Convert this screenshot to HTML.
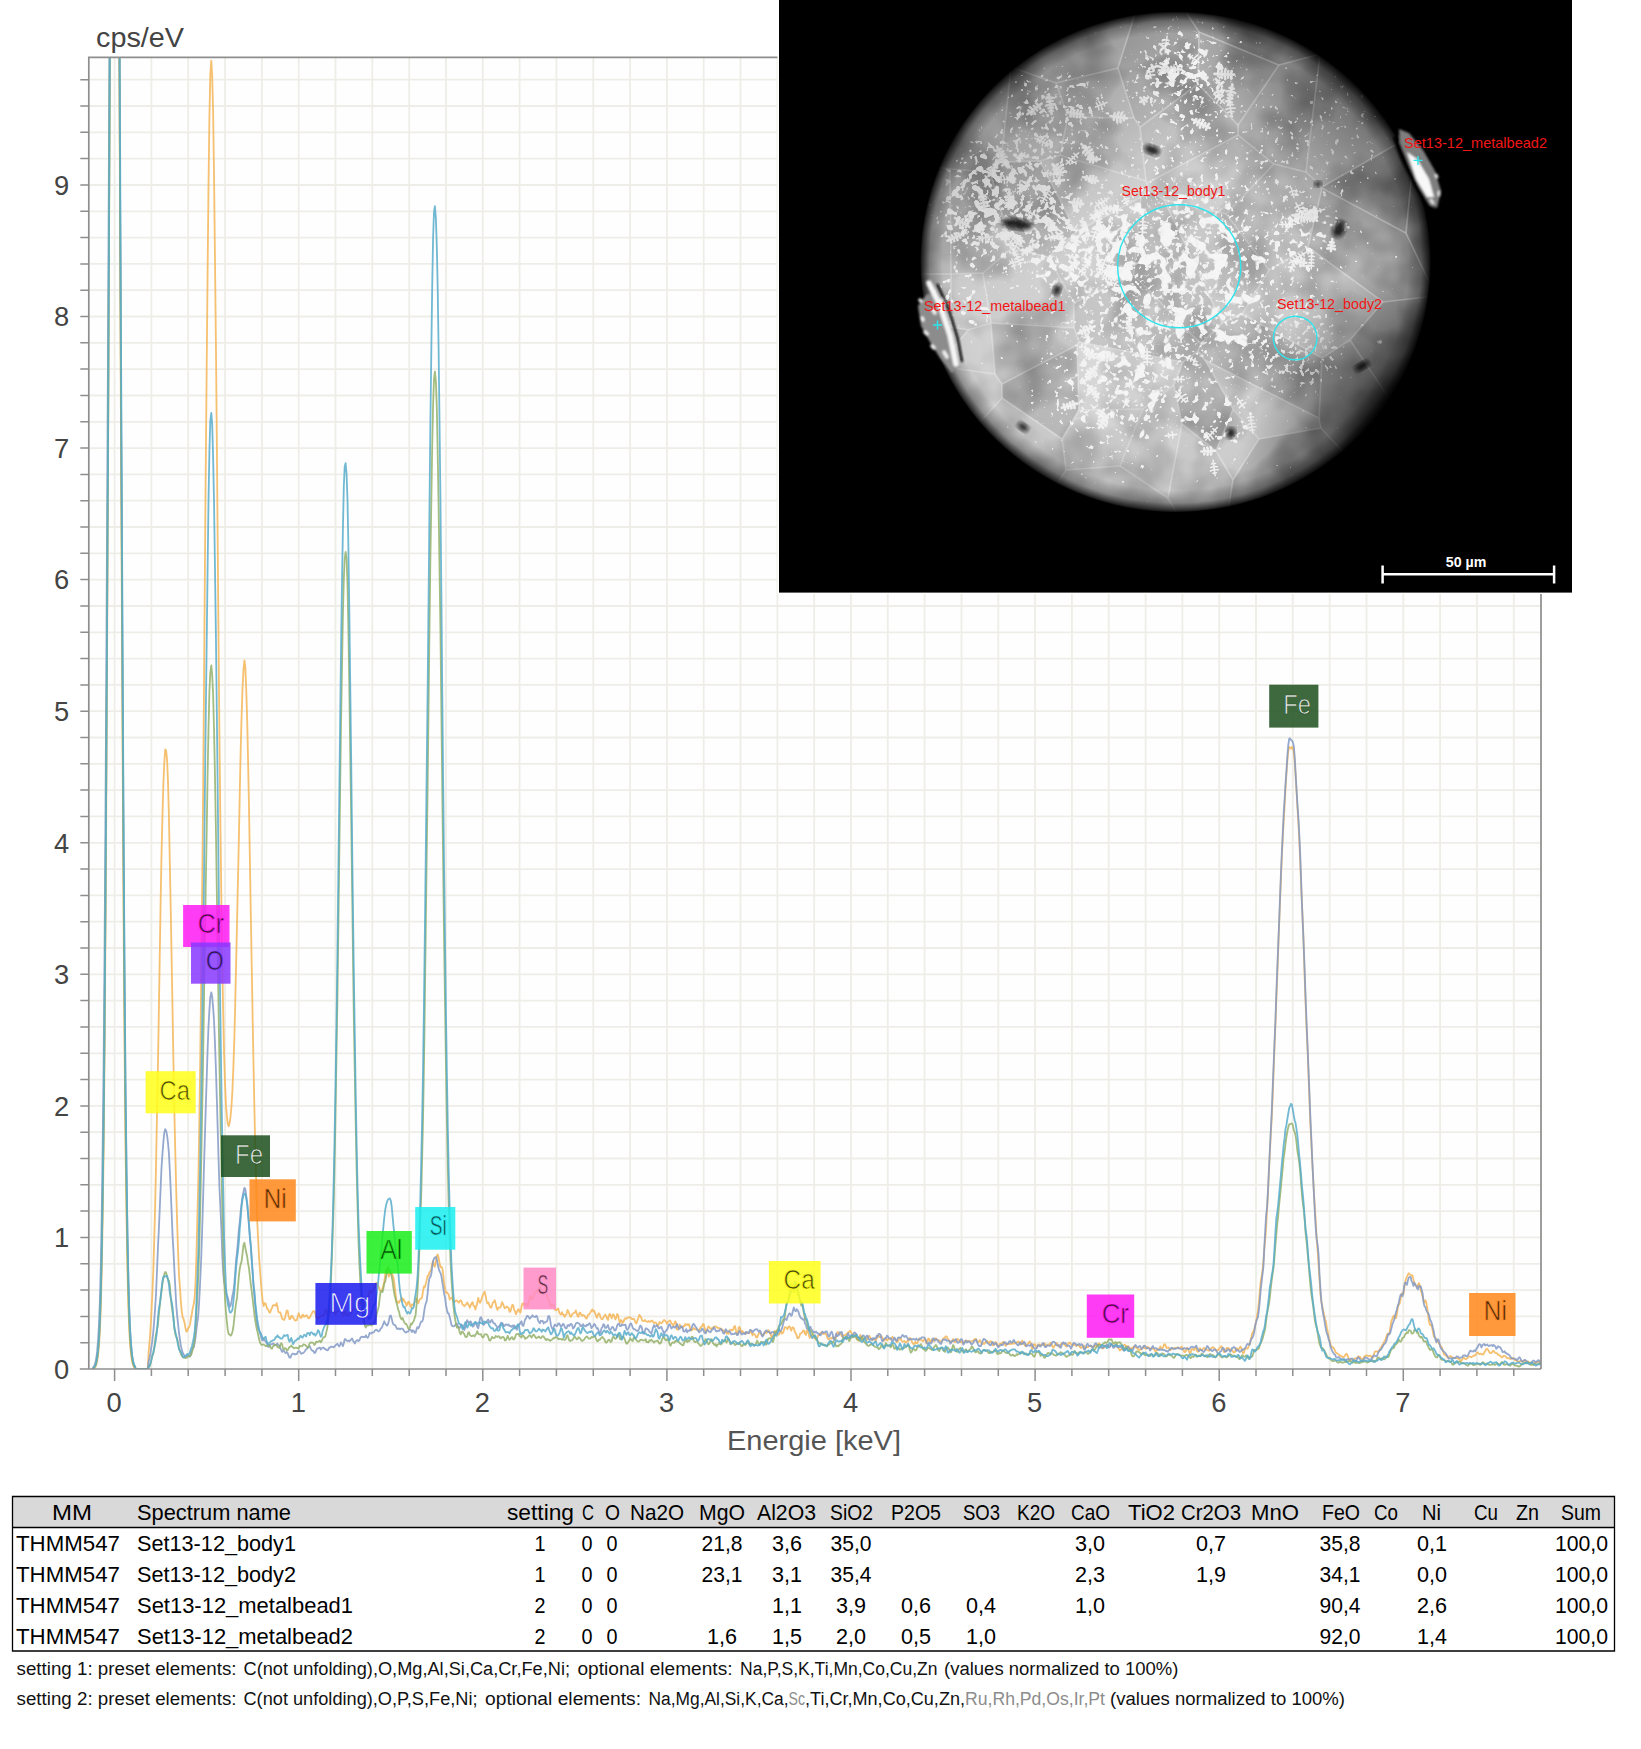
<!DOCTYPE html>
<html lang="de"><head><meta charset="utf-8"><title>EDS Spektrum Set13-12</title>
<style>html,body{margin:0;padding:0;background:#fff}svg{display:block}text{font-family:"Liberation Sans",sans-serif}</style></head><body>
<svg width="1641" height="1749" viewBox="0 0 1641 1749">
<defs>
<radialGradient id="sph" gradientUnits="userSpaceOnUse" cx="1130" cy="320" r="340">
<stop offset="0" stop-color="#d0d0d0"/><stop offset="0.45" stop-color="#c0c0c0"/><stop offset="0.7" stop-color="#acacac"/><stop offset="0.88" stop-color="#949494"/><stop offset="1" stop-color="#727272"/>
</radialGradient>
<radialGradient id="shade" gradientUnits="userSpaceOnUse" cx="1440" cy="450" r="200">
<stop offset="0" stop-color="#000" stop-opacity="0.95"/><stop offset="0.34" stop-color="#000" stop-opacity="0.88"/><stop offset="0.51" stop-color="#000" stop-opacity="0.5"/><stop offset="0.7" stop-color="#000" stop-opacity="0.25"/><stop offset="0.92" stop-color="#000" stop-opacity="0.06"/><stop offset="1" stop-color="#000" stop-opacity="0"/>
</radialGradient>
<radialGradient id="shade2" gradientUnits="userSpaceOnUse" cx="1400" cy="60" r="200">
<stop offset="0" stop-color="#000" stop-opacity="0.5"/><stop offset="0.5" stop-color="#000" stop-opacity="0.25"/><stop offset="1" stop-color="#000" stop-opacity="0"/>
</radialGradient>
<radialGradient id="shade3" gradientUnits="userSpaceOnUse" cx="940" cy="40" r="250">
<stop offset="0" stop-color="#000" stop-opacity="0.3"/><stop offset="0.5" stop-color="#000" stop-opacity="0.18"/><stop offset="1" stop-color="#000" stop-opacity="0"/>
</radialGradient>
<radialGradient id="rim" cx="0.5" cy="0.5" r="0.5">
<stop offset="0" stop-color="#000" stop-opacity="0"/><stop offset="0.91" stop-color="#000" stop-opacity="0"/><stop offset="0.96" stop-color="#000" stop-opacity="0.3"/><stop offset="0.988" stop-color="#000" stop-opacity="0.75"/><stop offset="1" stop-color="#000" stop-opacity="1"/>
</radialGradient>
<radialGradient id="dg"><stop offset="0" stop-color="#fff" stop-opacity="1"/><stop offset="0.55" stop-color="#fff" stop-opacity="0.75"/><stop offset="1" stop-color="#fff" stop-opacity="0"/></radialGradient>
<filter id="flbig" x="0" y="0" width="1" height="1" color-interpolation-filters="sRGB">
<feTurbulence type="fractalNoise" baseFrequency="0.075" numOctaves="2" seed="4" result="n"/>
<feColorMatrix in="n" type="matrix" values="1 0 0 0 0  1 0 0 0 0  1 0 0 0 0  0 0 0 0 1" result="ng"/>
<feComposite in="ng" in2="SourceGraphic" operator="arithmetic" k1="0" k2="1" k3="0.35" k4="-0.175" result="s"/>
<feColorMatrix in="s" type="matrix" values="0 0 0 0 0.96  0 0 0 0 0.96  0 0 0 0 0.96  16 0 0 0 -10.2"/>
</filter>
<filter id="flmid" x="0" y="0" width="1" height="1" color-interpolation-filters="sRGB">
<feTurbulence type="fractalNoise" baseFrequency="0.125" numOctaves="2" seed="21" result="n"/>
<feColorMatrix in="n" type="matrix" values="1 0 0 0 0  1 0 0 0 0  1 0 0 0 0  0 0 0 0 1" result="ng"/>
<feComposite in="ng" in2="SourceGraphic" operator="arithmetic" k1="0" k2="1" k3="0.33" k4="-0.17" result="s"/>
<feColorMatrix in="s" type="matrix" values="0 0 0 0 0.95  0 0 0 0 0.95  0 0 0 0 0.95  15 0 0 0 -9.7"/>
</filter>
<filter id="flsmall" x="0" y="0" width="1" height="1" color-interpolation-filters="sRGB">
<feTurbulence type="fractalNoise" baseFrequency="0.2" numOctaves="2" seed="9" result="n"/>
<feColorMatrix in="n" type="matrix" values="1 0 0 0 0  1 0 0 0 0  1 0 0 0 0  0 0 0 0 1" result="ng"/>
<feComposite in="ng" in2="SourceGraphic" operator="arithmetic" k1="0" k2="1" k3="0.3" k4="-0.17" result="s"/>
<feColorMatrix in="s" type="matrix" values="0 0 0 0 0.94  0 0 0 0 0.94  0 0 0 0 0.94  14 0 0 0 -9.3"/>
</filter>
<filter id="mottle" x="0" y="0" width="1" height="1" color-interpolation-filters="sRGB">
<feTurbulence type="fractalNoise" baseFrequency="0.018" numOctaves="3" seed="2" result="n"/>
<feColorMatrix in="n" type="matrix" values="2.6 0 0 0 -0.55  2.6 0 0 0 -0.55  2.6 0 0 0 -0.55  0 0 0 0 0.6"/>
</filter>
<clipPath id="plotclip"><rect x="88.8" y="57.3" width="1452.2" height="1311.7"/></clipPath>
<clipPath id="sphclip"><ellipse cx="1175.5" cy="262" rx="255" ry="250"/></clipPath>
<filter id="blur1"><feGaussianBlur stdDeviation="0.8"/></filter>
<filter id="blur2"><feGaussianBlur stdDeviation="2"/></filter>
</defs>

<rect width="1641" height="1749" fill="#fff"/>
<rect x="88.8" y="57.3" width="1452.2" height="1311.7" fill="#fefefe"/>
<path d="M114.6 57.3V1369.0M151.4 57.3V1369.0M188.2 57.3V1369.0M225.1 57.3V1369.0M261.9 57.3V1369.0M298.7 57.3V1369.0M335.5 57.3V1369.0M372.3 57.3V1369.0M409.2 57.3V1369.0M446.0 57.3V1369.0M482.8 57.3V1369.0M519.6 57.3V1369.0M556.4 57.3V1369.0M593.3 57.3V1369.0M630.1 57.3V1369.0M666.9 57.3V1369.0M703.7 57.3V1369.0M740.5 57.3V1369.0M777.4 57.3V1369.0M814.2 57.3V1369.0M851.0 57.3V1369.0M887.8 57.3V1369.0M924.6 57.3V1369.0M961.5 57.3V1369.0M998.3 57.3V1369.0M1035.1 57.3V1369.0M1071.9 57.3V1369.0M1108.7 57.3V1369.0M1145.6 57.3V1369.0M1182.4 57.3V1369.0M1219.2 57.3V1369.0M1256.0 57.3V1369.0M1292.8 57.3V1369.0M1329.7 57.3V1369.0M1366.5 57.3V1369.0M1403.3 57.3V1369.0M1440.1 57.3V1369.0M1476.9 57.3V1369.0M1513.8 57.3V1369.0M88.8 1342.7H1541.0M88.8 1316.4H1541.0M88.8 1290.1H1541.0M88.8 1263.8H1541.0M88.8 1237.4H1541.0M88.8 1211.1H1541.0M88.8 1184.8H1541.0M88.8 1158.5H1541.0M88.8 1132.2H1541.0M88.8 1105.9H1541.0M88.8 1079.6H1541.0M88.8 1053.3H1541.0M88.8 1026.9H1541.0M88.8 1000.6H1541.0M88.8 974.3H1541.0M88.8 948.0H1541.0M88.8 921.7H1541.0M88.8 895.4H1541.0M88.8 869.1H1541.0M88.8 842.8H1541.0M88.8 816.4H1541.0M88.8 790.1H1541.0M88.8 763.8H1541.0M88.8 737.5H1541.0M88.8 711.2H1541.0M88.8 684.9H1541.0M88.8 658.6H1541.0M88.8 632.3H1541.0M88.8 606.0H1541.0M88.8 579.6H1541.0M88.8 553.3H1541.0M88.8 527.0H1541.0M88.8 500.7H1541.0M88.8 474.4H1541.0M88.8 448.1H1541.0M88.8 421.8H1541.0M88.8 395.5H1541.0M88.8 369.1H1541.0M88.8 342.8H1541.0M88.8 316.5H1541.0M88.8 290.2H1541.0M88.8 263.9H1541.0M88.8 237.6H1541.0M88.8 211.3H1541.0M88.8 185.0H1541.0M88.8 158.6H1541.0M88.8 132.3H1541.0M88.8 106.0H1541.0M88.8 79.7H1541.0" stroke="#eeede7" stroke-width="1.8" fill="none"/>
<g clip-path="url(#plotclip)" fill="none" stroke-width="1.8" stroke-linejoin="round" stroke-opacity="0.85">
<polyline points="92.5,1369.0 93.4,1368.4 94.3,1367.9 95.3,1366.8 96.2,1364.8 97.1,1361.4 98.0,1355.5 99.0,1345.9 99.9,1330.6 100.8,1307.1 101.7,1272.3 102.6,1222.5 103.6,1153.8 104.5,1062.4 105.4,945.5 106.3,801.7 107.2,632.0 108.2,440.6 109.1,235.0 110.0,25.8 110.9,-78.2 111.8,-78.2 112.8,-78.2 113.7,-78.2 114.6,-78.2 115.5,-78.2 116.4,-78.2 117.4,-78.2 118.3,-78.2 119.2,25.8 120.1,235.0 121.0,440.6 122.0,632.0 122.9,801.7 123.8,945.5 124.7,1062.4 125.6,1153.8 126.6,1222.5 127.5,1272.3 128.4,1307.1 129.3,1330.6 130.2,1345.9 131.2,1355.5 132.1,1361.4 133.0,1364.8 133.9,1366.8 134.9,1367.9 135.8,1369.0 136.7,1369.0 137.6,1369.0 138.5,1369.0 139.5,1369.0 140.4,1369.0 141.3,1369.0 142.2,1369.0 143.1,1369.0 144.1,1369.0 145.0,1369.0 145.9,1369.0 146.8,1369.0 147.7,1369.0 148.7,1351.3 149.6,1341.8 150.5,1328.9 151.4,1312.6 152.3,1295.0 153.3,1271.6 154.2,1241.1 155.1,1207.1 156.0,1167.0 156.9,1119.2 157.9,1067.7 158.8,1014.4 159.7,958.9 160.6,904.6 161.5,854.8 162.5,814.6 163.4,783.3 164.3,763.2 165.2,749.5 166.1,750.3 167.1,760.2 168.0,781.7 168.9,815.0 169.8,861.9 170.8,913.4 171.7,962.3 172.6,1014.2 173.5,1065.4 174.4,1114.1 175.4,1156.7 176.3,1193.2 177.2,1224.6 178.1,1252.2 179.0,1274.7 180.0,1288.1 180.9,1302.5 181.8,1311.4 182.7,1317.3 183.6,1319.1 184.6,1322.9 185.5,1328.0 186.4,1331.7 187.3,1330.9 188.2,1328.2 189.2,1327.0 190.1,1324.2 191.0,1318.0 191.9,1313.5 192.8,1307.9 193.8,1303.8 194.7,1296.5 195.6,1281.3 196.5,1252.8 197.4,1216.3 198.4,1177.0 199.3,1125.4 200.2,1062.4 201.1,987.4 202.0,902.8 203.0,807.0 203.9,700.3 204.8,583.3 205.7,472.6 206.7,366.8 207.6,272.2 208.5,186.6 209.4,118.4 210.3,74.1 211.3,60.6 212.2,76.0 213.1,111.3 214.0,171.6 214.9,252.1 215.9,342.0 216.8,437.6 217.7,541.2 218.6,646.8 219.5,743.8 220.5,831.5 221.4,904.3 222.3,964.7 223.2,1013.2 224.1,1054.9 225.1,1085.6 226.0,1105.4 226.9,1116.6 227.8,1123.8 228.7,1126.3 229.7,1122.8 230.6,1115.8 231.5,1105.7 232.4,1090.9 233.3,1069.4 234.3,1040.3 235.2,1004.6 236.1,964.3 237.0,924.5 237.9,882.4 238.9,837.3 239.8,791.4 240.7,749.3 241.6,715.9 242.5,688.7 243.5,669.4 244.4,660.5 245.3,666.6 246.2,688.6 247.2,720.4 248.1,762.1 249.0,807.6 249.9,860.0 250.8,914.3 251.8,970.4 252.7,1021.4 253.6,1069.1 254.5,1113.2 255.4,1154.7 256.4,1189.2 257.3,1222.2 258.2,1240.7 259.1,1257.7 260.0,1270.0 261.0,1283.4 261.9,1293.7 262.8,1302.5 263.7,1306.0 264.6,1303.1 265.6,1303.5 266.5,1306.6 267.4,1309.1 268.3,1309.8 269.2,1312.1 270.2,1312.6 271.1,1309.7 272.0,1307.8 272.9,1305.4 273.8,1305.1 274.8,1305.4 275.7,1305.7 276.6,1303.2 277.5,1306.7 278.4,1311.8 279.4,1312.7 280.3,1312.4 281.2,1315.0 282.1,1318.7 283.1,1319.3 284.0,1320.0 284.9,1318.2 285.8,1314.3 286.7,1310.4 287.7,1310.8 288.6,1316.0 289.5,1319.2 290.4,1318.9 291.3,1316.0 292.3,1315.9 293.2,1318.1 294.1,1318.9 295.0,1320.6 295.9,1320.3 296.9,1319.9 297.8,1316.2 298.7,1313.2 299.6,1316.2 300.5,1317.9 301.5,1317.8 302.4,1314.9 303.3,1314.8 304.2,1316.8 305.1,1316.2 306.1,1315.4 307.0,1315.3 307.9,1317.7 308.8,1318.4 309.7,1317.7 310.7,1315.5 311.6,1314.2 312.5,1311.9 313.4,1311.1 314.3,1311.2 315.3,1313.7 316.2,1316.7 317.1,1318.1 318.0,1318.8 319.0,1317.0 319.9,1316.5 320.8,1315.8 321.7,1315.5 322.6,1314.9 323.6,1315.5 324.5,1313.6 325.4,1309.9 326.3,1310.5 327.2,1313.8 328.2,1316.2 329.1,1315.5 330.0,1313.0 330.9,1310.7 331.8,1308.9 332.8,1308.2 333.7,1309.5 334.6,1312.4 335.5,1314.6 336.4,1312.4 337.4,1311.7 338.3,1311.2 339.2,1310.5 340.1,1308.4 341.0,1308.5 342.0,1311.5 342.9,1315.7 343.8,1314.9 344.7,1311.8 345.6,1311.1 346.6,1313.9 347.5,1314.8 348.4,1315.6 349.3,1314.9 350.2,1314.3 351.2,1312.5 352.1,1311.3 353.0,1309.5 353.9,1308.4 354.9,1308.0 355.8,1307.3 356.7,1307.6 357.6,1304.8 358.5,1303.4 359.5,1301.2 360.4,1303.5 361.3,1302.3 362.2,1302.6 363.1,1301.4 364.1,1305.8 365.0,1303.3 365.9,1300.4 366.8,1297.8 367.7,1298.7 368.7,1294.8 369.6,1291.5 370.5,1290.8 371.4,1292.5 372.3,1291.2 373.3,1290.2 374.2,1287.7 375.1,1287.0 376.0,1283.0 376.9,1283.1 377.9,1285.1 378.8,1287.4 379.7,1289.7 380.6,1290.9 381.5,1290.8 382.5,1288.5 383.4,1285.5 384.3,1281.7 385.2,1275.0 386.1,1269.4 387.1,1270.4 388.0,1273.8 388.9,1276.6 389.8,1273.1 390.8,1273.4 391.7,1272.4 392.6,1275.4 393.5,1278.1 394.4,1283.6 395.4,1292.5 396.3,1300.0 397.2,1302.8 398.1,1301.6 399.0,1302.8 400.0,1300.5 400.9,1299.7 401.8,1297.9 402.7,1300.6 403.6,1299.0 404.6,1302.0 405.5,1302.1 406.4,1305.8 407.3,1304.4 408.2,1302.0 409.2,1301.9 410.1,1305.5 411.0,1307.1 411.9,1304.3 412.8,1305.2 413.8,1304.2 414.7,1302.4 415.6,1298.6 416.5,1298.8 417.4,1300.6 418.4,1303.3 419.3,1300.4 420.2,1298.7 421.1,1298.7 422.0,1297.7 423.0,1291.3 423.9,1286.5 424.8,1287.4 425.7,1283.9 426.6,1280.4 427.6,1275.7 428.5,1275.9 429.4,1272.6 430.3,1271.3 431.3,1269.4 432.2,1263.5 433.1,1261.1 434.0,1265.3 434.9,1266.7 435.9,1261.3 436.8,1255.8 437.7,1254.4 438.6,1257.7 439.5,1262.7 440.5,1267.3 441.4,1266.6 442.3,1268.1 443.2,1274.1 444.1,1283.3 445.1,1289.1 446.0,1292.8 446.9,1292.2 447.8,1293.4 448.7,1294.5 449.7,1299.5 450.6,1298.4 451.5,1297.6 452.4,1298.6 453.3,1301.2 454.3,1302.0 455.2,1301.3 456.1,1300.4 457.0,1300.6 457.9,1301.7 458.9,1302.7 459.8,1300.8 460.7,1300.4 461.6,1301.4 462.5,1304.4 463.5,1305.2 464.4,1306.3 465.3,1305.0 466.2,1304.5 467.2,1302.4 468.1,1303.9 469.0,1305.6 469.9,1307.7 470.8,1305.1 471.8,1302.9 472.7,1302.2 473.6,1306.1 474.5,1306.1 475.4,1309.6 476.4,1305.9 477.3,1303.1 478.2,1297.8 479.1,1301.3 480.0,1302.7 481.0,1301.0 481.9,1297.7 482.8,1295.3 483.7,1293.6 484.6,1291.6 485.6,1295.6 486.5,1300.7 487.4,1303.4 488.3,1302.4 489.2,1304.6 490.2,1307.3 491.1,1307.8 492.0,1305.6 492.9,1302.4 493.8,1302.1 494.8,1300.3 495.7,1303.8 496.6,1307.8 497.5,1310.0 498.4,1307.5 499.4,1307.7 500.3,1307.7 501.2,1305.3 502.1,1302.1 503.1,1304.1 504.0,1306.7 504.9,1308.3 505.8,1307.7 506.7,1306.5 507.7,1307.2 508.6,1307.6 509.5,1311.9 510.4,1311.5 511.3,1308.3 512.3,1304.8 513.2,1305.2 514.1,1309.5 515.0,1311.3 515.9,1314.3 516.9,1312.0 517.8,1309.8 518.7,1309.3 519.6,1311.7 520.5,1312.7 521.5,1306.7 522.4,1303.6 523.3,1303.2 524.2,1305.5 525.1,1304.0 526.1,1303.6 527.0,1305.4 527.9,1306.3 528.8,1301.9 529.7,1297.0 530.7,1295.9 531.6,1299.6 532.5,1299.3 533.4,1296.7 534.3,1294.4 535.3,1292.2 536.2,1291.5 537.1,1290.8 538.0,1290.3 539.0,1288.2 539.9,1286.5 540.8,1288.1 541.7,1290.6 542.6,1292.6 543.6,1292.4 544.5,1291.1 545.4,1292.1 546.3,1294.3 547.2,1297.2 548.2,1298.0 549.1,1301.1 550.0,1304.3 550.9,1306.6 551.8,1304.5 552.8,1305.4 553.7,1305.2 554.6,1308.9 555.5,1310.2 556.4,1310.3 557.4,1309.0 558.3,1308.4 559.2,1312.5 560.1,1313.9 561.0,1314.6 562.0,1312.2 562.9,1314.6 563.8,1314.7 564.7,1316.9 565.6,1315.0 566.6,1314.1 567.5,1309.9 568.4,1311.4 569.3,1314.0 570.2,1316.5 571.2,1316.6 572.1,1314.3 573.0,1313.6 573.9,1312.8 574.9,1312.7 575.8,1310.4 576.7,1313.4 577.6,1316.3 578.5,1316.7 579.5,1312.6 580.4,1312.9 581.3,1314.9 582.2,1315.9 583.1,1315.0 584.1,1315.4 585.0,1316.6 585.9,1318.4 586.8,1318.5 587.7,1315.5 588.7,1314.5 589.6,1313.9 590.5,1312.4 591.4,1310.5 592.3,1309.5 593.3,1311.4 594.2,1310.7 595.1,1313.2 596.0,1315.5 596.9,1317.9 597.9,1314.7 598.8,1313.3 599.7,1314.3 600.6,1317.8 601.5,1319.0 602.5,1319.0 603.4,1317.5 604.3,1315.9 605.2,1314.6 606.1,1315.7 607.1,1318.6 608.0,1320.1 608.9,1315.2 609.8,1313.8 610.7,1315.8 611.7,1318.4 612.6,1314.9 613.5,1314.4 614.4,1316.7 615.4,1319.4 616.3,1317.5 617.2,1314.0 618.1,1315.2 619.0,1320.0 620.0,1322.9 620.9,1319.9 621.8,1320.6 622.7,1322.9 623.6,1321.7 624.6,1318.9 625.5,1318.2 626.4,1318.9 627.3,1317.6 628.2,1317.6 629.2,1317.6 630.1,1317.0 631.0,1318.0 631.9,1319.1 632.8,1319.0 633.8,1318.7 634.7,1320.2 635.6,1322.6 636.5,1323.4 637.4,1320.4 638.4,1317.7 639.3,1314.9 640.2,1316.0 641.1,1317.1 642.0,1320.3 643.0,1321.1 643.9,1321.2 644.8,1319.9 645.7,1321.0 646.6,1321.6 647.6,1321.8 648.5,1321.0 649.4,1321.9 650.3,1321.9 651.3,1320.7 652.2,1320.6 653.1,1321.7 654.0,1323.2 654.9,1322.7 655.9,1322.5 656.8,1324.2 657.7,1326.0 658.6,1324.6 659.5,1322.0 660.5,1323.0 661.4,1323.5 662.3,1322.5 663.2,1320.8 664.1,1319.9 665.1,1320.8 666.0,1321.7 666.9,1323.7 667.8,1322.5 668.7,1321.4 669.7,1320.5 670.6,1321.2 671.5,1323.6 672.4,1324.2 673.3,1326.1 674.3,1323.3 675.2,1321.4 676.1,1322.3 677.0,1329.4 677.9,1329.8 678.9,1327.5 679.8,1324.5 680.7,1327.2 681.6,1327.0 682.5,1328.0 683.5,1326.0 684.4,1326.1 685.3,1324.0 686.2,1325.0 687.2,1324.1 688.1,1325.2 689.0,1324.2 689.9,1327.6 690.8,1330.6 691.8,1330.2 692.7,1328.7 693.6,1328.0 694.5,1329.4 695.4,1329.1 696.4,1328.8 697.3,1329.7 698.2,1330.8 699.1,1329.9 700.0,1328.5 701.0,1326.9 701.9,1326.7 702.8,1324.1 703.7,1324.2 704.6,1327.7 705.6,1331.2 706.5,1331.9 707.4,1328.3 708.3,1326.5 709.2,1327.1 710.2,1328.4 711.1,1329.0 712.0,1328.2 712.9,1328.2 713.8,1326.8 714.8,1326.7 715.7,1326.2 716.6,1327.3 717.5,1327.4 718.4,1328.5 719.4,1328.2 720.3,1328.5 721.2,1328.7 722.1,1330.2 723.1,1331.0 724.0,1330.3 724.9,1332.3 725.8,1331.7 726.7,1333.7 727.7,1332.8 728.6,1333.8 729.5,1330.4 730.4,1329.6 731.3,1329.6 732.3,1330.5 733.2,1329.7 734.1,1326.8 735.0,1326.0 735.9,1330.3 736.9,1334.5 737.8,1333.9 738.7,1327.5 739.6,1326.9 740.5,1329.5 741.5,1332.5 742.4,1331.0 743.3,1332.3 744.2,1332.6 745.1,1333.7 746.1,1333.4 747.0,1332.7 747.9,1332.2 748.8,1333.3 749.7,1332.7 750.7,1330.8 751.6,1332.4 752.5,1335.3 753.4,1334.0 754.3,1334.2 755.3,1335.2 756.2,1337.5 757.1,1337.4 758.0,1335.3 759.0,1333.0 759.9,1332.7 760.8,1333.8 761.7,1334.2 762.6,1335.5 763.6,1334.9 764.5,1332.3 765.4,1332.0 766.3,1333.2 767.2,1332.0 768.2,1330.2 769.1,1330.8 770.0,1333.8 770.9,1335.1 771.8,1337.3 772.8,1335.3 773.7,1334.2 774.6,1331.0 775.5,1332.5 776.4,1331.9 777.4,1334.4 778.3,1334.8 779.2,1334.5 780.1,1331.8 781.0,1331.2 782.0,1333.6 782.9,1332.8 783.8,1330.6 784.7,1327.4 785.6,1327.1 786.6,1328.0 787.5,1329.2 788.4,1326.9 789.3,1326.3 790.2,1327.5 791.2,1330.6 792.1,1327.9 793.0,1327.2 793.9,1328.4 794.8,1331.7 795.8,1333.5 796.7,1335.4 797.6,1338.4 798.5,1338.0 799.5,1336.1 800.4,1333.3 801.3,1333.2 802.2,1332.4 803.1,1330.5 804.1,1330.6 805.0,1333.7 805.9,1335.0 806.8,1330.5 807.7,1329.9 808.7,1334.4 809.6,1337.9 810.5,1337.0 811.4,1334.6 812.3,1335.3 813.3,1335.9 814.2,1336.9 815.1,1337.6 816.0,1339.6 816.9,1338.9 817.9,1335.9 818.8,1335.1 819.7,1334.4 820.6,1333.2 821.5,1332.1 822.5,1333.4 823.4,1334.0 824.3,1333.9 825.2,1333.5 826.1,1333.8 827.1,1337.1 828.0,1339.0 828.9,1339.4 829.8,1338.7 830.7,1338.0 831.7,1338.5 832.6,1337.2 833.5,1337.6 834.4,1337.6 835.4,1339.6 836.3,1336.3 837.2,1332.3 838.1,1332.0 839.0,1334.0 840.0,1333.2 840.9,1333.7 841.8,1336.1 842.7,1336.9 843.6,1335.1 844.6,1335.4 845.5,1335.0 846.4,1334.1 847.3,1333.3 848.2,1332.4 849.2,1331.9 850.1,1330.6 851.0,1332.1 851.9,1333.7 852.8,1336.6 853.8,1336.0 854.7,1334.9 855.6,1334.7 856.5,1337.4 857.4,1340.0 858.4,1340.5 859.3,1337.9 860.2,1334.9 861.1,1337.0 862.0,1339.3 863.0,1340.6 863.9,1338.3 864.8,1337.8 865.7,1338.2 866.6,1339.9 867.6,1339.2 868.5,1336.7 869.4,1335.9 870.3,1337.6 871.3,1339.0 872.2,1340.3 873.1,1339.8 874.0,1339.1 874.9,1339.3 875.9,1340.8 876.8,1338.2 877.7,1335.8 878.6,1335.4 879.5,1337.2 880.5,1336.8 881.4,1336.0 882.3,1337.6 883.2,1339.5 884.1,1340.7 885.1,1339.2 886.0,1338.8 886.9,1340.3 887.8,1340.1 888.7,1338.7 889.7,1338.8 890.6,1339.5 891.5,1338.7 892.4,1336.8 893.3,1337.9 894.3,1338.0 895.2,1339.0 896.1,1341.1 897.0,1342.4 897.9,1341.3 898.9,1339.3 899.8,1338.1 900.7,1338.2 901.6,1340.9 902.5,1341.6 903.5,1341.3 904.4,1341.0 905.3,1342.3 906.2,1342.6 907.2,1341.2 908.1,1341.3 909.0,1338.4 909.9,1338.1 910.8,1338.5 911.8,1341.3 912.7,1343.3 913.6,1344.2 914.5,1343.9 915.4,1342.0 916.4,1343.3 917.3,1343.2 918.2,1340.8 919.1,1338.6 920.0,1339.3 921.0,1340.1 921.9,1340.3 922.8,1341.2 923.7,1340.5 924.6,1339.1 925.6,1340.2 926.5,1343.5 927.4,1341.6 928.3,1338.5 929.2,1339.0 930.2,1341.9 931.1,1341.1 932.0,1339.2 932.9,1341.5 933.8,1341.0 934.8,1339.3 935.7,1338.1 936.6,1339.5 937.5,1340.1 938.4,1340.5 939.4,1340.4 940.3,1341.8 941.2,1341.4 942.1,1341.0 943.1,1338.5 944.0,1338.5 944.9,1337.3 945.8,1336.4 946.7,1336.5 947.7,1338.7 948.6,1339.9 949.5,1340.9 950.4,1341.9 951.3,1342.3 952.3,1341.1 953.2,1339.0 954.1,1341.3 955.0,1342.2 955.9,1341.9 956.9,1339.6 957.8,1339.0 958.7,1340.1 959.6,1340.7 960.5,1342.2 961.5,1341.6 962.4,1342.8 963.3,1342.9 964.2,1342.0 965.1,1340.7 966.1,1340.4 967.0,1341.8 967.9,1340.8 968.8,1341.1 969.7,1341.1 970.7,1341.9 971.6,1341.2 972.5,1340.8 973.4,1340.9 974.3,1339.3 975.3,1339.0 976.2,1339.2 977.1,1341.8 978.0,1342.3 978.9,1341.3 979.9,1340.0 980.8,1341.6 981.7,1343.6 982.6,1344.1 983.6,1343.1 984.5,1343.9 985.4,1342.4 986.3,1341.5 987.2,1340.7 988.2,1342.9 989.1,1343.1 990.0,1341.3 990.9,1341.2 991.8,1342.6 992.8,1345.3 993.7,1345.2 994.6,1343.1 995.5,1342.1 996.4,1342.7 997.4,1345.9 998.3,1346.1 999.2,1345.0 1000.1,1343.6 1001.0,1343.9 1002.0,1343.4 1002.9,1342.1 1003.8,1341.9 1004.7,1343.7 1005.6,1345.9 1006.6,1344.4 1007.5,1344.2 1008.4,1343.2 1009.3,1344.3 1010.2,1343.9 1011.2,1343.8 1012.1,1343.9 1013.0,1342.6 1013.9,1343.8 1014.8,1343.4 1015.8,1342.9 1016.7,1342.7 1017.6,1341.9 1018.5,1341.4 1019.5,1343.0 1020.4,1344.6 1021.3,1342.5 1022.2,1340.6 1023.1,1342.8 1024.1,1344.3 1025.0,1345.6 1025.9,1346.1 1026.8,1344.9 1027.7,1343.5 1028.7,1343.1 1029.6,1341.4 1030.5,1342.5 1031.4,1346.5 1032.3,1349.2 1033.3,1346.5 1034.2,1344.1 1035.1,1344.4 1036.0,1346.4 1036.9,1347.6 1037.9,1345.1 1038.8,1344.2 1039.7,1344.9 1040.6,1345.5 1041.5,1344.4 1042.5,1345.2 1043.4,1345.0 1044.3,1343.7 1045.2,1343.8 1046.1,1345.8 1047.1,1345.2 1048.0,1344.5 1048.9,1344.3 1049.8,1344.2 1050.7,1342.8 1051.7,1344.7 1052.6,1346.8 1053.5,1347.7 1054.4,1345.9 1055.4,1344.6 1056.3,1343.1 1057.2,1343.5 1058.1,1345.7 1059.0,1346.8 1060.0,1346.6 1060.9,1344.2 1061.8,1343.4 1062.7,1343.2 1063.6,1344.0 1064.6,1344.7 1065.5,1345.6 1066.4,1346.6 1067.3,1345.4 1068.2,1343.6 1069.2,1342.6 1070.1,1342.7 1071.0,1344.1 1071.9,1344.8 1072.8,1345.5 1073.8,1344.5 1074.7,1345.0 1075.6,1345.4 1076.5,1346.1 1077.4,1344.8 1078.4,1345.2 1079.3,1346.1 1080.2,1347.4 1081.1,1348.2 1082.0,1347.2 1083.0,1345.4 1083.9,1345.7 1084.8,1348.2 1085.7,1348.0 1086.6,1346.7 1087.6,1347.2 1088.5,1346.7 1089.4,1345.9 1090.3,1345.9 1091.3,1346.5 1092.2,1346.4 1093.1,1346.5 1094.0,1346.7 1094.9,1345.4 1095.9,1345.9 1096.8,1345.6 1097.7,1345.4 1098.6,1343.4 1099.5,1343.8 1100.5,1345.0 1101.4,1347.3 1102.3,1348.6 1103.2,1348.3 1104.1,1347.6 1105.1,1345.9 1106.0,1345.5 1106.9,1346.5 1107.8,1346.7 1108.7,1346.6 1109.7,1346.1 1110.6,1345.5 1111.5,1343.7 1112.4,1344.7 1113.3,1346.7 1114.3,1346.5 1115.2,1344.6 1116.1,1344.1 1117.0,1344.7 1117.9,1347.4 1118.9,1349.0 1119.8,1350.5 1120.7,1349.6 1121.6,1349.4 1122.5,1347.7 1123.5,1345.9 1124.4,1344.8 1125.3,1345.1 1126.2,1346.6 1127.2,1346.4 1128.1,1346.0 1129.0,1347.5 1129.9,1349.3 1130.8,1348.6 1131.8,1347.8 1132.7,1348.0 1133.6,1346.8 1134.5,1345.8 1135.4,1346.6 1136.4,1347.9 1137.3,1348.6 1138.2,1349.3 1139.1,1350.0 1140.0,1349.6 1141.0,1349.7 1141.9,1348.1 1142.8,1347.5 1143.7,1346.4 1144.6,1348.1 1145.6,1348.6 1146.5,1348.5 1147.4,1346.7 1148.3,1347.2 1149.2,1348.2 1150.2,1348.6 1151.1,1348.3 1152.0,1348.7 1152.9,1348.4 1153.8,1348.9 1154.8,1350.6 1155.7,1351.6 1156.6,1350.0 1157.5,1350.2 1158.4,1349.4 1159.4,1348.5 1160.3,1346.4 1161.2,1348.2 1162.1,1348.7 1163.0,1347.5 1164.0,1344.6 1164.9,1344.1 1165.8,1346.2 1166.7,1348.2 1167.7,1347.6 1168.6,1347.5 1169.5,1348.9 1170.4,1350.2 1171.3,1348.6 1172.3,1348.4 1173.2,1348.6 1174.1,1348.7 1175.0,1347.7 1175.9,1348.2 1176.9,1347.8 1177.8,1347.2 1178.7,1348.4 1179.6,1348.4 1180.5,1347.7 1181.5,1346.5 1182.4,1348.3 1183.3,1349.1 1184.2,1351.6 1185.1,1352.1 1186.1,1350.7 1187.0,1347.9 1187.9,1348.3 1188.8,1351.2 1189.7,1353.2 1190.7,1352.5 1191.6,1349.2 1192.5,1349.2 1193.4,1349.8 1194.3,1349.9 1195.3,1347.9 1196.2,1348.0 1197.1,1351.0 1198.0,1351.8 1198.9,1350.7 1199.9,1348.1 1200.8,1349.3 1201.7,1350.2 1202.6,1349.3 1203.6,1348.0 1204.5,1348.1 1205.4,1349.9 1206.3,1349.0 1207.2,1349.9 1208.2,1350.5 1209.1,1350.9 1210.0,1349.3 1210.9,1348.3 1211.8,1348.0 1212.8,1346.9 1213.7,1347.6 1214.6,1348.5 1215.5,1349.5 1216.4,1350.7 1217.4,1350.0 1218.3,1350.1 1219.2,1348.3 1220.1,1347.7 1221.0,1346.1 1222.0,1347.0 1222.9,1349.0 1223.8,1351.9 1224.7,1352.0 1225.6,1350.9 1226.6,1348.0 1227.5,1348.2 1228.4,1348.0 1229.3,1349.6 1230.2,1349.3 1231.2,1349.9 1232.1,1349.9 1233.0,1351.8 1233.9,1352.5 1234.8,1352.2 1235.8,1349.4 1236.7,1348.1 1237.6,1349.2 1238.5,1349.3 1239.5,1348.3 1240.4,1346.5 1241.3,1348.1 1242.2,1351.5 1243.1,1353.5 1244.1,1352.5 1245.0,1349.0 1245.9,1348.7 1246.8,1348.3 1247.7,1348.7 1248.7,1346.2 1249.6,1344.4 1250.5,1340.5 1251.4,1337.0 1252.3,1332.9 1253.3,1331.9 1254.2,1329.7 1255.1,1325.8 1256.0,1322.1 1256.9,1316.7 1257.9,1311.5 1258.8,1302.8 1259.7,1293.3 1260.6,1281.8 1261.5,1277.0 1262.5,1270.4 1263.4,1261.7 1264.3,1249.5 1265.2,1239.6 1266.1,1227.4 1267.1,1209.0 1268.0,1192.6 1268.9,1173.3 1269.8,1153.8 1270.7,1136.2 1271.7,1118.7 1272.6,1098.1 1273.5,1073.7 1274.4,1050.2 1275.4,1025.3 1276.3,1000.4 1277.2,977.0 1278.1,953.2 1279.0,927.3 1280.0,902.3 1280.9,879.1 1281.8,857.7 1282.7,838.6 1283.6,822.6 1284.6,806.0 1285.5,788.7 1286.4,774.2 1287.3,761.6 1288.2,751.4 1289.2,746.8 1290.1,747.7 1291.0,748.7 1291.9,747.0 1292.8,747.3 1293.8,752.3 1294.7,761.2 1295.6,775.4 1296.5,790.2 1297.4,807.0 1298.4,822.8 1299.3,840.5 1300.2,860.7 1301.1,884.1 1302.0,904.3 1303.0,926.6 1303.9,952.4 1304.8,981.0 1305.7,1006.2 1306.6,1028.5 1307.6,1050.7 1308.5,1073.6 1309.4,1098.1 1310.3,1122.1 1311.3,1142.1 1312.2,1160.5 1313.1,1177.1 1314.0,1194.2 1314.9,1207.7 1315.9,1224.1 1316.8,1240.9 1317.7,1251.2 1318.6,1265.5 1319.5,1279.4 1320.5,1294.6 1321.4,1301.8 1322.3,1306.5 1323.2,1310.8 1324.1,1314.9 1325.1,1319.2 1326.0,1321.9 1326.9,1328.2 1327.8,1331.9 1328.7,1337.4 1329.7,1340.8 1330.6,1344.5 1331.5,1346.6 1332.4,1347.4 1333.3,1347.4 1334.3,1349.0 1335.2,1351.4 1336.1,1352.9 1337.0,1353.2 1337.9,1353.9 1338.9,1354.7 1339.8,1355.4 1340.7,1355.9 1341.6,1356.2 1342.5,1357.2 1343.5,1357.0 1344.4,1356.5 1345.3,1355.0 1346.2,1353.8 1347.1,1354.5 1348.1,1356.6 1349.0,1359.1 1349.9,1359.6 1350.8,1360.1 1351.8,1359.4 1352.7,1360.4 1353.6,1360.0 1354.5,1358.9 1355.4,1358.1 1356.4,1358.6 1357.3,1357.9 1358.2,1356.2 1359.1,1356.8 1360.0,1357.0 1361.0,1358.5 1361.9,1358.8 1362.8,1359.8 1363.7,1357.6 1364.6,1356.2 1365.6,1355.6 1366.5,1355.5 1367.4,1355.3 1368.3,1356.1 1369.2,1356.0 1370.2,1355.6 1371.1,1356.2 1372.0,1358.2 1372.9,1357.7 1373.8,1354.6 1374.8,1351.8 1375.7,1351.4 1376.6,1351.3 1377.5,1351.9 1378.4,1351.4 1379.4,1351.3 1380.3,1348.0 1381.2,1347.3 1382.1,1345.4 1383.0,1344.4 1384.0,1342.2 1384.9,1340.6 1385.8,1338.8 1386.7,1335.5 1387.7,1333.8 1388.6,1334.4 1389.5,1332.8 1390.4,1327.1 1391.3,1321.2 1392.3,1318.8 1393.2,1316.3 1394.1,1315.5 1395.0,1318.1 1395.9,1318.3 1396.9,1314.3 1397.8,1307.3 1398.7,1304.7 1399.6,1303.9 1400.5,1299.4 1401.5,1294.3 1402.4,1292.8 1403.3,1294.6 1404.2,1288.7 1405.1,1282.7 1406.1,1278.3 1407.0,1276.6 1407.9,1274.6 1408.8,1273.2 1409.7,1274.5 1410.7,1274.8 1411.6,1275.7 1412.5,1275.4 1413.4,1279.4 1414.3,1282.8 1415.3,1285.1 1416.2,1285.5 1417.1,1286.9 1418.0,1284.6 1418.9,1283.0 1419.9,1285.5 1420.8,1290.8 1421.7,1292.5 1422.6,1296.7 1423.6,1300.8 1424.5,1302.5 1425.4,1300.3 1426.3,1302.6 1427.2,1307.8 1428.2,1315.9 1429.1,1322.0 1430.0,1325.1 1430.9,1324.8 1431.8,1326.0 1432.8,1331.3 1433.7,1335.8 1434.6,1337.6 1435.5,1337.9 1436.4,1340.1 1437.4,1341.7 1438.3,1342.4 1439.2,1343.9 1440.1,1345.4 1441.0,1346.1 1442.0,1347.9 1442.9,1351.0 1443.8,1353.8 1444.7,1354.8 1445.6,1355.0 1446.6,1356.2 1447.5,1357.5 1448.4,1358.1 1449.3,1356.6 1450.2,1356.0 1451.2,1356.5 1452.1,1357.3 1453.0,1357.7 1453.9,1357.8 1454.8,1357.9 1455.8,1357.8 1456.7,1358.1 1457.6,1358.4 1458.5,1358.8 1459.5,1359.1 1460.4,1360.6 1461.3,1360.9 1462.2,1359.5 1463.1,1357.9 1464.1,1357.9 1465.0,1358.8 1465.9,1359.1 1466.8,1358.7 1467.7,1357.8 1468.7,1356.3 1469.6,1356.7 1470.5,1356.7 1471.4,1357.2 1472.3,1356.7 1473.3,1355.8 1474.2,1355.3 1475.1,1355.5 1476.0,1354.2 1476.9,1352.6 1477.9,1352.5 1478.8,1353.8 1479.7,1354.0 1480.6,1353.7 1481.5,1354.4 1482.5,1354.2 1483.4,1354.5 1484.3,1352.5 1485.2,1351.1 1486.1,1349.3 1487.1,1348.7 1488.0,1349.8 1488.9,1351.4 1489.8,1352.8 1490.7,1353.1 1491.7,1352.8 1492.6,1351.1 1493.5,1350.7 1494.4,1351.9 1495.4,1352.9 1496.3,1353.1 1497.2,1353.4 1498.1,1354.6 1499.0,1355.1 1500.0,1355.7 1500.9,1356.5 1501.8,1357.5 1502.7,1356.9 1503.6,1355.9 1504.6,1355.8 1505.5,1356.2 1506.4,1357.6 1507.3,1358.1 1508.2,1358.3 1509.2,1358.0 1510.1,1359.0 1511.0,1358.6 1511.9,1358.2 1512.8,1357.8 1513.8,1359.0 1514.7,1359.9 1515.6,1360.1 1516.5,1360.8 1517.4,1361.5 1518.4,1362.1 1519.3,1361.3 1520.2,1361.2 1521.1,1360.6 1522.0,1361.6 1523.0,1361.3 1523.9,1361.4 1524.8,1360.3 1525.7,1361.3 1526.6,1361.3 1527.6,1361.7 1528.5,1361.6 1529.4,1362.8 1530.3,1362.7 1531.2,1362.5 1532.2,1362.8 1533.1,1363.4 1534.0,1363.4 1534.9,1362.1 1535.9,1362.3 1536.8,1362.3 1537.7,1361.9 1538.6,1361.9 1539.5,1361.4 1540.5,1361.5 1541.4,1361.5 1542.3,1363.1 1543.2,1363.4" stroke="#f3b556"/>
<polyline points="92.5,1369.0 93.4,1367.2 94.3,1365.7 95.3,1363.1 96.2,1358.8 97.1,1351.9 98.0,1341.1 99.0,1324.5 99.9,1300.1 100.8,1265.0 101.7,1216.3 102.6,1150.7 103.6,1065.2 104.5,957.3 105.4,826.1 106.3,671.9 107.2,497.7 108.2,308.8 109.1,113.3 110.0,-78.2 110.9,-78.2 111.8,-78.2 112.8,-78.2 113.7,-78.2 114.6,-78.2 115.5,-78.2 116.4,-78.2 117.4,-78.2 118.3,-78.2 119.2,-3.2 120.1,191.7 121.0,385.7 122.0,569.5 122.9,736.2 123.8,881.4 124.7,1003.3 125.6,1101.9 126.6,1179.2 127.5,1237.6 128.4,1280.5 129.3,1311.0 130.2,1332.0 131.2,1346.0 132.1,1355.1 133.0,1360.8 133.9,1364.3 134.9,1366.4 135.8,1369.0 136.7,1369.0 137.6,1369.0 138.5,1369.0 139.5,1369.0 140.4,1369.0 141.3,1369.0 142.2,1369.0 143.1,1369.0 144.1,1369.0 145.0,1369.0 145.9,1369.0 146.8,1369.0 147.7,1369.0 148.7,1361.2 149.6,1357.9 150.5,1353.0 151.4,1346.7 152.3,1341.2 153.3,1332.0 154.2,1321.3 155.1,1308.1 156.0,1294.3 156.9,1273.3 157.9,1248.5 158.8,1230.3 159.7,1210.2 160.6,1188.4 161.5,1167.9 162.5,1153.2 163.4,1141.8 164.3,1132.7 165.2,1129.1 166.1,1130.6 167.1,1135.4 168.0,1142.9 168.9,1152.9 169.8,1169.9 170.8,1191.9 171.7,1213.7 172.6,1236.4 173.5,1251.4 174.4,1270.5 175.4,1289.2 176.3,1305.8 177.2,1316.2 178.1,1324.0 179.0,1333.0 180.0,1340.0 180.9,1346.0 181.8,1349.9 182.7,1352.7 183.6,1354.2 184.6,1356.1 185.5,1356.9 186.4,1356.0 187.3,1355.4 188.2,1355.7 189.2,1356.3 190.1,1356.4 191.0,1353.0 191.9,1350.5 192.8,1347.7 193.8,1347.4 194.7,1342.5 195.6,1336.9 196.5,1328.6 197.4,1321.8 198.4,1314.0 199.3,1299.0 200.2,1280.9 201.1,1260.8 202.0,1234.9 203.0,1201.7 203.9,1169.7 204.8,1139.6 205.7,1109.5 206.7,1078.2 207.6,1049.6 208.5,1026.8 209.4,1010.1 210.3,997.1 211.3,992.4 212.2,996.8 213.1,1007.4 214.0,1020.2 214.9,1041.1 215.9,1068.7 216.8,1097.9 217.7,1128.8 218.6,1160.2 219.5,1188.9 220.5,1209.6 221.4,1229.1 222.3,1255.4 223.2,1272.8 224.1,1281.9 225.1,1286.3 226.0,1293.0 226.9,1295.7 227.8,1297.7 228.7,1301.7 229.7,1306.8 230.6,1305.6 231.5,1301.5 232.4,1295.8 233.3,1292.3 234.3,1284.2 235.2,1272.8 236.1,1260.0 237.0,1252.3 237.9,1241.9 238.9,1229.3 239.8,1221.8 240.7,1211.0 241.6,1203.6 242.5,1196.7 243.5,1192.0 244.4,1187.8 245.3,1189.1 246.2,1195.6 247.2,1203.0 248.1,1212.9 249.0,1225.9 249.9,1237.8 250.8,1245.8 251.8,1259.3 252.7,1274.0 253.6,1287.2 254.5,1297.5 255.4,1307.7 256.4,1318.1 257.3,1325.3 258.2,1328.7 259.1,1330.3 260.0,1332.3 261.0,1336.5 261.9,1339.9 262.8,1340.5 263.7,1339.0 264.6,1340.2 265.6,1341.6 266.5,1343.0 267.4,1344.6 268.3,1346.8 269.2,1346.8 270.2,1345.1 271.1,1344.2 272.0,1344.2 272.9,1343.5 273.8,1343.7 274.8,1345.1 275.7,1345.1 276.6,1344.2 277.5,1343.5 278.4,1345.5 279.4,1345.6 280.3,1348.0 281.2,1350.2 282.1,1351.9 283.1,1350.3 284.0,1351.0 284.9,1352.3 285.8,1353.2 286.7,1351.9 287.7,1353.1 288.6,1355.7 289.5,1357.6 290.4,1357.7 291.3,1355.3 292.3,1353.8 293.2,1353.6 294.1,1353.8 295.0,1354.5 295.9,1353.9 296.9,1354.0 297.8,1351.8 298.7,1351.2 299.6,1351.2 300.5,1352.7 301.5,1353.8 302.4,1353.2 303.3,1353.0 304.2,1352.0 305.1,1350.8 306.1,1349.2 307.0,1348.8 307.9,1347.4 308.8,1346.4 309.7,1346.2 310.7,1348.3 311.6,1350.0 312.5,1350.8 313.4,1351.0 314.3,1352.8 315.3,1352.8 316.2,1350.4 317.1,1348.7 318.0,1348.4 319.0,1347.9 319.9,1347.6 320.8,1349.5 321.7,1348.4 322.6,1347.6 323.6,1347.6 324.5,1348.8 325.4,1349.0 326.3,1349.9 327.2,1350.3 328.2,1349.9 329.1,1347.7 330.0,1347.6 330.9,1346.7 331.8,1347.0 332.8,1346.7 333.7,1347.4 334.6,1346.5 335.5,1345.3 336.4,1344.4 337.4,1343.8 338.3,1345.2 339.2,1346.6 340.1,1344.8 341.0,1342.4 342.0,1344.3 342.9,1346.1 343.8,1343.3 344.7,1339.2 345.6,1339.2 346.6,1340.7 347.5,1340.9 348.4,1340.7 349.3,1341.4 350.2,1340.2 351.2,1339.5 352.1,1338.4 353.0,1340.9 353.9,1341.9 354.9,1343.5 355.8,1341.4 356.7,1340.4 357.6,1340.0 358.5,1341.1 359.5,1340.2 360.4,1337.8 361.3,1336.9 362.2,1336.7 363.1,1337.1 364.1,1337.0 365.0,1337.2 365.9,1335.3 366.8,1337.0 367.7,1337.9 368.7,1336.1 369.6,1332.9 370.5,1333.3 371.4,1333.5 372.3,1332.3 373.3,1332.6 374.2,1331.9 375.1,1330.2 376.0,1329.7 376.9,1329.9 377.9,1331.2 378.8,1331.3 379.7,1330.6 380.6,1328.5 381.5,1328.1 382.5,1325.9 383.4,1323.6 384.3,1321.3 385.2,1323.5 386.1,1324.7 387.1,1325.7 388.0,1324.0 388.9,1320.9 389.8,1316.1 390.8,1315.5 391.7,1318.6 392.6,1322.6 393.5,1324.5 394.4,1324.9 395.4,1325.4 396.3,1327.5 397.2,1329.0 398.1,1328.9 399.0,1328.4 400.0,1329.3 400.9,1328.7 401.8,1328.7 402.7,1328.7 403.6,1330.2 404.6,1331.7 405.5,1332.5 406.4,1332.1 407.3,1331.6 408.2,1331.6 409.2,1329.5 410.1,1329.6 411.0,1330.2 411.9,1332.0 412.8,1330.2 413.8,1330.9 414.7,1332.9 415.6,1332.7 416.5,1329.4 417.4,1327.1 418.4,1328.4 419.3,1326.8 420.2,1323.8 421.1,1321.7 422.0,1321.6 423.0,1319.7 423.9,1313.3 424.8,1307.4 425.7,1303.7 426.6,1301.7 427.6,1293.7 428.5,1283.9 429.4,1278.2 430.3,1277.1 431.3,1274.1 432.2,1267.1 433.1,1261.1 434.0,1258.6 434.9,1257.5 435.9,1256.9 436.8,1259.1 437.7,1264.3 438.6,1268.3 439.5,1271.3 440.5,1272.9 441.4,1276.0 442.3,1282.1 443.2,1287.1 444.1,1293.9 445.1,1297.8 446.0,1305.2 446.9,1309.5 447.8,1313.2 448.7,1313.3 449.7,1316.9 450.6,1321.0 451.5,1325.0 452.4,1326.1 453.3,1326.3 454.3,1326.1 455.2,1325.0 456.1,1324.5 457.0,1323.6 457.9,1326.2 458.9,1327.5 459.8,1327.8 460.7,1325.9 461.6,1324.6 462.5,1325.4 463.5,1327.8 464.4,1330.1 465.3,1327.0 466.2,1323.1 467.2,1320.1 468.1,1322.5 469.0,1321.8 469.9,1321.7 470.8,1321.5 471.8,1324.4 472.7,1326.7 473.6,1326.1 474.5,1324.0 475.4,1322.0 476.4,1324.1 477.3,1326.9 478.2,1328.2 479.1,1324.6 480.0,1318.4 481.0,1317.1 481.9,1319.5 482.8,1323.8 483.7,1324.8 484.6,1323.8 485.6,1322.4 486.5,1321.7 487.4,1320.5 488.3,1319.6 489.2,1322.2 490.2,1322.5 491.1,1320.7 492.0,1319.8 492.9,1322.0 493.8,1323.4 494.8,1323.3 495.7,1325.3 496.6,1326.1 497.5,1328.1 498.4,1327.1 499.4,1325.9 500.3,1324.5 501.2,1322.7 502.1,1322.8 503.1,1324.2 504.0,1326.3 504.9,1325.5 505.8,1324.3 506.7,1324.6 507.7,1325.1 508.6,1324.4 509.5,1326.1 510.4,1326.0 511.3,1326.9 512.3,1325.5 513.2,1327.2 514.1,1325.2 515.0,1326.6 515.9,1328.2 516.9,1329.7 517.8,1325.7 518.7,1325.0 519.6,1324.3 520.5,1322.5 521.5,1321.2 522.4,1325.4 523.3,1325.9 524.2,1322.9 525.1,1319.4 526.1,1318.3 527.0,1315.9 527.9,1316.0 528.8,1317.3 529.7,1318.7 530.7,1317.4 531.6,1316.9 532.5,1315.2 533.4,1316.5 534.3,1316.8 535.3,1317.0 536.2,1315.8 537.1,1316.5 538.0,1320.4 539.0,1322.1 539.9,1323.3 540.8,1320.8 541.7,1321.2 542.6,1320.8 543.6,1323.5 544.5,1322.1 545.4,1322.5 546.3,1321.5 547.2,1321.1 548.2,1316.4 549.1,1316.0 550.0,1319.1 550.9,1324.9 551.8,1327.9 552.8,1329.6 553.7,1327.2 554.6,1324.7 555.5,1324.7 556.4,1326.1 557.4,1325.6 558.3,1323.3 559.2,1323.4 560.1,1325.1 561.0,1326.8 562.0,1325.6 562.9,1323.8 563.8,1324.2 564.7,1326.9 565.6,1328.3 566.6,1328.2 567.5,1325.4 568.4,1325.0 569.3,1326.1 570.2,1324.4 571.2,1323.9 572.1,1325.0 573.0,1328.5 573.9,1327.7 574.9,1326.0 575.8,1323.5 576.7,1323.0 577.6,1322.7 578.5,1323.4 579.5,1323.6 580.4,1326.1 581.3,1325.5 582.2,1326.3 583.1,1324.2 584.1,1325.9 585.0,1325.8 585.9,1326.4 586.8,1324.8 587.7,1325.4 588.7,1324.0 589.6,1323.2 590.5,1324.9 591.4,1328.1 592.3,1326.9 593.3,1325.8 594.2,1323.9 595.1,1324.8 596.0,1326.8 596.9,1328.6 597.9,1328.2 598.8,1331.2 599.7,1333.5 600.6,1332.5 601.5,1328.3 602.5,1326.9 603.4,1324.2 604.3,1324.7 605.2,1327.9 606.1,1327.9 607.1,1326.4 608.0,1324.9 608.9,1328.4 609.8,1330.0 610.7,1329.6 611.7,1327.7 612.6,1326.8 613.5,1328.0 614.4,1330.4 615.4,1330.5 616.3,1328.7 617.2,1325.5 618.1,1323.8 619.0,1323.7 620.0,1326.1 620.9,1326.2 621.8,1324.3 622.7,1325.1 623.6,1325.2 624.6,1324.8 625.5,1324.6 626.4,1328.7 627.3,1329.9 628.2,1328.7 629.2,1326.3 630.1,1324.2 631.0,1323.3 631.9,1325.2 632.8,1327.9 633.8,1329.3 634.7,1329.1 635.6,1329.9 636.5,1330.6 637.4,1331.0 638.4,1330.2 639.3,1328.4 640.2,1325.6 641.1,1326.2 642.0,1328.1 643.0,1333.3 643.9,1333.5 644.8,1331.5 645.7,1328.3 646.6,1328.3 647.6,1329.3 648.5,1330.0 649.4,1331.7 650.3,1332.4 651.3,1333.6 652.2,1330.8 653.1,1327.3 654.0,1325.2 654.9,1327.0 655.9,1326.3 656.8,1325.1 657.7,1326.2 658.6,1328.4 659.5,1328.4 660.5,1327.1 661.4,1326.8 662.3,1329.3 663.2,1331.3 664.1,1333.8 665.1,1331.9 666.0,1330.6 666.9,1330.0 667.8,1328.2 668.7,1324.8 669.7,1324.3 670.6,1326.7 671.5,1328.5 672.4,1327.4 673.3,1326.9 674.3,1326.8 675.2,1327.8 676.1,1326.2 677.0,1324.0 677.9,1326.4 678.9,1329.0 679.8,1328.6 680.7,1326.8 681.6,1326.2 682.5,1327.6 683.5,1331.4 684.4,1331.6 685.3,1330.6 686.2,1329.1 687.2,1332.4 688.1,1330.7 689.0,1330.9 689.9,1329.7 690.8,1330.3 691.8,1327.4 692.7,1324.8 693.6,1323.8 694.5,1324.8 695.4,1326.7 696.4,1327.7 697.3,1330.0 698.2,1330.2 699.1,1332.3 700.0,1331.4 701.0,1330.9 701.9,1329.0 702.8,1328.8 703.7,1330.7 704.6,1333.0 705.6,1333.4 706.5,1331.1 707.4,1329.7 708.3,1330.4 709.2,1331.7 710.2,1332.3 711.1,1331.3 712.0,1329.5 712.9,1329.3 713.8,1327.3 714.8,1328.5 715.7,1331.0 716.6,1331.6 717.5,1330.7 718.4,1330.8 719.4,1330.9 720.3,1329.2 721.2,1329.1 722.1,1330.4 723.1,1333.2 724.0,1333.6 724.9,1331.7 725.8,1329.2 726.7,1330.7 727.7,1331.8 728.6,1331.3 729.5,1331.1 730.4,1332.4 731.3,1334.5 732.3,1333.9 733.2,1334.2 734.1,1334.2 735.0,1333.0 735.9,1333.3 736.9,1334.9 737.8,1335.0 738.7,1332.4 739.6,1330.7 740.5,1332.6 741.5,1334.3 742.4,1334.3 743.3,1333.3 744.2,1333.1 745.1,1334.3 746.1,1331.8 747.0,1332.5 747.9,1333.1 748.8,1333.2 749.7,1330.2 750.7,1330.0 751.6,1330.5 752.5,1332.4 753.4,1331.0 754.3,1330.4 755.3,1329.3 756.2,1329.3 757.1,1329.1 758.0,1330.6 759.0,1331.8 759.9,1330.4 760.8,1331.8 761.7,1335.6 762.6,1336.5 763.6,1334.3 764.5,1332.7 765.4,1331.1 766.3,1330.3 767.2,1331.2 768.2,1332.0 769.1,1332.1 770.0,1332.4 770.9,1333.5 771.8,1332.3 772.8,1331.8 773.7,1332.5 774.6,1333.3 775.5,1333.5 776.4,1333.1 777.4,1331.7 778.3,1330.3 779.2,1329.6 780.1,1331.2 781.0,1330.1 782.0,1328.5 782.9,1325.0 783.8,1321.2 784.7,1318.6 785.6,1319.3 786.6,1320.0 787.5,1317.0 788.4,1315.2 789.3,1313.4 790.2,1313.7 791.2,1315.9 792.1,1314.7 793.0,1310.3 793.9,1307.5 794.8,1310.3 795.8,1311.4 796.7,1309.3 797.6,1310.1 798.5,1311.9 799.5,1315.4 800.4,1317.3 801.3,1318.5 802.2,1318.5 803.1,1319.8 804.1,1319.2 805.0,1323.7 805.9,1324.7 806.8,1328.6 807.7,1328.4 808.7,1330.4 809.6,1328.4 810.5,1326.7 811.4,1329.7 812.3,1330.2 813.3,1332.2 814.2,1331.8 815.1,1332.6 816.0,1331.5 816.9,1332.7 817.9,1333.5 818.8,1333.4 819.7,1335.1 820.6,1335.3 821.5,1333.4 822.5,1331.6 823.4,1332.6 824.3,1332.6 825.2,1332.0 826.1,1331.2 827.1,1331.9 828.0,1335.4 828.9,1336.8 829.8,1335.6 830.7,1332.6 831.7,1331.7 832.6,1333.8 833.5,1339.0 834.4,1340.2 835.4,1336.5 836.3,1333.5 837.2,1336.2 838.1,1335.5 839.0,1334.9 840.0,1332.1 840.9,1332.8 841.8,1331.9 842.7,1336.7 843.6,1337.9 844.6,1338.8 845.5,1338.0 846.4,1339.2 847.3,1335.1 848.2,1333.3 849.2,1336.1 850.1,1338.3 851.0,1337.6 851.9,1336.6 852.8,1335.8 853.8,1333.1 854.7,1332.5 855.6,1333.3 856.5,1334.4 857.4,1336.9 858.4,1338.8 859.3,1338.8 860.2,1337.7 861.1,1337.5 862.0,1336.6 863.0,1335.4 863.9,1335.8 864.8,1337.3 865.7,1337.9 866.6,1335.8 867.6,1335.6 868.5,1338.7 869.4,1339.5 870.3,1339.5 871.3,1338.7 872.2,1340.0 873.1,1338.0 874.0,1339.2 874.9,1338.1 875.9,1338.1 876.8,1335.6 877.7,1336.7 878.6,1333.8 879.5,1333.8 880.5,1334.7 881.4,1338.7 882.3,1341.6 883.2,1340.2 884.1,1339.5 885.1,1337.9 886.0,1338.2 886.9,1335.7 887.8,1336.1 888.7,1338.0 889.7,1338.4 890.6,1338.1 891.5,1339.3 892.4,1341.5 893.3,1340.6 894.3,1337.5 895.2,1339.0 896.1,1340.5 897.0,1340.9 897.9,1337.6 898.9,1337.4 899.8,1337.8 900.7,1337.9 901.6,1336.4 902.5,1334.9 903.5,1335.9 904.4,1337.0 905.3,1336.2 906.2,1335.9 907.2,1337.8 908.1,1339.5 909.0,1339.9 909.9,1338.7 910.8,1339.4 911.8,1339.4 912.7,1339.1 913.6,1338.7 914.5,1339.4 915.4,1340.0 916.4,1338.5 917.3,1339.7 918.2,1339.8 919.1,1339.6 920.0,1338.4 921.0,1338.5 921.9,1337.4 922.8,1337.3 923.7,1337.3 924.6,1337.8 925.6,1339.6 926.5,1342.4 927.4,1343.7 928.3,1343.3 929.2,1342.5 930.2,1343.7 931.1,1343.4 932.0,1341.6 932.9,1338.3 933.8,1338.4 934.8,1340.6 935.7,1339.6 936.6,1339.3 937.5,1339.7 938.4,1341.8 939.4,1342.4 940.3,1343.9 941.2,1343.9 942.1,1340.8 943.1,1339.6 944.0,1339.7 944.9,1340.0 945.8,1339.3 946.7,1340.8 947.7,1340.7 948.6,1340.6 949.5,1341.1 950.4,1343.6 951.3,1342.4 952.3,1340.7 953.2,1340.6 954.1,1340.9 955.0,1339.7 955.9,1339.1 956.9,1341.6 957.8,1342.9 958.7,1342.3 959.6,1342.0 960.5,1339.8 961.5,1339.1 962.4,1340.1 963.3,1344.5 964.2,1343.6 965.1,1341.8 966.1,1340.7 967.0,1342.5 967.9,1342.0 968.8,1341.2 969.7,1341.7 970.7,1343.3 971.6,1344.8 972.5,1343.6 973.4,1342.7 974.3,1340.7 975.3,1340.3 976.2,1339.6 977.1,1342.2 978.0,1344.4 978.9,1346.0 979.9,1345.9 980.8,1346.1 981.7,1343.8 982.6,1341.1 983.6,1338.9 984.5,1339.2 985.4,1339.8 986.3,1341.6 987.2,1342.8 988.2,1343.7 989.1,1344.2 990.0,1345.4 990.9,1345.1 991.8,1342.6 992.8,1342.0 993.7,1344.1 994.6,1344.5 995.5,1343.0 996.4,1343.8 997.4,1345.5 998.3,1347.3 999.2,1346.2 1000.1,1345.6 1001.0,1344.7 1002.0,1345.1 1002.9,1344.8 1003.8,1342.5 1004.7,1342.7 1005.6,1342.5 1006.6,1344.4 1007.5,1343.9 1008.4,1343.3 1009.3,1341.5 1010.2,1340.9 1011.2,1342.7 1012.1,1342.5 1013.0,1340.9 1013.9,1339.9 1014.8,1341.9 1015.8,1342.6 1016.7,1343.9 1017.6,1345.2 1018.5,1345.3 1019.5,1343.1 1020.4,1342.4 1021.3,1344.0 1022.2,1344.1 1023.1,1343.1 1024.1,1341.7 1025.0,1343.3 1025.9,1345.6 1026.8,1346.3 1027.7,1345.2 1028.7,1345.1 1029.6,1345.9 1030.5,1345.7 1031.4,1344.0 1032.3,1344.4 1033.3,1347.2 1034.2,1348.3 1035.1,1348.7 1036.0,1348.7 1036.9,1347.8 1037.9,1345.2 1038.8,1345.1 1039.7,1346.4 1040.6,1346.5 1041.5,1345.0 1042.5,1343.6 1043.4,1343.0 1044.3,1345.7 1045.2,1347.2 1046.1,1347.1 1047.1,1345.4 1048.0,1345.7 1048.9,1345.7 1049.8,1346.0 1050.7,1345.1 1051.7,1343.5 1052.6,1341.8 1053.5,1341.7 1054.4,1342.1 1055.4,1343.1 1056.3,1345.2 1057.2,1345.5 1058.1,1345.5 1059.0,1344.9 1060.0,1347.2 1060.9,1347.8 1061.8,1344.7 1062.7,1342.6 1063.6,1342.4 1064.6,1343.8 1065.5,1342.9 1066.4,1344.4 1067.3,1345.9 1068.2,1345.8 1069.2,1345.5 1070.1,1346.8 1071.0,1348.5 1071.9,1346.7 1072.8,1344.1 1073.8,1342.8 1074.7,1343.4 1075.6,1343.7 1076.5,1345.4 1077.4,1344.6 1078.4,1344.3 1079.3,1343.9 1080.2,1345.6 1081.1,1344.2 1082.0,1344.3 1083.0,1346.2 1083.9,1349.2 1084.8,1349.9 1085.7,1347.7 1086.6,1344.6 1087.6,1343.8 1088.5,1345.4 1089.4,1346.0 1090.3,1345.4 1091.3,1345.9 1092.2,1347.7 1093.1,1347.8 1094.0,1345.9 1094.9,1343.8 1095.9,1343.2 1096.8,1344.8 1097.7,1345.1 1098.6,1347.1 1099.5,1347.5 1100.5,1347.3 1101.4,1346.1 1102.3,1348.0 1103.2,1347.5 1104.1,1346.1 1105.1,1345.6 1106.0,1345.7 1106.9,1344.5 1107.8,1345.6 1108.7,1347.2 1109.7,1347.4 1110.6,1345.5 1111.5,1344.1 1112.4,1345.4 1113.3,1347.9 1114.3,1347.5 1115.2,1345.4 1116.1,1345.2 1117.0,1347.2 1117.9,1347.1 1118.9,1347.3 1119.8,1347.0 1120.7,1347.3 1121.6,1347.4 1122.5,1348.8 1123.5,1350.5 1124.4,1350.6 1125.3,1349.8 1126.2,1348.1 1127.2,1347.2 1128.1,1346.7 1129.0,1347.9 1129.9,1348.7 1130.8,1349.3 1131.8,1349.6 1132.7,1350.5 1133.6,1348.3 1134.5,1346.3 1135.4,1344.9 1136.4,1346.2 1137.3,1347.3 1138.2,1347.4 1139.1,1346.4 1140.0,1345.9 1141.0,1348.3 1141.9,1349.0 1142.8,1348.0 1143.7,1345.8 1144.6,1345.6 1145.6,1346.7 1146.5,1348.2 1147.4,1348.1 1148.3,1348.4 1149.2,1348.5 1150.2,1350.5 1151.1,1349.1 1152.0,1347.4 1152.9,1345.9 1153.8,1348.0 1154.8,1348.4 1155.7,1348.1 1156.6,1348.3 1157.5,1349.4 1158.4,1349.6 1159.4,1350.0 1160.3,1349.1 1161.2,1349.8 1162.1,1349.6 1163.0,1350.0 1164.0,1350.0 1164.9,1350.1 1165.8,1351.0 1166.7,1350.9 1167.7,1351.7 1168.6,1350.4 1169.5,1350.0 1170.4,1348.5 1171.3,1347.9 1172.3,1348.0 1173.2,1348.9 1174.1,1348.6 1175.0,1348.9 1175.9,1348.6 1176.9,1348.3 1177.8,1347.6 1178.7,1348.1 1179.6,1348.4 1180.5,1348.8 1181.5,1349.3 1182.4,1349.3 1183.3,1348.3 1184.2,1348.0 1185.1,1348.6 1186.1,1348.7 1187.0,1348.3 1187.9,1348.8 1188.8,1349.3 1189.7,1348.8 1190.7,1347.2 1191.6,1346.9 1192.5,1346.7 1193.4,1347.8 1194.3,1347.3 1195.3,1346.8 1196.2,1345.6 1197.1,1347.6 1198.0,1349.4 1198.9,1351.1 1199.9,1350.3 1200.8,1349.9 1201.7,1349.9 1202.6,1351.3 1203.6,1352.0 1204.5,1351.1 1205.4,1349.7 1206.3,1347.9 1207.2,1346.0 1208.2,1347.0 1209.1,1348.7 1210.0,1350.1 1210.9,1349.6 1211.8,1351.0 1212.8,1350.8 1213.7,1349.9 1214.6,1349.3 1215.5,1350.0 1216.4,1350.8 1217.4,1352.8 1218.3,1354.2 1219.2,1353.2 1220.1,1351.8 1221.0,1351.3 1222.0,1349.1 1222.9,1347.7 1223.8,1348.4 1224.7,1351.1 1225.6,1351.6 1226.6,1351.2 1227.5,1349.3 1228.4,1349.3 1229.3,1350.3 1230.2,1351.9 1231.2,1350.2 1232.1,1347.9 1233.0,1347.8 1233.9,1346.9 1234.8,1347.7 1235.8,1349.1 1236.7,1350.9 1237.6,1350.0 1238.5,1350.3 1239.5,1352.0 1240.4,1351.7 1241.3,1350.6 1242.2,1349.4 1243.1,1350.0 1244.1,1348.8 1245.0,1348.3 1245.9,1346.6 1246.8,1344.7 1247.7,1343.8 1248.7,1344.6 1249.6,1344.8 1250.5,1341.3 1251.4,1338.9 1252.3,1338.0 1253.3,1335.7 1254.2,1332.1 1255.1,1326.0 1256.0,1322.4 1256.9,1319.5 1257.9,1317.3 1258.8,1311.2 1259.7,1302.1 1260.6,1291.0 1261.5,1283.0 1262.5,1274.4 1263.4,1266.8 1264.3,1247.3 1265.2,1231.1 1266.1,1215.5 1267.1,1207.1 1268.0,1190.1 1268.9,1170.5 1269.8,1151.0 1270.7,1132.3 1271.7,1112.6 1272.6,1089.8 1273.5,1068.0 1274.4,1044.8 1275.4,1021.3 1276.3,994.3 1277.2,971.1 1278.1,947.9 1279.0,925.2 1280.0,898.4 1280.9,874.3 1281.8,853.7 1282.7,834.9 1283.6,815.1 1284.6,799.3 1285.5,783.8 1286.4,771.5 1287.3,757.0 1288.2,745.7 1289.2,738.7 1290.1,738.5 1291.0,739.9 1291.9,740.5 1292.8,742.1 1293.8,746.2 1294.7,756.7 1295.6,773.3 1296.5,789.0 1297.4,803.4 1298.4,818.2 1299.3,834.6 1300.2,854.4 1301.1,879.9 1302.0,906.0 1303.0,928.6 1303.9,950.6 1304.8,974.5 1305.7,1000.1 1306.6,1023.6 1307.6,1047.0 1308.5,1069.8 1309.4,1092.0 1310.3,1115.3 1311.3,1137.6 1312.2,1158.8 1313.1,1177.2 1314.0,1195.1 1314.9,1213.7 1315.9,1230.7 1316.8,1239.7 1317.7,1245.4 1318.6,1255.2 1319.5,1274.2 1320.5,1289.6 1321.4,1301.4 1322.3,1308.5 1323.2,1314.2 1324.1,1318.3 1325.1,1325.2 1326.0,1329.9 1326.9,1333.9 1327.8,1335.5 1328.7,1339.7 1329.7,1342.5 1330.6,1347.0 1331.5,1349.1 1332.4,1351.5 1333.3,1352.7 1334.3,1354.4 1335.2,1354.9 1336.1,1357.3 1337.0,1357.6 1337.9,1357.5 1338.9,1356.9 1339.8,1358.3 1340.7,1358.7 1341.6,1359.1 1342.5,1359.2 1343.5,1359.2 1344.4,1360.1 1345.3,1360.9 1346.2,1360.1 1347.1,1359.1 1348.1,1359.2 1349.0,1359.3 1349.9,1359.4 1350.8,1358.6 1351.8,1358.6 1352.7,1358.6 1353.6,1360.3 1354.5,1361.1 1355.4,1361.5 1356.4,1360.3 1357.3,1358.4 1358.2,1357.2 1359.1,1358.2 1360.0,1359.4 1361.0,1360.8 1361.9,1361.6 1362.8,1361.8 1363.7,1359.3 1364.6,1358.0 1365.6,1357.3 1366.5,1357.7 1367.4,1358.3 1368.3,1358.9 1369.2,1359.3 1370.2,1359.6 1371.1,1359.3 1372.0,1358.0 1372.9,1356.3 1373.8,1355.5 1374.8,1355.6 1375.7,1356.3 1376.6,1356.3 1377.5,1354.8 1378.4,1352.2 1379.4,1350.4 1380.3,1349.9 1381.2,1349.4 1382.1,1347.6 1383.0,1346.2 1384.0,1344.1 1384.9,1343.7 1385.8,1342.1 1386.7,1339.9 1387.7,1335.8 1388.6,1333.6 1389.5,1334.2 1390.4,1332.4 1391.3,1328.9 1392.3,1324.7 1393.2,1322.3 1394.1,1319.9 1395.0,1316.0 1395.9,1312.7 1396.9,1309.3 1397.8,1305.6 1398.7,1303.4 1399.6,1298.4 1400.5,1294.9 1401.5,1294.2 1402.4,1296.2 1403.3,1293.2 1404.2,1285.7 1405.1,1282.7 1406.1,1282.9 1407.0,1284.8 1407.9,1280.4 1408.8,1277.7 1409.7,1276.8 1410.7,1277.2 1411.6,1281.2 1412.5,1282.5 1413.4,1285.9 1414.3,1282.7 1415.3,1284.5 1416.2,1285.9 1417.1,1288.4 1418.0,1289.4 1418.9,1285.8 1419.9,1286.7 1420.8,1286.5 1421.7,1290.0 1422.6,1293.3 1423.6,1302.4 1424.5,1306.4 1425.4,1307.2 1426.3,1310.3 1427.2,1312.0 1428.2,1313.3 1429.1,1315.1 1430.0,1319.5 1430.9,1321.0 1431.8,1323.3 1432.8,1327.5 1433.7,1330.9 1434.6,1335.9 1435.5,1339.8 1436.4,1342.2 1437.4,1339.5 1438.3,1339.4 1439.2,1341.8 1440.1,1346.0 1441.0,1348.3 1442.0,1349.3 1442.9,1350.7 1443.8,1351.5 1444.7,1352.5 1445.6,1353.3 1446.6,1354.8 1447.5,1356.4 1448.4,1357.9 1449.3,1358.5 1450.2,1358.5 1451.2,1358.2 1452.1,1358.4 1453.0,1358.1 1453.9,1357.9 1454.8,1358.1 1455.8,1357.6 1456.7,1356.3 1457.6,1356.5 1458.5,1357.4 1459.5,1357.8 1460.4,1357.7 1461.3,1357.5 1462.2,1357.3 1463.1,1355.5 1464.1,1355.7 1465.0,1355.2 1465.9,1356.2 1466.8,1356.3 1467.7,1355.6 1468.7,1353.8 1469.6,1351.6 1470.5,1350.5 1471.4,1351.3 1472.3,1351.3 1473.3,1351.5 1474.2,1350.4 1475.1,1351.3 1476.0,1349.5 1476.9,1348.1 1477.9,1346.8 1478.8,1344.7 1479.7,1344.1 1480.6,1344.9 1481.5,1347.5 1482.5,1345.2 1483.4,1344.4 1484.3,1344.0 1485.2,1345.5 1486.1,1344.8 1487.1,1344.5 1488.0,1345.3 1488.9,1346.1 1489.8,1345.5 1490.7,1345.4 1491.7,1345.2 1492.6,1346.2 1493.5,1344.8 1494.4,1345.6 1495.4,1346.5 1496.3,1348.9 1497.2,1347.8 1498.1,1346.2 1499.0,1346.9 1500.0,1347.3 1500.9,1348.4 1501.8,1350.2 1502.7,1352.2 1503.6,1351.9 1504.6,1351.3 1505.5,1353.0 1506.4,1353.1 1507.3,1354.1 1508.2,1354.2 1509.2,1355.0 1510.1,1356.2 1511.0,1357.6 1511.9,1358.6 1512.8,1358.6 1513.8,1358.7 1514.7,1358.6 1515.6,1359.0 1516.5,1359.9 1517.4,1360.1 1518.4,1358.2 1519.3,1357.3 1520.2,1358.0 1521.1,1360.1 1522.0,1361.3 1523.0,1361.5 1523.9,1360.3 1524.8,1359.9 1525.7,1360.3 1526.6,1361.3 1527.6,1362.1 1528.5,1363.0 1529.4,1363.5 1530.3,1363.1 1531.2,1362.8 1532.2,1361.5 1533.1,1360.7 1534.0,1360.6 1534.9,1361.5 1535.9,1362.2 1536.8,1361.6 1537.7,1360.5 1538.6,1360.1 1539.5,1361.5 1540.5,1363.2 1541.4,1363.5 1542.3,1362.9 1543.2,1362.4" stroke="#8399c6"/>
<polyline points="92.5,1369.0 93.4,1368.2 94.3,1367.4 95.3,1365.9 96.2,1363.4 97.1,1359.1 98.0,1351.9 99.0,1340.5 99.9,1322.7 100.8,1296.1 101.7,1257.5 102.6,1203.3 103.6,1130.0 104.5,1034.2 105.4,913.5 106.3,767.1 107.2,596.8 108.2,406.9 109.1,204.9 110.0,1.1 110.9,-78.2 111.8,-78.2 112.8,-78.2 113.7,-78.2 114.6,-78.2 115.5,-78.2 116.4,-78.2 117.4,-78.2 118.3,-78.2 119.2,1.1 120.1,204.9 121.0,406.9 122.0,596.8 122.9,767.1 123.8,913.5 124.7,1034.2 125.6,1130.0 126.6,1203.3 127.5,1257.5 128.4,1296.1 129.3,1322.7 130.2,1340.5 131.2,1351.9 132.1,1359.1 133.0,1363.4 133.9,1365.9 134.9,1367.4 135.8,1369.0 136.7,1369.0 137.6,1369.0 138.5,1369.0 139.5,1369.0 140.4,1369.0 141.3,1369.0 142.2,1369.0 143.1,1369.0 144.1,1369.0 145.0,1369.0 145.9,1369.0 146.8,1369.0 147.7,1369.0 148.7,1367.1 149.6,1366.1 150.5,1363.9 151.4,1359.9 152.3,1356.3 153.3,1353.2 154.2,1348.8 155.1,1340.9 156.0,1334.4 156.9,1329.8 157.9,1325.1 158.8,1315.0 159.7,1306.4 160.6,1297.6 161.5,1291.3 162.5,1282.9 163.4,1278.2 164.3,1274.4 165.2,1272.0 166.1,1272.7 167.1,1276.4 168.0,1279.8 168.9,1280.6 169.8,1285.4 170.8,1297.7 171.7,1306.5 172.6,1312.5 173.5,1317.6 174.4,1328.3 175.4,1334.5 176.3,1336.8 177.2,1338.9 178.1,1342.9 179.0,1348.0 180.0,1351.2 180.9,1354.2 181.8,1355.8 182.7,1357.1 183.6,1357.5 184.6,1357.6 185.5,1358.1 186.4,1357.8 187.3,1357.4 188.2,1356.5 189.2,1356.5 190.1,1355.5 191.0,1355.2 191.9,1352.6 192.8,1349.1 193.8,1344.9 194.7,1339.5 195.6,1328.4 196.5,1311.1 197.4,1294.0 198.4,1274.8 199.3,1247.1 200.2,1210.5 201.1,1168.0 202.0,1120.0 203.0,1065.6 203.9,1007.3 204.8,947.4 205.7,889.0 206.7,831.4 207.6,775.3 208.5,728.8 209.4,692.1 210.3,672.6 211.3,665.4 212.2,675.3 213.1,694.3 214.0,727.8 214.9,772.4 215.9,829.0 216.8,890.2 217.7,952.0 218.6,1009.9 219.5,1067.1 220.5,1120.0 221.4,1167.5 222.3,1208.7 223.2,1245.3 224.1,1278.5 225.1,1299.7 226.0,1312.8 226.9,1322.2 227.8,1329.9 228.7,1334.1 229.7,1334.7 230.6,1335.7 231.5,1334.6 232.4,1332.0 233.3,1327.5 234.3,1318.5 235.2,1309.6 236.1,1303.1 237.0,1297.9 237.9,1287.3 238.9,1275.7 239.8,1268.5 240.7,1264.2 241.6,1261.4 242.5,1253.5 243.5,1244.8 244.4,1242.8 245.3,1247.5 246.2,1252.3 247.2,1256.8 248.1,1263.4 249.0,1268.4 249.9,1276.1 250.8,1284.3 251.8,1291.7 252.7,1299.4 253.6,1307.4 254.5,1315.2 255.4,1321.3 256.4,1327.2 257.3,1331.1 258.2,1334.8 259.1,1339.3 260.0,1342.4 261.0,1344.4 261.9,1345.1 262.8,1344.5 263.7,1344.7 264.6,1345.0 265.6,1346.2 266.5,1346.0 267.4,1346.2 268.3,1345.0 269.2,1344.9 270.2,1346.6 271.1,1348.4 272.0,1348.6 272.9,1346.4 273.8,1345.9 274.8,1345.0 275.7,1345.0 276.6,1345.6 277.5,1347.0 278.4,1347.5 279.4,1347.8 280.3,1344.9 281.2,1343.1 282.1,1344.2 283.1,1348.9 284.0,1349.3 284.9,1348.1 285.8,1348.3 286.7,1350.3 287.7,1350.0 288.6,1348.5 289.5,1346.8 290.4,1346.7 291.3,1345.5 292.3,1347.1 293.2,1347.3 294.1,1348.3 295.0,1347.9 295.9,1347.6 296.9,1348.0 297.8,1348.1 298.7,1348.8 299.6,1345.8 300.5,1346.3 301.5,1346.2 302.4,1346.1 303.3,1344.4 304.2,1344.6 305.1,1344.8 306.1,1346.0 307.0,1346.7 307.9,1347.8 308.8,1345.8 309.7,1343.2 310.7,1342.5 311.6,1342.7 312.5,1342.7 313.4,1343.0 314.3,1345.0 315.3,1343.8 316.2,1341.7 317.1,1342.0 318.0,1341.9 319.0,1341.2 319.9,1340.6 320.8,1342.2 321.7,1341.2 322.6,1338.5 323.6,1337.2 324.5,1337.4 325.4,1336.3 326.3,1332.1 327.2,1328.6 328.2,1320.2 329.1,1310.0 330.0,1295.7 330.9,1282.9 331.8,1259.1 332.8,1230.9 333.7,1202.8 334.6,1163.6 335.5,1114.9 336.4,1059.0 337.4,998.9 338.3,933.0 339.2,861.5 340.1,790.2 341.0,724.8 342.0,666.4 342.9,614.7 343.8,579.6 344.7,558.9 345.6,552.0 346.6,557.9 347.5,585.3 348.4,628.4 349.3,686.0 350.2,750.5 351.2,817.6 352.1,885.4 353.0,957.2 353.9,1023.1 354.9,1078.8 355.8,1127.4 356.7,1172.1 357.6,1208.5 358.5,1241.2 359.5,1266.1 360.4,1283.2 361.3,1297.2 362.2,1309.4 363.1,1316.5 364.1,1321.5 365.0,1326.1 365.9,1327.5 366.8,1325.5 367.7,1325.3 368.7,1325.4 369.6,1324.8 370.5,1323.7 371.4,1325.5 372.3,1324.8 373.3,1324.1 374.2,1322.4 375.1,1321.9 376.0,1317.3 376.9,1313.2 377.9,1309.4 378.8,1306.4 379.7,1298.4 380.6,1291.4 381.5,1291.0 382.5,1292.0 383.4,1288.6 384.3,1283.0 385.2,1281.9 386.1,1276.7 387.1,1270.9 388.0,1267.1 388.9,1269.4 389.8,1270.7 390.8,1273.1 391.7,1276.4 392.6,1281.7 393.5,1288.3 394.4,1294.4 395.4,1298.3 396.3,1302.1 397.2,1305.0 398.1,1309.6 399.0,1311.4 400.0,1316.2 400.9,1318.3 401.8,1319.3 402.7,1318.0 403.6,1320.9 404.6,1322.7 405.5,1323.9 406.4,1324.0 407.3,1326.0 408.2,1328.5 409.2,1328.8 410.1,1327.1 411.0,1323.5 411.9,1324.2 412.8,1322.6 413.8,1320.9 414.7,1317.8 415.6,1314.9 416.5,1305.7 417.4,1292.9 418.4,1274.1 419.3,1252.0 420.2,1223.9 421.1,1199.2 422.0,1163.3 423.0,1121.1 423.9,1068.7 424.8,1005.1 425.7,933.5 426.6,862.7 427.6,789.4 428.5,711.6 429.4,634.0 430.3,563.7 431.3,501.6 432.2,446.3 433.1,405.0 434.0,379.1 434.9,371.6 435.9,381.9 436.8,406.7 437.7,452.8 438.6,506.4 439.5,566.6 440.5,634.8 441.4,713.7 442.3,791.6 443.2,866.8 444.1,940.8 445.1,1008.9 446.0,1067.4 446.9,1121.1 447.8,1167.0 448.7,1204.8 449.7,1236.5 450.6,1262.8 451.5,1279.7 452.4,1291.9 453.3,1304.7 454.3,1313.3 455.2,1319.5 456.1,1324.7 457.0,1327.7 457.9,1326.5 458.9,1328.9 459.8,1332.7 460.7,1334.4 461.6,1332.0 462.5,1331.4 463.5,1333.1 464.4,1334.2 465.3,1336.7 466.2,1337.1 467.2,1336.4 468.1,1332.6 469.0,1332.2 469.9,1334.9 470.8,1335.8 471.8,1336.1 472.7,1335.6 473.6,1335.4 474.5,1336.5 475.4,1334.8 476.4,1333.6 477.3,1331.1 478.2,1333.7 479.1,1334.4 480.0,1334.4 481.0,1334.1 481.9,1336.7 482.8,1337.5 483.7,1336.8 484.6,1334.3 485.6,1334.1 486.5,1334.3 487.4,1335.2 488.3,1337.3 489.2,1340.1 490.2,1340.6 491.1,1339.1 492.0,1336.9 492.9,1337.7 493.8,1338.2 494.8,1337.7 495.7,1335.9 496.6,1336.5 497.5,1337.0 498.4,1336.2 499.4,1336.5 500.3,1338.3 501.2,1338.2 502.1,1337.1 503.1,1336.8 504.0,1337.6 504.9,1340.4 505.8,1340.4 506.7,1338.4 507.7,1335.8 508.6,1338.3 509.5,1339.7 510.4,1339.1 511.3,1337.3 512.3,1337.1 513.2,1339.4 514.1,1339.3 515.0,1337.7 515.9,1334.7 516.9,1333.9 517.8,1334.1 518.7,1333.8 519.6,1336.1 520.5,1336.5 521.5,1337.5 522.4,1335.1 523.3,1335.8 524.2,1336.7 525.1,1338.9 526.1,1338.0 527.0,1337.9 527.9,1336.8 528.8,1336.0 529.7,1335.2 530.7,1336.2 531.6,1337.6 532.5,1335.9 533.4,1334.4 534.3,1335.3 535.3,1337.0 536.2,1338.2 537.1,1337.5 538.0,1337.4 539.0,1336.5 539.9,1337.8 540.8,1338.2 541.7,1337.0 542.6,1336.1 543.6,1336.3 544.5,1338.2 545.4,1339.1 546.3,1340.1 547.2,1338.9 548.2,1339.6 549.1,1339.9 550.0,1340.9 550.9,1340.3 551.8,1339.7 552.8,1338.9 553.7,1337.8 554.6,1338.3 555.5,1337.0 556.4,1337.2 557.4,1337.7 558.3,1339.3 559.2,1339.0 560.1,1339.0 561.0,1339.1 562.0,1339.8 562.9,1338.8 563.8,1339.6 564.7,1339.9 565.6,1339.6 566.6,1336.4 567.5,1335.3 568.4,1338.2 569.3,1340.4 570.2,1341.0 571.2,1340.3 572.1,1340.3 573.0,1339.2 573.9,1337.4 574.9,1336.6 575.8,1338.1 576.7,1339.4 577.6,1339.1 578.5,1337.2 579.5,1337.7 580.4,1338.9 581.3,1340.5 582.2,1341.0 583.1,1340.3 584.1,1339.7 585.0,1338.0 585.9,1337.0 586.8,1336.4 587.7,1337.4 588.7,1338.6 589.6,1338.6 590.5,1338.6 591.4,1337.0 592.3,1337.3 593.3,1336.9 594.2,1336.9 595.1,1336.2 596.0,1338.7 596.9,1340.9 597.9,1341.3 598.8,1339.7 599.7,1339.9 600.6,1338.6 601.5,1337.6 602.5,1337.0 603.4,1338.4 604.3,1339.1 605.2,1341.6 606.1,1342.8 607.1,1342.1 608.0,1340.2 608.9,1339.7 609.8,1340.5 610.7,1342.0 611.7,1341.0 612.6,1337.4 613.5,1336.6 614.4,1337.9 615.4,1338.9 616.3,1338.5 617.2,1336.0 618.1,1333.9 619.0,1335.2 620.0,1338.9 620.9,1339.4 621.8,1337.7 622.7,1336.7 623.6,1337.1 624.6,1338.7 625.5,1341.4 626.4,1343.7 627.3,1343.7 628.2,1341.8 629.2,1340.6 630.1,1338.2 631.0,1339.4 631.9,1340.4 632.8,1341.0 633.8,1337.2 634.7,1337.6 635.6,1339.4 636.5,1340.2 637.4,1341.1 638.4,1341.6 639.3,1341.2 640.2,1339.9 641.1,1340.0 642.0,1339.7 643.0,1340.4 643.9,1340.3 644.8,1340.4 645.7,1339.1 646.6,1342.2 647.6,1341.9 648.5,1342.4 649.4,1340.3 650.3,1340.8 651.3,1339.6 652.2,1340.5 653.1,1341.5 654.0,1342.6 654.9,1341.4 655.9,1341.1 656.8,1340.7 657.7,1340.7 658.6,1342.4 659.5,1343.6 660.5,1343.4 661.4,1341.5 662.3,1338.9 663.2,1337.5 664.1,1337.1 665.1,1339.8 666.0,1340.4 666.9,1339.5 667.8,1339.2 668.7,1341.3 669.7,1344.6 670.6,1345.7 671.5,1343.5 672.4,1342.5 673.3,1342.4 674.3,1342.8 675.2,1341.0 676.1,1340.8 677.0,1341.6 677.9,1341.0 678.9,1342.2 679.8,1343.3 680.7,1344.0 681.6,1344.4 682.5,1345.3 683.5,1345.1 684.4,1341.7 685.3,1341.1 686.2,1340.5 687.2,1342.1 688.1,1340.5 689.0,1341.3 689.9,1340.3 690.8,1338.6 691.8,1336.7 692.7,1336.9 693.6,1340.6 694.5,1341.8 695.4,1342.0 696.4,1341.1 697.3,1341.7 698.2,1343.4 699.1,1344.1 700.0,1345.4 701.0,1346.0 701.9,1345.0 702.8,1343.9 703.7,1342.7 704.6,1341.3 705.6,1339.0 706.5,1340.1 707.4,1342.7 708.3,1344.3 709.2,1343.8 710.2,1341.7 711.1,1339.1 712.0,1339.6 712.9,1343.2 713.8,1344.0 714.8,1345.0 715.7,1344.2 716.6,1346.5 717.5,1344.8 718.4,1344.3 719.4,1342.7 720.3,1344.4 721.2,1344.3 722.1,1342.9 723.1,1341.8 724.0,1340.2 724.9,1340.2 725.8,1341.6 726.7,1342.6 727.7,1338.8 728.6,1338.4 729.5,1341.1 730.4,1344.3 731.3,1343.6 732.3,1342.4 733.2,1342.5 734.1,1343.5 735.0,1345.0 735.9,1344.4 736.9,1344.1 737.8,1343.0 738.7,1343.2 739.6,1343.0 740.5,1344.8 741.5,1345.8 742.4,1346.0 743.3,1344.2 744.2,1344.5 745.1,1345.0 746.1,1344.1 747.0,1342.2 747.9,1342.5 748.8,1343.8 749.7,1344.3 750.7,1343.6 751.6,1343.7 752.5,1344.4 753.4,1344.7 754.3,1345.6 755.3,1344.6 756.2,1343.1 757.1,1340.7 758.0,1342.7 759.0,1344.4 759.9,1344.0 760.8,1342.2 761.7,1341.9 762.6,1342.5 763.6,1341.9 764.5,1342.1 765.4,1343.9 766.3,1344.7 767.2,1341.7 768.2,1338.6 769.1,1338.4 770.0,1338.1 770.9,1338.6 771.8,1340.4 772.8,1342.1 773.7,1339.7 774.6,1335.3 775.5,1331.9 776.4,1331.0 777.4,1329.9 778.3,1328.1 779.2,1325.7 780.1,1325.1 781.0,1324.1 782.0,1322.2 782.9,1320.0 783.8,1318.8 784.7,1317.1 785.6,1310.0 786.6,1303.1 787.5,1301.8 788.4,1301.4 789.3,1293.9 790.2,1288.4 791.2,1284.1 792.1,1284.3 793.0,1287.7 793.9,1292.4 794.8,1288.7 795.8,1284.3 796.7,1289.0 797.6,1294.5 798.5,1294.6 799.5,1297.2 800.4,1302.0 801.3,1305.6 802.2,1304.9 803.1,1308.6 804.1,1314.2 805.0,1318.3 805.9,1319.7 806.8,1321.8 807.7,1326.1 808.7,1328.2 809.6,1330.5 810.5,1330.1 811.4,1332.3 812.3,1332.9 813.3,1335.0 814.2,1335.5 815.1,1338.1 816.0,1339.1 816.9,1339.7 817.9,1341.3 818.8,1343.1 819.7,1342.8 820.6,1343.8 821.5,1343.7 822.5,1345.1 823.4,1344.4 824.3,1344.9 825.2,1344.9 826.1,1345.9 827.1,1346.4 828.0,1344.7 828.9,1344.6 829.8,1343.7 830.7,1343.4 831.7,1341.6 832.6,1342.3 833.5,1341.5 834.4,1343.5 835.4,1344.8 836.3,1346.4 837.2,1345.6 838.1,1346.4 839.0,1345.4 840.0,1344.5 840.9,1343.9 841.8,1342.8 842.7,1339.0 843.6,1338.0 844.6,1338.2 845.5,1337.8 846.4,1336.5 847.3,1337.3 848.2,1339.0 849.2,1341.1 850.1,1339.3 851.0,1336.6 851.9,1335.5 852.8,1337.3 853.8,1337.1 854.7,1335.9 855.6,1336.0 856.5,1338.6 857.4,1339.4 858.4,1339.4 859.3,1340.7 860.2,1340.9 861.1,1338.1 862.0,1336.6 863.0,1338.9 863.9,1341.4 864.8,1342.5 865.7,1343.4 866.6,1344.5 867.6,1345.5 868.5,1345.9 869.4,1345.5 870.3,1344.8 871.3,1344.0 872.2,1344.9 873.1,1345.1 874.0,1346.1 874.9,1346.7 875.9,1347.0 876.8,1347.4 877.7,1347.4 878.6,1349.2 879.5,1348.7 880.5,1347.6 881.4,1344.8 882.3,1345.4 883.2,1347.5 884.1,1346.9 885.1,1344.8 886.0,1343.0 886.9,1345.5 887.8,1345.5 888.7,1345.6 889.7,1345.7 890.6,1347.4 891.5,1346.1 892.4,1344.1 893.3,1345.6 894.3,1348.8 895.2,1348.5 896.1,1347.0 897.0,1346.8 897.9,1348.5 898.9,1348.8 899.8,1349.5 900.7,1349.5 901.6,1348.3 902.5,1348.3 903.5,1347.7 904.4,1348.0 905.3,1347.0 906.2,1346.9 907.2,1345.4 908.1,1344.4 909.0,1346.5 909.9,1350.0 910.8,1352.7 911.8,1351.7 912.7,1349.4 913.6,1348.8 914.5,1349.7 915.4,1350.6 916.4,1350.0 917.3,1347.3 918.2,1347.0 919.1,1345.9 920.0,1345.1 921.0,1344.2 921.9,1346.6 922.8,1348.7 923.7,1349.2 924.6,1349.8 925.6,1350.8 926.5,1350.2 927.4,1348.5 928.3,1348.0 929.2,1348.1 930.2,1348.9 931.1,1349.2 932.0,1350.0 932.9,1349.6 933.8,1347.8 934.8,1346.2 935.7,1344.9 936.6,1345.7 937.5,1348.2 938.4,1350.4 939.4,1351.0 940.3,1348.4 941.2,1348.1 942.1,1347.8 943.1,1350.3 944.0,1351.0 944.9,1351.9 945.8,1349.4 946.7,1347.8 947.7,1347.5 948.6,1348.3 949.5,1350.1 950.4,1352.3 951.3,1351.9 952.3,1347.7 953.2,1345.0 954.1,1346.8 955.0,1349.1 955.9,1351.2 956.9,1351.7 957.8,1352.0 958.7,1349.5 959.6,1348.7 960.5,1347.9 961.5,1350.0 962.4,1351.1 963.3,1352.3 964.2,1350.7 965.1,1349.9 966.1,1349.3 967.0,1351.7 967.9,1351.1 968.8,1350.5 969.7,1349.5 970.7,1348.8 971.6,1346.7 972.5,1346.9 973.4,1348.8 974.3,1350.9 975.3,1352.3 976.2,1352.1 977.1,1351.2 978.0,1351.2 978.9,1352.9 979.9,1353.4 980.8,1353.5 981.7,1352.8 982.6,1350.9 983.6,1349.9 984.5,1350.0 985.4,1350.5 986.3,1350.4 987.2,1350.4 988.2,1352.5 989.1,1353.2 990.0,1353.0 990.9,1351.9 991.8,1351.7 992.8,1352.1 993.7,1351.3 994.6,1350.6 995.5,1350.5 996.4,1352.2 997.4,1354.1 998.3,1353.9 999.2,1352.8 1000.1,1353.4 1001.0,1353.1 1002.0,1351.5 1002.9,1350.3 1003.8,1351.1 1004.7,1351.8 1005.6,1352.6 1006.6,1353.2 1007.5,1353.0 1008.4,1352.4 1009.3,1353.5 1010.2,1355.2 1011.2,1355.7 1012.1,1355.1 1013.0,1354.6 1013.9,1355.8 1014.8,1356.0 1015.8,1355.4 1016.7,1354.0 1017.6,1354.8 1018.5,1354.3 1019.5,1353.8 1020.4,1352.3 1021.3,1353.1 1022.2,1353.0 1023.1,1353.1 1024.1,1353.0 1025.0,1353.7 1025.9,1354.5 1026.8,1354.5 1027.7,1354.5 1028.7,1354.0 1029.6,1353.8 1030.5,1353.2 1031.4,1353.9 1032.3,1354.2 1033.3,1356.1 1034.2,1356.7 1035.1,1355.3 1036.0,1352.3 1036.9,1351.9 1037.9,1351.8 1038.8,1352.4 1039.7,1353.4 1040.6,1355.9 1041.5,1355.1 1042.5,1355.2 1043.4,1356.1 1044.3,1357.8 1045.2,1357.6 1046.1,1355.5 1047.1,1353.9 1048.0,1352.9 1048.9,1353.1 1049.8,1354.0 1050.7,1353.4 1051.7,1353.6 1052.6,1353.4 1053.5,1354.9 1054.4,1355.0 1055.4,1355.5 1056.3,1355.7 1057.2,1354.9 1058.1,1354.3 1059.0,1353.2 1060.0,1352.7 1060.9,1352.1 1061.8,1352.8 1062.7,1353.4 1063.6,1354.3 1064.6,1354.4 1065.5,1356.1 1066.4,1356.9 1067.3,1356.4 1068.2,1355.7 1069.2,1355.4 1070.1,1355.0 1071.0,1353.7 1071.9,1354.7 1072.8,1354.8 1073.8,1352.9 1074.7,1350.9 1075.6,1352.8 1076.5,1353.6 1077.4,1354.2 1078.4,1352.5 1079.3,1353.2 1080.2,1352.6 1081.1,1352.4 1082.0,1352.7 1083.0,1352.6 1083.9,1352.9 1084.8,1351.7 1085.7,1352.4 1086.6,1352.5 1087.6,1353.8 1088.5,1353.9 1089.4,1352.4 1090.3,1351.4 1091.3,1350.1 1092.2,1349.1 1093.1,1349.2 1094.0,1350.4 1094.9,1349.6 1095.9,1347.8 1096.8,1346.9 1097.7,1345.6 1098.6,1345.0 1099.5,1344.6 1100.5,1344.8 1101.4,1344.9 1102.3,1344.6 1103.2,1343.9 1104.1,1343.0 1105.1,1342.1 1106.0,1342.9 1106.9,1342.6 1107.8,1341.9 1108.7,1339.6 1109.7,1339.6 1110.6,1339.5 1111.5,1339.4 1112.4,1341.6 1113.3,1343.2 1114.3,1343.4 1115.2,1342.1 1116.1,1342.1 1117.0,1343.6 1117.9,1342.6 1118.9,1342.4 1119.8,1342.1 1120.7,1343.4 1121.6,1344.5 1122.5,1346.7 1123.5,1349.1 1124.4,1349.1 1125.3,1347.8 1126.2,1346.7 1127.2,1349.0 1128.1,1350.4 1129.0,1349.9 1129.9,1349.1 1130.8,1351.9 1131.8,1355.2 1132.7,1356.4 1133.6,1356.4 1134.5,1355.2 1135.4,1353.6 1136.4,1351.5 1137.3,1351.3 1138.2,1351.7 1139.1,1352.1 1140.0,1352.8 1141.0,1354.5 1141.9,1354.2 1142.8,1352.5 1143.7,1353.5 1144.6,1354.9 1145.6,1355.3 1146.5,1354.5 1147.4,1354.5 1148.3,1354.9 1149.2,1355.2 1150.2,1356.1 1151.1,1354.6 1152.0,1354.6 1152.9,1354.9 1153.8,1356.0 1154.8,1355.5 1155.7,1354.4 1156.6,1353.0 1157.5,1353.2 1158.4,1354.4 1159.4,1356.2 1160.3,1355.7 1161.2,1355.0 1162.1,1353.3 1163.0,1353.7 1164.0,1354.0 1164.9,1355.1 1165.8,1356.4 1166.7,1356.3 1167.7,1355.1 1168.6,1354.5 1169.5,1355.1 1170.4,1355.3 1171.3,1355.4 1172.3,1356.4 1173.2,1357.5 1174.1,1357.9 1175.0,1356.6 1175.9,1354.6 1176.9,1354.0 1177.8,1354.2 1178.7,1354.4 1179.6,1355.0 1180.5,1355.5 1181.5,1355.6 1182.4,1355.7 1183.3,1355.7 1184.2,1356.2 1185.1,1355.5 1186.1,1355.0 1187.0,1354.9 1187.9,1355.5 1188.8,1356.3 1189.7,1357.4 1190.7,1358.1 1191.6,1356.9 1192.5,1356.2 1193.4,1357.0 1194.3,1356.0 1195.3,1354.6 1196.2,1354.9 1197.1,1356.8 1198.0,1356.3 1198.9,1355.3 1199.9,1356.2 1200.8,1355.5 1201.7,1353.6 1202.6,1353.9 1203.6,1355.6 1204.5,1355.8 1205.4,1355.4 1206.3,1356.4 1207.2,1357.2 1208.2,1356.5 1209.1,1354.8 1210.0,1354.0 1210.9,1354.9 1211.8,1355.2 1212.8,1354.9 1213.7,1355.6 1214.6,1357.2 1215.5,1357.5 1216.4,1356.5 1217.4,1355.2 1218.3,1354.2 1219.2,1354.0 1220.1,1355.7 1221.0,1356.6 1222.0,1357.5 1222.9,1356.7 1223.8,1356.7 1224.7,1356.4 1225.6,1357.1 1226.6,1357.4 1227.5,1356.8 1228.4,1356.2 1229.3,1354.8 1230.2,1354.5 1231.2,1354.6 1232.1,1355.4 1233.0,1355.7 1233.9,1355.6 1234.8,1356.1 1235.8,1356.3 1236.7,1357.1 1237.6,1357.0 1238.5,1358.2 1239.5,1359.0 1240.4,1358.3 1241.3,1356.5 1242.2,1355.3 1243.1,1355.8 1244.1,1356.7 1245.0,1356.8 1245.9,1355.5 1246.8,1355.4 1247.7,1357.5 1248.7,1358.7 1249.6,1357.5 1250.5,1356.7 1251.4,1357.2 1252.3,1356.3 1253.3,1353.2 1254.2,1350.2 1255.1,1349.8 1256.0,1349.8 1256.9,1349.7 1257.9,1349.0 1258.8,1348.5 1259.7,1345.7 1260.6,1343.1 1261.5,1341.3 1262.5,1339.0 1263.4,1335.2 1264.3,1332.2 1265.2,1328.6 1266.1,1321.2 1267.1,1313.2 1268.0,1308.5 1268.9,1304.2 1269.8,1297.9 1270.7,1288.7 1271.7,1280.7 1272.6,1274.0 1273.5,1268.1 1274.4,1258.1 1275.4,1245.0 1276.3,1234.6 1277.2,1224.5 1278.1,1216.6 1279.0,1205.8 1280.0,1196.3 1280.9,1187.5 1281.8,1177.7 1282.7,1168.3 1283.6,1158.2 1284.6,1151.6 1285.5,1143.5 1286.4,1137.1 1287.3,1131.8 1288.2,1127.5 1289.2,1124.3 1290.1,1124.2 1291.0,1123.8 1291.9,1123.4 1292.8,1125.2 1293.8,1130.1 1294.7,1132.2 1295.6,1135.5 1296.5,1142.5 1297.4,1151.1 1298.4,1156.8 1299.3,1163.1 1300.2,1171.8 1301.1,1183.9 1302.0,1195.3 1303.0,1204.7 1303.9,1210.9 1304.8,1221.7 1305.7,1234.1 1306.6,1241.6 1307.6,1252.8 1308.5,1262.7 1309.4,1273.3 1310.3,1284.3 1311.3,1293.5 1312.2,1299.4 1313.1,1305.7 1314.0,1313.1 1314.9,1320.5 1315.9,1325.2 1316.8,1328.0 1317.7,1332.8 1318.6,1339.2 1319.5,1343.9 1320.5,1346.1 1321.4,1347.8 1322.3,1348.0 1323.2,1348.7 1324.1,1350.0 1325.1,1352.3 1326.0,1353.8 1326.9,1356.1 1327.8,1357.1 1328.7,1358.6 1329.7,1358.4 1330.6,1359.4 1331.5,1360.3 1332.4,1361.2 1333.3,1361.2 1334.3,1360.9 1335.2,1360.7 1336.1,1360.4 1337.0,1361.8 1337.9,1362.7 1338.9,1362.5 1339.8,1361.7 1340.7,1361.8 1341.6,1362.4 1342.5,1362.8 1343.5,1362.5 1344.4,1361.9 1345.3,1362.0 1346.2,1362.2 1347.1,1361.7 1348.1,1360.9 1349.0,1361.2 1349.9,1360.8 1350.8,1361.7 1351.8,1362.0 1352.7,1362.7 1353.6,1362.1 1354.5,1362.5 1355.4,1362.8 1356.4,1362.8 1357.3,1362.8 1358.2,1362.7 1359.1,1363.0 1360.0,1363.0 1361.0,1362.5 1361.9,1361.6 1362.8,1361.4 1363.7,1361.7 1364.6,1361.5 1365.6,1361.6 1366.5,1361.9 1367.4,1362.6 1368.3,1362.0 1369.2,1361.8 1370.2,1360.7 1371.1,1361.0 1372.0,1361.2 1372.9,1361.6 1373.8,1360.8 1374.8,1361.3 1375.7,1360.8 1376.6,1359.9 1377.5,1357.9 1378.4,1357.4 1379.4,1358.1 1380.3,1359.3 1381.2,1359.2 1382.1,1358.2 1383.0,1358.3 1384.0,1359.4 1384.9,1358.8 1385.8,1356.7 1386.7,1356.4 1387.7,1357.1 1388.6,1356.6 1389.5,1354.0 1390.4,1351.3 1391.3,1349.3 1392.3,1348.7 1393.2,1348.3 1394.1,1347.8 1395.0,1345.1 1395.9,1344.5 1396.9,1343.4 1397.8,1342.2 1398.7,1339.3 1399.6,1341.1 1400.5,1341.8 1401.5,1340.4 1402.4,1337.9 1403.3,1337.7 1404.2,1337.0 1405.1,1334.5 1406.1,1333.5 1407.0,1332.3 1407.9,1333.1 1408.8,1330.1 1409.7,1330.7 1410.7,1330.7 1411.6,1333.6 1412.5,1333.4 1413.4,1333.0 1414.3,1329.9 1415.3,1329.5 1416.2,1330.7 1417.1,1332.9 1418.0,1332.2 1418.9,1335.8 1419.9,1336.7 1420.8,1337.7 1421.7,1336.6 1422.6,1338.6 1423.6,1341.1 1424.5,1341.6 1425.4,1341.2 1426.3,1341.8 1427.2,1344.7 1428.2,1346.5 1429.1,1348.6 1430.0,1349.9 1430.9,1349.7 1431.8,1349.0 1432.8,1350.4 1433.7,1353.2 1434.6,1355.1 1435.5,1356.9 1436.4,1357.3 1437.4,1357.3 1438.3,1354.9 1439.2,1354.8 1440.1,1356.3 1441.0,1359.0 1442.0,1359.8 1442.9,1359.7 1443.8,1360.0 1444.7,1360.5 1445.6,1361.0 1446.6,1361.4 1447.5,1360.9 1448.4,1361.2 1449.3,1361.3 1450.2,1361.9 1451.2,1361.9 1452.1,1363.8 1453.0,1364.8 1453.9,1363.9 1454.8,1362.6 1455.8,1362.5 1456.7,1362.7 1457.6,1362.1 1458.5,1361.6 1459.5,1361.6 1460.4,1362.1 1461.3,1362.9 1462.2,1363.0 1463.1,1363.0 1464.1,1363.3 1465.0,1363.7 1465.9,1364.8 1466.8,1365.2 1467.7,1365.8 1468.7,1364.7 1469.6,1364.3 1470.5,1363.3 1471.4,1363.7 1472.3,1363.9 1473.3,1365.1 1474.2,1364.8 1475.1,1364.6 1476.0,1364.2 1476.9,1364.0 1477.9,1363.7 1478.8,1364.0 1479.7,1364.8 1480.6,1364.8 1481.5,1363.6 1482.5,1362.4 1483.4,1362.4 1484.3,1363.6 1485.2,1363.8 1486.1,1363.6 1487.1,1363.6 1488.0,1364.3 1488.9,1364.7 1489.8,1364.9 1490.7,1364.9 1491.7,1364.7 1492.6,1364.3 1493.5,1364.3 1494.4,1364.8 1495.4,1364.9 1496.3,1363.8 1497.2,1363.4 1498.1,1363.8 1499.0,1364.7 1500.0,1364.2 1500.9,1363.1 1501.8,1362.0 1502.7,1362.6 1503.6,1364.2 1504.6,1364.9 1505.5,1364.4 1506.4,1364.1 1507.3,1364.5 1508.2,1364.7 1509.2,1365.3 1510.1,1365.5 1511.0,1364.8 1511.9,1363.8 1512.8,1363.9 1513.8,1364.8 1514.7,1365.2 1515.6,1365.7 1516.5,1365.7 1517.4,1365.9 1518.4,1366.6 1519.3,1366.5 1520.2,1365.9 1521.1,1364.5 1522.0,1363.9 1523.0,1363.3 1523.9,1363.2 1524.8,1362.8 1525.7,1363.3 1526.6,1363.4 1527.6,1362.9 1528.5,1362.4 1529.4,1363.7 1530.3,1364.8 1531.2,1364.9 1532.2,1364.6 1533.1,1365.0 1534.0,1364.5 1534.9,1364.0 1535.9,1364.0 1536.8,1364.3 1537.7,1364.4 1538.6,1363.7 1539.5,1363.5 1540.5,1363.3 1541.4,1364.7 1542.3,1365.2 1543.2,1365.2" stroke="#93b068"/>
<polyline points="92.5,1369.0 93.4,1368.0 94.3,1367.1 95.3,1365.5 96.2,1362.7 97.1,1358.0 98.0,1350.4 99.0,1338.3 99.9,1319.9 100.8,1292.6 101.7,1253.5 102.6,1199.1 103.6,1126.1 104.5,1031.4 105.4,912.7 106.3,769.5 107.2,603.1 108.2,417.7 109.1,220.2 110.0,20.3 110.9,-78.2 111.8,-78.2 112.8,-78.2 113.7,-78.2 114.6,-78.2 115.5,-78.2 116.4,-78.2 117.4,-78.2 118.3,-78.2 119.2,-57.8 120.1,139.9 121.0,339.7 122.0,530.9 122.9,705.5 123.8,858.4 124.7,986.9 125.6,1091.0 126.6,1172.4 127.5,1233.8 128.4,1278.6 129.3,1310.2 130.2,1331.9 131.2,1346.2 132.1,1355.4 133.0,1361.1 133.9,1364.5 134.9,1366.5 135.8,1369.0 136.7,1369.0 137.6,1369.0 138.5,1369.0 139.5,1369.0 140.4,1369.0 141.3,1369.0 142.2,1369.0 143.1,1369.0 144.1,1369.0 145.0,1369.0 145.9,1369.0 146.8,1369.0 147.7,1369.0 148.7,1367.4 149.6,1365.8 150.5,1363.1 151.4,1359.6 152.3,1355.5 153.3,1352.5 154.2,1348.1 155.1,1343.9 156.0,1339.2 156.9,1332.2 157.9,1318.8 158.8,1309.0 159.7,1304.3 160.6,1298.2 161.5,1289.0 162.5,1280.8 163.4,1276.8 164.3,1276.3 165.2,1276.5 166.1,1276.0 167.1,1276.0 168.0,1279.5 168.9,1284.3 169.8,1292.7 170.8,1298.0 171.7,1301.8 172.6,1307.7 173.5,1319.3 174.4,1327.8 175.4,1332.0 176.3,1336.1 177.2,1340.4 178.1,1344.9 179.0,1349.2 180.0,1351.1 180.9,1352.1 181.8,1353.2 182.7,1356.6 183.6,1357.3 184.6,1357.1 185.5,1355.8 186.4,1354.9 187.3,1354.0 188.2,1354.5 189.2,1353.8 190.1,1351.9 191.0,1348.7 191.9,1346.5 192.8,1342.4 193.8,1337.7 194.7,1330.9 195.6,1319.6 196.5,1301.1 197.4,1275.2 198.4,1250.1 199.3,1207.7 200.2,1161.4 201.1,1101.4 202.0,1035.9 203.0,963.5 203.9,885.9 204.8,801.2 205.7,719.8 206.7,643.1 207.6,569.3 208.5,501.6 209.4,451.9 210.3,420.4 211.3,412.9 212.2,424.6 213.1,456.9 214.0,500.6 214.9,563.2 215.9,635.1 216.8,710.3 217.7,789.9 218.6,873.2 219.5,952.9 220.5,1024.0 221.4,1086.0 222.3,1142.9 223.2,1191.1 224.1,1237.5 225.1,1266.0 226.0,1287.3 226.9,1296.8 227.8,1303.7 228.7,1307.3 229.7,1312.1 230.6,1312.6 231.5,1311.6 232.4,1309.9 233.3,1302.0 234.3,1292.7 235.2,1278.6 236.1,1267.8 237.0,1258.4 237.9,1252.0 238.9,1241.6 239.8,1228.3 240.7,1218.5 241.6,1206.2 242.5,1199.3 243.5,1195.2 244.4,1193.5 245.3,1194.0 246.2,1198.0 247.2,1204.6 248.1,1214.9 249.0,1224.1 249.9,1236.3 250.8,1245.8 251.8,1262.0 252.7,1272.8 253.6,1285.0 254.5,1291.7 255.4,1303.8 256.4,1312.2 257.3,1319.7 258.2,1324.5 259.1,1329.4 260.0,1333.4 261.0,1333.5 261.9,1336.0 262.8,1338.4 263.7,1338.8 264.6,1337.4 265.6,1336.8 266.5,1340.2 267.4,1342.7 268.3,1344.6 269.2,1342.9 270.2,1342.3 271.1,1341.1 272.0,1340.9 272.9,1340.3 273.8,1340.1 274.8,1339.1 275.7,1337.2 276.6,1337.0 277.5,1335.3 278.4,1337.2 279.4,1337.1 280.3,1338.5 281.2,1338.6 282.1,1338.6 283.1,1337.0 284.0,1335.1 284.9,1335.9 285.8,1335.8 286.7,1335.2 287.7,1335.0 288.6,1339.6 289.5,1341.7 290.4,1340.2 291.3,1337.9 292.3,1341.6 293.2,1344.2 294.1,1342.3 295.0,1340.6 295.9,1340.6 296.9,1339.6 297.8,1338.4 298.7,1339.0 299.6,1337.5 300.5,1335.7 301.5,1336.6 302.4,1337.8 303.3,1336.3 304.2,1334.7 305.1,1335.2 306.1,1336.6 307.0,1333.6 307.9,1333.0 308.8,1333.2 309.7,1335.1 310.7,1332.4 311.6,1332.5 312.5,1333.1 313.4,1334.5 314.3,1333.8 315.3,1335.7 316.2,1334.3 317.1,1332.9 318.0,1330.1 319.0,1331.4 319.9,1334.2 320.8,1336.7 321.7,1336.0 322.6,1331.1 323.6,1328.5 324.5,1326.0 325.4,1325.0 326.3,1323.1 327.2,1320.9 328.2,1313.6 329.1,1301.6 330.0,1289.1 330.9,1273.2 331.8,1250.8 332.8,1217.7 333.7,1180.3 334.6,1136.2 335.5,1085.3 336.4,1027.6 337.4,955.7 338.3,878.5 339.2,801.7 340.1,724.9 341.0,649.8 342.0,581.9 342.9,529.9 343.8,486.9 344.7,466.4 345.6,463.2 346.6,474.7 347.5,500.1 348.4,546.8 349.3,609.2 350.2,681.8 351.2,761.8 352.1,840.9 353.0,912.4 353.9,978.3 354.9,1042.3 355.8,1100.8 356.7,1148.5 357.6,1189.0 358.5,1221.6 359.5,1246.3 360.4,1264.5 361.3,1282.1 362.2,1296.3 363.1,1304.3 364.1,1309.6 365.0,1314.2 365.9,1313.1 366.8,1314.8 367.7,1315.6 368.7,1318.8 369.6,1318.5 370.5,1317.8 371.4,1313.8 372.3,1308.7 373.3,1305.8 374.2,1304.5 375.1,1304.3 376.0,1300.0 376.9,1293.2 377.9,1285.0 378.8,1274.6 379.7,1266.8 380.6,1257.2 381.5,1247.5 382.5,1236.0 383.4,1226.6 384.3,1217.4 385.2,1209.8 386.1,1205.1 387.1,1201.4 388.0,1199.7 388.9,1198.8 389.8,1198.4 390.8,1200.6 391.7,1206.5 392.6,1216.4 393.5,1226.2 394.4,1234.7 395.4,1245.5 396.3,1255.2 397.2,1261.5 398.1,1268.5 399.0,1281.3 400.0,1291.1 400.9,1296.1 401.8,1300.9 402.7,1304.9 403.6,1307.2 404.6,1306.7 405.5,1309.6 406.4,1311.8 407.3,1313.6 408.2,1311.8 409.2,1312.7 410.1,1313.5 411.0,1311.3 411.9,1308.1 412.8,1308.6 413.8,1306.8 414.7,1299.5 415.6,1294.0 416.5,1288.1 417.4,1278.7 418.4,1259.9 419.3,1235.1 420.2,1202.7 421.1,1167.6 422.0,1126.1 423.0,1072.6 423.9,1008.0 424.8,937.2 425.7,861.3 426.6,779.0 427.6,693.7 428.5,607.2 429.4,516.1 430.3,430.0 431.3,351.9 432.2,287.3 433.1,237.5 434.0,211.9 434.9,206.2 435.9,218.4 436.8,245.9 437.7,288.7 438.6,348.6 439.5,420.7 440.5,505.3 441.4,597.0 442.3,694.3 443.2,785.8 444.1,871.3 445.1,946.9 446.0,1015.5 446.9,1073.9 447.8,1126.3 448.7,1170.7 449.7,1209.6 450.6,1241.8 451.5,1264.8 452.4,1279.7 453.3,1293.4 454.3,1305.2 455.2,1312.0 456.1,1314.6 457.0,1316.8 457.9,1320.1 458.9,1323.4 459.8,1324.2 460.7,1324.2 461.6,1326.4 462.5,1329.2 463.5,1328.6 464.4,1324.7 465.3,1322.2 466.2,1324.0 467.2,1327.7 468.1,1326.1 469.0,1323.4 469.9,1323.1 470.8,1325.6 471.8,1324.9 472.7,1324.1 473.6,1324.1 474.5,1322.5 475.4,1322.1 476.4,1323.2 477.3,1324.2 478.2,1322.8 479.1,1322.3 480.0,1322.4 481.0,1323.2 481.9,1323.3 482.8,1323.9 483.7,1321.4 484.6,1321.6 485.6,1322.1 486.5,1322.7 487.4,1322.6 488.3,1323.3 489.2,1325.7 490.2,1326.8 491.1,1328.3 492.0,1328.4 492.9,1328.2 493.8,1330.5 494.8,1331.0 495.7,1330.2 496.6,1328.5 497.5,1330.4 498.4,1330.8 499.4,1330.1 500.3,1326.4 501.2,1324.0 502.1,1324.2 503.1,1328.0 504.0,1329.3 504.9,1330.8 505.8,1332.5 506.7,1332.2 507.7,1332.1 508.6,1332.2 509.5,1333.4 510.4,1331.4 511.3,1330.3 512.3,1329.5 513.2,1328.7 514.1,1328.6 515.0,1327.2 515.9,1327.6 516.9,1325.9 517.8,1324.5 518.7,1324.5 519.6,1330.2 520.5,1334.4 521.5,1334.1 522.4,1332.7 523.3,1333.3 524.2,1331.5 525.1,1330.0 526.1,1330.1 527.0,1329.7 527.9,1329.8 528.8,1331.9 529.7,1333.2 530.7,1332.8 531.6,1331.9 532.5,1330.7 533.4,1328.3 534.3,1329.0 535.3,1331.0 536.2,1331.5 537.1,1330.9 538.0,1330.1 539.0,1328.6 539.9,1329.9 540.8,1330.2 541.7,1331.8 542.6,1329.5 543.6,1330.3 544.5,1330.2 545.4,1331.5 546.3,1330.0 547.2,1328.5 548.2,1327.2 549.1,1329.9 550.0,1332.2 550.9,1334.3 551.8,1333.4 552.8,1331.5 553.7,1329.0 554.6,1329.2 555.5,1333.1 556.4,1335.4 557.4,1335.8 558.3,1334.8 559.2,1333.7 560.1,1331.2 561.0,1328.1 562.0,1329.2 562.9,1332.7 563.8,1337.6 564.7,1334.9 565.6,1333.5 566.6,1332.3 567.5,1331.9 568.4,1331.1 569.3,1331.7 570.2,1334.0 571.2,1332.5 572.1,1334.1 573.0,1334.4 573.9,1335.9 574.9,1334.5 575.8,1332.5 576.7,1330.1 577.6,1328.3 578.5,1327.9 579.5,1331.0 580.4,1333.5 581.3,1332.4 582.2,1328.2 583.1,1327.1 584.1,1329.4 585.0,1330.6 585.9,1331.6 586.8,1332.7 587.7,1333.0 588.7,1332.2 589.6,1331.6 590.5,1332.1 591.4,1331.2 592.3,1331.7 593.3,1334.2 594.2,1335.9 595.1,1335.9 596.0,1334.6 596.9,1333.2 597.9,1332.5 598.8,1333.1 599.7,1335.3 600.6,1335.1 601.5,1334.5 602.5,1332.5 603.4,1331.3 604.3,1330.3 605.2,1331.6 606.1,1332.5 607.1,1330.7 608.0,1331.4 608.9,1332.8 609.8,1333.7 610.7,1331.8 611.7,1332.4 612.6,1334.2 613.5,1335.6 614.4,1334.7 615.4,1334.4 616.3,1335.3 617.2,1337.2 618.1,1335.5 619.0,1332.9 620.0,1333.0 620.9,1335.4 621.8,1339.7 622.7,1338.3 623.6,1334.7 624.6,1330.8 625.5,1333.3 626.4,1334.9 627.3,1332.7 628.2,1332.2 629.2,1334.7 630.1,1335.5 631.0,1334.2 631.9,1333.2 632.8,1334.8 633.8,1335.1 634.7,1337.9 635.6,1338.4 636.5,1337.4 637.4,1335.1 638.4,1333.1 639.3,1332.1 640.2,1332.8 641.1,1333.2 642.0,1332.1 643.0,1331.8 643.9,1333.2 644.8,1333.7 645.7,1333.3 646.6,1334.6 647.6,1335.3 648.5,1334.9 649.4,1335.6 650.3,1336.5 651.3,1335.8 652.2,1334.8 653.1,1336.8 654.0,1335.5 654.9,1332.1 655.9,1329.0 656.8,1330.6 657.7,1333.0 658.6,1338.3 659.5,1338.8 660.5,1335.2 661.4,1333.2 662.3,1335.3 663.2,1336.9 664.1,1334.2 665.1,1335.6 666.0,1335.1 666.9,1335.3 667.8,1335.9 668.7,1340.0 669.7,1340.1 670.6,1336.3 671.5,1335.2 672.4,1337.1 673.3,1339.0 674.3,1337.4 675.2,1336.8 676.1,1337.4 677.0,1339.6 677.9,1340.7 678.9,1339.7 679.8,1337.4 680.7,1336.8 681.6,1337.9 682.5,1340.5 683.5,1340.1 684.4,1339.6 685.3,1337.0 686.2,1339.2 687.2,1338.7 688.1,1338.8 689.0,1337.3 689.9,1338.4 690.8,1339.0 691.8,1339.0 692.7,1338.5 693.6,1338.3 694.5,1338.2 695.4,1338.0 696.4,1338.6 697.3,1340.2 698.2,1340.7 699.1,1339.5 700.0,1336.4 701.0,1335.6 701.9,1335.7 702.8,1339.7 703.7,1342.2 704.6,1344.5 705.6,1342.8 706.5,1341.6 707.4,1339.4 708.3,1338.9 709.2,1339.3 710.2,1339.7 711.1,1340.4 712.0,1341.0 712.9,1340.6 713.8,1339.5 714.8,1337.9 715.7,1337.4 716.6,1337.3 717.5,1339.3 718.4,1339.1 719.4,1341.6 720.3,1342.5 721.2,1343.3 722.1,1339.7 723.1,1341.1 724.0,1341.2 724.9,1340.9 725.8,1336.7 726.7,1336.2 727.7,1337.8 728.6,1339.7 729.5,1340.7 730.4,1342.2 731.3,1343.7 732.3,1343.2 733.2,1341.4 734.1,1341.0 735.0,1341.4 735.9,1341.9 736.9,1343.2 737.8,1343.7 738.7,1344.1 739.6,1342.4 740.5,1341.9 741.5,1340.9 742.4,1341.4 743.3,1342.4 744.2,1344.1 745.1,1343.9 746.1,1343.3 747.0,1341.1 747.9,1340.3 748.8,1341.5 749.7,1345.5 750.7,1346.2 751.6,1344.3 752.5,1343.9 753.4,1345.5 754.3,1345.7 755.3,1345.0 756.2,1345.2 757.1,1345.4 758.0,1345.6 759.0,1344.7 759.9,1345.1 760.8,1343.4 761.7,1342.5 762.6,1342.9 763.6,1345.3 764.5,1344.5 765.4,1341.5 766.3,1339.6 767.2,1341.9 768.2,1343.9 769.1,1343.6 770.0,1342.4 770.9,1341.4 771.8,1339.8 772.8,1337.6 773.7,1335.9 774.6,1335.0 775.5,1334.9 776.4,1335.9 777.4,1333.6 778.3,1332.4 779.2,1327.5 780.1,1322.7 781.0,1316.9 782.0,1317.5 782.9,1316.5 783.8,1315.4 784.7,1312.5 785.6,1308.8 786.6,1304.5 787.5,1302.2 788.4,1300.0 789.3,1296.9 790.2,1293.8 791.2,1291.2 792.1,1289.8 793.0,1289.0 793.9,1286.2 794.8,1281.3 795.8,1281.9 796.7,1285.3 797.6,1290.2 798.5,1292.2 799.5,1298.4 800.4,1301.8 801.3,1301.6 802.2,1302.4 803.1,1306.6 804.1,1313.0 805.0,1313.8 805.9,1317.9 806.8,1318.9 807.7,1322.3 808.7,1326.4 809.6,1331.6 810.5,1334.6 811.4,1336.1 812.3,1338.1 813.3,1336.8 814.2,1336.2 815.1,1335.3 816.0,1337.0 816.9,1338.4 817.9,1343.7 818.8,1346.2 819.7,1346.4 820.6,1344.4 821.5,1343.4 822.5,1344.6 823.4,1345.0 824.3,1345.6 825.2,1345.1 826.1,1345.8 827.1,1345.7 828.0,1343.9 828.9,1342.5 829.8,1341.0 830.7,1340.9 831.7,1342.8 832.6,1344.9 833.5,1346.8 834.4,1345.5 835.4,1342.5 836.3,1340.2 837.2,1340.6 838.1,1341.4 839.0,1341.8 840.0,1341.1 840.9,1341.2 841.8,1340.3 842.7,1342.1 843.6,1340.1 844.6,1338.2 845.5,1336.7 846.4,1338.3 847.3,1337.6 848.2,1337.9 849.2,1337.9 850.1,1337.1 851.0,1335.4 851.9,1335.2 852.8,1335.8 853.8,1336.4 854.7,1335.9 855.6,1335.4 856.5,1334.8 857.4,1336.3 858.4,1337.4 859.3,1338.5 860.2,1339.7 861.1,1341.1 862.0,1342.1 863.0,1340.8 863.9,1339.6 864.8,1338.2 865.7,1340.1 866.6,1342.5 867.6,1342.7 868.5,1341.8 869.4,1341.2 870.3,1342.1 871.3,1342.6 872.2,1343.8 873.1,1345.0 874.0,1342.8 874.9,1341.7 875.9,1341.4 876.8,1345.1 877.7,1346.0 878.6,1344.8 879.5,1343.9 880.5,1343.0 881.4,1343.8 882.3,1344.5 883.2,1347.0 884.1,1348.5 885.1,1346.9 886.0,1345.2 886.9,1345.3 887.8,1345.6 888.7,1345.7 889.7,1345.1 890.6,1345.3 891.5,1342.7 892.4,1342.1 893.3,1343.2 894.3,1343.2 895.2,1344.3 896.1,1346.1 897.0,1349.9 897.9,1348.8 898.9,1346.3 899.8,1343.4 900.7,1344.7 901.6,1347.5 902.5,1349.6 903.5,1347.5 904.4,1344.0 905.3,1345.4 906.2,1346.5 907.2,1345.9 908.1,1343.8 909.0,1345.4 909.9,1346.9 910.8,1347.9 911.8,1348.4 912.7,1348.6 913.6,1347.2 914.5,1345.8 915.4,1345.6 916.4,1346.3 917.3,1346.2 918.2,1345.2 919.1,1346.1 920.0,1346.9 921.0,1347.4 921.9,1347.6 922.8,1347.3 923.7,1348.1 924.6,1347.4 925.6,1349.0 926.5,1348.1 927.4,1346.7 928.3,1344.3 929.2,1344.9 930.2,1346.9 931.1,1347.1 932.0,1348.4 932.9,1349.5 933.8,1350.4 934.8,1349.5 935.7,1349.6 936.6,1349.2 937.5,1348.3 938.4,1348.5 939.4,1348.4 940.3,1348.6 941.2,1347.3 942.1,1347.3 943.1,1348.2 944.0,1350.3 944.9,1348.1 945.8,1346.3 946.7,1347.9 947.7,1352.6 948.6,1352.5 949.5,1351.1 950.4,1349.6 951.3,1350.5 952.3,1349.8 953.2,1349.6 954.1,1349.9 955.0,1350.9 955.9,1351.1 956.9,1349.0 957.8,1349.9 958.7,1351.2 959.6,1352.7 960.5,1351.4 961.5,1349.4 962.4,1348.0 963.3,1350.7 964.2,1352.8 965.1,1351.9 966.1,1350.5 967.0,1352.1 967.9,1352.0 968.8,1351.2 969.7,1351.0 970.7,1351.5 971.6,1351.9 972.5,1351.1 973.4,1350.7 974.3,1349.7 975.3,1350.9 976.2,1350.1 977.1,1349.5 978.0,1348.6 978.9,1348.8 979.9,1350.3 980.8,1351.8 981.7,1352.9 982.6,1350.9 983.6,1349.9 984.5,1349.9 985.4,1351.1 986.3,1350.6 987.2,1350.3 988.2,1350.3 989.1,1350.4 990.0,1351.5 990.9,1352.7 991.8,1352.8 992.8,1352.4 993.7,1351.7 994.6,1349.8 995.5,1348.8 996.4,1350.0 997.4,1351.8 998.3,1351.4 999.2,1350.8 1000.1,1350.0 1001.0,1350.0 1002.0,1350.8 1002.9,1350.9 1003.8,1350.5 1004.7,1349.5 1005.6,1349.3 1006.6,1350.5 1007.5,1352.0 1008.4,1352.5 1009.3,1350.9 1010.2,1350.8 1011.2,1349.9 1012.1,1349.8 1013.0,1349.3 1013.9,1349.3 1014.8,1349.5 1015.8,1350.5 1016.7,1351.6 1017.6,1351.5 1018.5,1352.0 1019.5,1352.7 1020.4,1353.9 1021.3,1352.2 1022.2,1351.6 1023.1,1352.2 1024.1,1354.3 1025.0,1353.7 1025.9,1353.4 1026.8,1354.0 1027.7,1355.2 1028.7,1354.8 1029.6,1352.8 1030.5,1350.5 1031.4,1350.1 1032.3,1351.5 1033.3,1352.4 1034.2,1352.0 1035.1,1350.2 1036.0,1350.5 1036.9,1351.6 1037.9,1351.4 1038.8,1350.6 1039.7,1351.8 1040.6,1353.3 1041.5,1353.6 1042.5,1354.5 1043.4,1355.0 1044.3,1355.2 1045.2,1354.9 1046.1,1355.8 1047.1,1356.2 1048.0,1356.2 1048.9,1355.4 1049.8,1355.2 1050.7,1353.6 1051.7,1352.0 1052.6,1349.6 1053.5,1350.2 1054.4,1350.3 1055.4,1351.5 1056.3,1352.4 1057.2,1354.3 1058.1,1354.4 1059.0,1354.4 1060.0,1354.1 1060.9,1355.2 1061.8,1354.0 1062.7,1354.4 1063.6,1353.5 1064.6,1353.3 1065.5,1352.2 1066.4,1352.2 1067.3,1351.0 1068.2,1351.3 1069.2,1353.6 1070.1,1354.6 1071.0,1352.9 1071.9,1351.8 1072.8,1351.9 1073.8,1352.2 1074.7,1351.7 1075.6,1352.4 1076.5,1353.5 1077.4,1355.6 1078.4,1354.9 1079.3,1353.3 1080.2,1351.7 1081.1,1352.5 1082.0,1352.5 1083.0,1353.8 1083.9,1353.2 1084.8,1352.5 1085.7,1351.6 1086.6,1351.4 1087.6,1351.2 1088.5,1350.5 1089.4,1351.6 1090.3,1352.8 1091.3,1351.0 1092.2,1349.4 1093.1,1349.8 1094.0,1351.2 1094.9,1351.4 1095.9,1352.3 1096.8,1353.1 1097.7,1351.1 1098.6,1348.6 1099.5,1347.4 1100.5,1346.9 1101.4,1345.7 1102.3,1344.7 1103.2,1345.8 1104.1,1346.3 1105.1,1346.4 1106.0,1346.9 1106.9,1348.1 1107.8,1347.6 1108.7,1344.5 1109.7,1343.0 1110.6,1343.6 1111.5,1344.8 1112.4,1345.2 1113.3,1345.6 1114.3,1346.0 1115.2,1345.5 1116.1,1344.7 1117.0,1345.6 1117.9,1345.9 1118.9,1345.8 1119.8,1345.6 1120.7,1346.2 1121.6,1345.5 1122.5,1345.4 1123.5,1347.5 1124.4,1350.5 1125.3,1350.1 1126.2,1349.0 1127.2,1348.8 1128.1,1351.0 1129.0,1351.2 1129.9,1351.2 1130.8,1350.0 1131.8,1351.0 1132.7,1352.5 1133.6,1353.4 1134.5,1353.4 1135.4,1353.7 1136.4,1355.1 1137.3,1356.0 1138.2,1356.8 1139.1,1357.7 1140.0,1356.3 1141.0,1355.4 1141.9,1354.1 1142.8,1354.0 1143.7,1352.7 1144.6,1353.1 1145.6,1352.5 1146.5,1354.3 1147.4,1355.4 1148.3,1356.2 1149.2,1355.5 1150.2,1354.4 1151.1,1353.7 1152.0,1354.3 1152.9,1356.6 1153.8,1356.5 1154.8,1354.9 1155.7,1353.0 1156.6,1353.5 1157.5,1355.6 1158.4,1356.4 1159.4,1355.3 1160.3,1354.1 1161.2,1355.2 1162.1,1354.9 1163.0,1356.0 1164.0,1356.4 1164.9,1356.4 1165.8,1355.6 1166.7,1355.4 1167.7,1354.6 1168.6,1353.6 1169.5,1354.0 1170.4,1354.6 1171.3,1354.6 1172.3,1354.2 1173.2,1353.5 1174.1,1354.1 1175.0,1354.1 1175.9,1354.8 1176.9,1354.4 1177.8,1354.8 1178.7,1354.5 1179.6,1355.3 1180.5,1355.7 1181.5,1357.1 1182.4,1358.1 1183.3,1358.4 1184.2,1356.9 1185.1,1357.0 1186.1,1358.3 1187.0,1359.7 1187.9,1357.0 1188.8,1355.3 1189.7,1354.5 1190.7,1355.3 1191.6,1354.1 1192.5,1354.2 1193.4,1354.3 1194.3,1354.7 1195.3,1355.0 1196.2,1356.1 1197.1,1356.3 1198.0,1356.0 1198.9,1356.2 1199.9,1356.1 1200.8,1356.0 1201.7,1354.9 1202.6,1354.8 1203.6,1355.7 1204.5,1356.3 1205.4,1356.3 1206.3,1355.3 1207.2,1355.2 1208.2,1355.5 1209.1,1356.7 1210.0,1356.7 1210.9,1355.3 1211.8,1356.2 1212.8,1356.9 1213.7,1356.8 1214.6,1356.3 1215.5,1357.1 1216.4,1356.0 1217.4,1354.4 1218.3,1353.8 1219.2,1353.6 1220.1,1354.0 1221.0,1355.1 1222.0,1356.1 1222.9,1356.8 1223.8,1356.0 1224.7,1356.0 1225.6,1356.0 1226.6,1356.7 1227.5,1355.7 1228.4,1353.9 1229.3,1354.2 1230.2,1355.3 1231.2,1356.7 1232.1,1357.0 1233.0,1356.6 1233.9,1356.3 1234.8,1355.8 1235.8,1356.9 1236.7,1356.4 1237.6,1355.1 1238.5,1355.0 1239.5,1356.7 1240.4,1358.3 1241.3,1357.7 1242.2,1357.1 1243.1,1358.7 1244.1,1360.1 1245.0,1360.9 1245.9,1358.8 1246.8,1357.1 1247.7,1355.4 1248.7,1357.3 1249.6,1359.1 1250.5,1357.2 1251.4,1352.2 1252.3,1349.4 1253.3,1349.8 1254.2,1351.4 1255.1,1351.6 1256.0,1350.2 1256.9,1348.3 1257.9,1346.5 1258.8,1346.2 1259.7,1344.2 1260.6,1342.8 1261.5,1337.7 1262.5,1334.3 1263.4,1330.8 1264.3,1328.7 1265.2,1323.2 1266.1,1316.2 1267.1,1312.1 1268.0,1304.3 1268.9,1296.6 1269.8,1287.4 1270.7,1282.7 1271.7,1275.6 1272.6,1270.8 1273.5,1264.0 1274.4,1250.1 1275.4,1232.8 1276.3,1218.7 1277.2,1212.6 1278.1,1205.6 1279.0,1195.8 1280.0,1184.8 1280.9,1174.8 1281.8,1164.0 1282.7,1155.4 1283.6,1145.6 1284.6,1137.9 1285.5,1128.9 1286.4,1125.2 1287.3,1119.4 1288.2,1113.9 1289.2,1108.0 1290.1,1106.0 1291.0,1103.8 1291.9,1104.7 1292.8,1109.8 1293.8,1115.7 1294.7,1120.2 1295.6,1123.3 1296.5,1129.1 1297.4,1135.7 1298.4,1146.2 1299.3,1156.0 1300.2,1164.9 1301.1,1175.5 1302.0,1186.5 1303.0,1196.2 1303.9,1206.7 1304.8,1219.3 1305.7,1230.2 1306.6,1235.9 1307.6,1247.5 1308.5,1259.7 1309.4,1268.8 1310.3,1276.1 1311.3,1285.1 1312.2,1295.0 1313.1,1303.1 1314.0,1309.6 1314.9,1315.9 1315.9,1322.3 1316.8,1327.8 1317.7,1331.9 1318.6,1334.4 1319.5,1336.6 1320.5,1341.6 1321.4,1348.1 1322.3,1350.7 1323.2,1349.9 1324.1,1350.6 1325.1,1353.6 1326.0,1356.3 1326.9,1357.6 1327.8,1357.7 1328.7,1358.1 1329.7,1358.0 1330.6,1358.5 1331.5,1359.0 1332.4,1359.4 1333.3,1359.4 1334.3,1358.8 1335.2,1359.3 1336.1,1360.5 1337.0,1360.7 1337.9,1360.4 1338.9,1360.1 1339.8,1360.3 1340.7,1359.6 1341.6,1359.9 1342.5,1360.3 1343.5,1359.7 1344.4,1359.1 1345.3,1359.8 1346.2,1361.1 1347.1,1362.0 1348.1,1362.9 1349.0,1363.8 1349.9,1364.3 1350.8,1363.3 1351.8,1362.8 1352.7,1360.9 1353.6,1360.6 1354.5,1360.2 1355.4,1361.3 1356.4,1360.8 1357.3,1361.6 1358.2,1361.8 1359.1,1362.0 1360.0,1361.4 1361.0,1361.0 1361.9,1360.5 1362.8,1360.7 1363.7,1360.9 1364.6,1360.7 1365.6,1360.4 1366.5,1361.0 1367.4,1361.2 1368.3,1361.1 1369.2,1360.9 1370.2,1361.0 1371.1,1360.7 1372.0,1360.1 1372.9,1360.6 1373.8,1361.8 1374.8,1362.1 1375.7,1361.1 1376.6,1360.7 1377.5,1360.6 1378.4,1359.5 1379.4,1359.1 1380.3,1358.9 1381.2,1360.1 1382.1,1359.7 1383.0,1358.2 1384.0,1356.4 1384.9,1357.2 1385.8,1357.8 1386.7,1357.5 1387.7,1355.1 1388.6,1353.6 1389.5,1351.1 1390.4,1350.0 1391.3,1348.4 1392.3,1347.0 1393.2,1346.1 1394.1,1344.3 1395.0,1343.2 1395.9,1342.9 1396.9,1341.3 1397.8,1339.3 1398.7,1337.3 1399.6,1336.1 1400.5,1333.8 1401.5,1331.5 1402.4,1330.5 1403.3,1329.6 1404.2,1329.5 1405.1,1330.0 1406.1,1330.2 1407.0,1328.3 1407.9,1326.5 1408.8,1324.9 1409.7,1324.2 1410.7,1321.5 1411.6,1319.2 1412.5,1319.3 1413.4,1322.7 1414.3,1326.8 1415.3,1329.9 1416.2,1330.9 1417.1,1331.3 1418.0,1328.8 1418.9,1328.4 1419.9,1330.1 1420.8,1333.2 1421.7,1333.9 1422.6,1334.2 1423.6,1335.9 1424.5,1337.5 1425.4,1338.3 1426.3,1337.9 1427.2,1339.2 1428.2,1342.7 1429.1,1345.1 1430.0,1345.1 1430.9,1346.7 1431.8,1348.5 1432.8,1348.8 1433.7,1348.3 1434.6,1350.1 1435.5,1351.5 1436.4,1353.6 1437.4,1354.9 1438.3,1355.1 1439.2,1355.9 1440.1,1356.5 1441.0,1357.9 1442.0,1358.2 1442.9,1359.1 1443.8,1359.4 1444.7,1360.3 1445.6,1362.2 1446.6,1361.8 1447.5,1361.1 1448.4,1360.4 1449.3,1361.7 1450.2,1362.2 1451.2,1361.3 1452.1,1359.5 1453.0,1360.3 1453.9,1362.5 1454.8,1363.6 1455.8,1362.1 1456.7,1361.0 1457.6,1361.8 1458.5,1363.5 1459.5,1364.6 1460.4,1364.0 1461.3,1363.7 1462.2,1363.5 1463.1,1363.2 1464.1,1363.4 1465.0,1363.8 1465.9,1363.2 1466.8,1362.8 1467.7,1363.2 1468.7,1363.8 1469.6,1362.9 1470.5,1363.2 1471.4,1363.3 1472.3,1363.6 1473.3,1362.8 1474.2,1363.9 1475.1,1363.5 1476.0,1363.4 1476.9,1363.1 1477.9,1363.4 1478.8,1363.6 1479.7,1363.7 1480.6,1364.1 1481.5,1363.6 1482.5,1363.2 1483.4,1363.6 1484.3,1364.3 1485.2,1365.1 1486.1,1364.8 1487.1,1363.9 1488.0,1363.0 1488.9,1362.8 1489.8,1362.0 1490.7,1361.6 1491.7,1362.4 1492.6,1363.4 1493.5,1363.2 1494.4,1362.6 1495.4,1362.3 1496.3,1362.0 1497.2,1363.0 1498.1,1364.9 1499.0,1365.7 1500.0,1365.2 1500.9,1363.8 1501.8,1363.6 1502.7,1363.0 1503.6,1363.2 1504.6,1361.2 1505.5,1361.6 1506.4,1361.8 1507.3,1363.5 1508.2,1364.1 1509.2,1364.9 1510.1,1364.1 1511.0,1363.2 1511.9,1362.8 1512.8,1362.7 1513.8,1363.1 1514.7,1363.7 1515.6,1363.5 1516.5,1363.1 1517.4,1362.8 1518.4,1362.3 1519.3,1362.6 1520.2,1363.4 1521.1,1364.1 1522.0,1364.3 1523.0,1364.4 1523.9,1363.8 1524.8,1363.2 1525.7,1362.8 1526.6,1363.0 1527.6,1363.0 1528.5,1363.9 1529.4,1363.8 1530.3,1363.3 1531.2,1363.0 1532.2,1363.0 1533.1,1363.2 1534.0,1364.1 1534.9,1365.0 1535.9,1365.7 1536.8,1365.1 1537.7,1364.4 1538.6,1364.2 1539.5,1364.4 1540.5,1364.3 1541.4,1364.0 1542.3,1364.5 1543.2,1364.7" stroke="#58abcb"/>
</g>
<path d="M88.8 1369.0V57.3H1541.0V1369.0" stroke="#8e8e8e" stroke-width="1.7" fill="none"/>
<path d="M79.8 1369.0H1541.0" stroke="#8e8e8e" stroke-width="1.7" fill="none"/>
<path d="M80.3 1342.7H88.8M80.3 1316.4H88.8M80.3 1290.1H88.8M80.3 1263.8H88.8M80.3 1237.4H88.8M80.3 1211.1H88.8M80.3 1184.8H88.8M80.3 1158.5H88.8M80.3 1132.2H88.8M80.3 1105.9H88.8M80.3 1079.6H88.8M80.3 1053.3H88.8M80.3 1026.9H88.8M80.3 1000.6H88.8M80.3 974.3H88.8M80.3 948.0H88.8M80.3 921.7H88.8M80.3 895.4H88.8M80.3 869.1H88.8M80.3 842.8H88.8M80.3 816.4H88.8M80.3 790.1H88.8M80.3 763.8H88.8M80.3 737.5H88.8M80.3 711.2H88.8M80.3 684.9H88.8M80.3 658.6H88.8M80.3 632.3H88.8M80.3 606.0H88.8M80.3 579.6H88.8M80.3 553.3H88.8M80.3 527.0H88.8M80.3 500.7H88.8M80.3 474.4H88.8M80.3 448.1H88.8M80.3 421.8H88.8M80.3 395.5H88.8M80.3 369.1H88.8M80.3 342.8H88.8M80.3 316.5H88.8M80.3 290.2H88.8M80.3 263.9H88.8M80.3 237.6H88.8M80.3 211.3H88.8M80.3 185.0H88.8M80.3 158.6H88.8M80.3 132.3H88.8M80.3 106.0H88.8M80.3 79.7H88.8M114.6 1369.0v12M151.4 1369.0v7M188.2 1369.0v7M225.1 1369.0v7M261.9 1369.0v7M298.7 1369.0v12M335.5 1369.0v7M372.3 1369.0v7M409.2 1369.0v7M446.0 1369.0v7M482.8 1369.0v12M519.6 1369.0v7M556.4 1369.0v7M593.3 1369.0v7M630.1 1369.0v7M666.9 1369.0v12M703.7 1369.0v7M740.5 1369.0v7M777.4 1369.0v7M814.2 1369.0v7M851.0 1369.0v12M887.8 1369.0v7M924.6 1369.0v7M961.5 1369.0v7M998.3 1369.0v7M1035.1 1369.0v12M1071.9 1369.0v7M1108.7 1369.0v7M1145.6 1369.0v7M1182.4 1369.0v7M1219.2 1369.0v12M1256.0 1369.0v7M1292.8 1369.0v7M1329.7 1369.0v7M1366.5 1369.0v7M1403.3 1369.0v12M1440.1 1369.0v7M1476.9 1369.0v7M1513.8 1369.0v7" stroke="#8e8e8e" stroke-width="1.5" fill="none"/>
<text x="61.6" y="1378.7" font-size="27.3" fill="#444" text-anchor="middle">0</text>
<text x="61.6" y="1247.1" font-size="27.3" fill="#444" text-anchor="middle">1</text>
<text x="61.6" y="1115.6" font-size="27.3" fill="#444" text-anchor="middle">2</text>
<text x="61.6" y="984.0" font-size="27.3" fill="#444" text-anchor="middle">3</text>
<text x="61.6" y="852.5" font-size="27.3" fill="#444" text-anchor="middle">4</text>
<text x="61.6" y="720.9" font-size="27.3" fill="#444" text-anchor="middle">5</text>
<text x="61.6" y="589.3" font-size="27.3" fill="#444" text-anchor="middle">6</text>
<text x="61.6" y="457.8" font-size="27.3" fill="#444" text-anchor="middle">7</text>
<text x="61.6" y="326.2" font-size="27.3" fill="#444" text-anchor="middle">8</text>
<text x="61.6" y="194.7" font-size="27.3" fill="#444" text-anchor="middle">9</text>
<text x="114.2" y="1411.5" font-size="27.3" fill="#444" text-anchor="middle">0</text>
<text x="298.3" y="1411.5" font-size="27.3" fill="#444" text-anchor="middle">1</text>
<text x="482.4" y="1411.5" font-size="27.3" fill="#444" text-anchor="middle">2</text>
<text x="666.5" y="1411.5" font-size="27.3" fill="#444" text-anchor="middle">3</text>
<text x="850.6" y="1411.5" font-size="27.3" fill="#444" text-anchor="middle">4</text>
<text x="1034.7" y="1411.5" font-size="27.3" fill="#444" text-anchor="middle">5</text>
<text x="1218.8" y="1411.5" font-size="27.3" fill="#444" text-anchor="middle">6</text>
<text x="1402.9" y="1411.5" font-size="27.3" fill="#444" text-anchor="middle">7</text>
<text x="96" y="47.3" font-size="26.8" fill="#444" textLength="88" lengthAdjust="spacingAndGlyphs">cps/eV</text>
<text x="727" y="1450" font-size="28" fill="#555" textLength="174" lengthAdjust="spacingAndGlyphs">Energie [keV]</text>
<rect x="183.1" y="905" width="46.4" height="42.0" fill="#ff1af3" fill-opacity="0.85"/>
<text x="197.7" y="933" font-size="27" fill="#4a1045" stroke="#ff1af3" stroke-width="0.7" textLength="26.4" lengthAdjust="spacingAndGlyphs">Cr</text>
<rect x="191" y="942.5" width="39.5" height="41.2" fill="#8737ff" fill-opacity="0.85"/>
<text x="206.1" y="969.7" font-size="27" fill="#2d1a48" stroke="#8737ff" stroke-width="0.7" textLength="17.6" lengthAdjust="spacingAndGlyphs">O</text>
<rect x="145.6" y="1071.2" width="50.1" height="42.1" fill="#ffff1a" fill-opacity="0.85"/>
<text x="159.6" y="1100.2" font-size="27" fill="#4a4a10" stroke="#ffff1a" stroke-width="0.7" textLength="30.4" lengthAdjust="spacingAndGlyphs">Ca</text>
<rect x="221" y="1135.3" width="49.0" height="41.7" fill="#1c4f1c" fill-opacity="0.85"/>
<text x="235.1" y="1163.9" font-size="27" fill="#e6e6e6" stroke="#1c4f1c" stroke-width="0.7" textLength="28.1" lengthAdjust="spacingAndGlyphs">Fe</text>
<rect x="249.5" y="1179.3" width="46.3" height="42.1" fill="#ff871a" fill-opacity="0.85"/>
<text x="263.8" y="1208" font-size="27" fill="#4a2c10" stroke="#ff871a" stroke-width="0.7" textLength="22.8" lengthAdjust="spacingAndGlyphs">Ni</text>
<rect x="315.4" y="1283" width="61.4" height="41.8" fill="#1a1aee" fill-opacity="0.85"/>
<text x="329.3" y="1311.5" font-size="27" fill="#e6e6f6" stroke="#1a1aee" stroke-width="0.7" textLength="41.2" lengthAdjust="spacingAndGlyphs">Mg</text>
<rect x="366.5" y="1231" width="45.3" height="42.6" fill="#1aee1a" fill-opacity="0.85"/>
<text x="380.2" y="1259" font-size="27" fill="#10450f" stroke="#1aee1a" stroke-width="0.7" textLength="22.2" lengthAdjust="spacingAndGlyphs">Al</text>
<rect x="415.2" y="1207" width="40.1" height="42.7" fill="#1aeeee" fill-opacity="0.85"/>
<text x="429.7" y="1235.2" font-size="27" fill="#104545" stroke="#1aeeee" stroke-width="0.7" textLength="17.0" lengthAdjust="spacingAndGlyphs">Si</text>
<rect x="523.5" y="1267.6" width="32.5" height="41.8" fill="#ff8bc4" fill-opacity="0.85"/>
<text x="537.5" y="1294.4" font-size="27" fill="#4a2c3b" stroke="#ff8bc4" stroke-width="0.7" textLength="10.7" lengthAdjust="spacingAndGlyphs">S</text>
<rect x="768.9" y="1261" width="51.7" height="42.5" fill="#ffff1a" fill-opacity="0.85"/>
<text x="783.5" y="1289.1" font-size="27" fill="#4a4a10" stroke="#ffff1a" stroke-width="0.7" textLength="31.2" lengthAdjust="spacingAndGlyphs">Ca</text>
<rect x="1086.8" y="1294.5" width="47.4" height="43.3" fill="#ff1af3" fill-opacity="0.85"/>
<text x="1101.7" y="1323.2" font-size="27" fill="#4a1045" stroke="#ff1af3" stroke-width="0.7" textLength="27.3" lengthAdjust="spacingAndGlyphs">Cr</text>
<rect x="1269.2" y="684.7" width="49.2" height="42.9" fill="#1c4f1c" fill-opacity="0.85"/>
<text x="1283.2" y="714.2" font-size="27" fill="#e6e6e6" stroke="#1c4f1c" stroke-width="0.7" textLength="27.8" lengthAdjust="spacingAndGlyphs">Fe</text>
<rect x="1469.1" y="1293" width="46.4" height="43.0" fill="#ff871a" fill-opacity="0.85"/>
<text x="1483.8" y="1320.3" font-size="27" fill="#4a2c10" stroke="#ff871a" stroke-width="0.7" textLength="23.0" lengthAdjust="spacingAndGlyphs">Ni</text>
<rect x="777.5" y="-2" width="796" height="596" fill="#fff"/>
<rect x="779" y="0" width="793" height="592.600" fill="#000"/>
<g clip-path="url(#sphclip)">
<rect x="900" y="0" width="560" height="530" fill="url(#sph)"/>
<polygon points="1649,785 1674,814 2072,468 1436,296 1383,302 1350,340" fill="#000" fill-opacity="0.12" stroke="#e8e8e8" stroke-opacity="0.3" stroke-width="1.6"/>
<polygon points="991,323 968,330 938,366 995,374 991,323" fill="#fff" fill-opacity="0.10" stroke="#e8e8e8" stroke-opacity="0.3" stroke-width="1.6"/>
<polygon points="1322,188 1308,247 1383,302 1436,296 1406,233" fill="#000" fill-opacity="0.06" stroke="#e8e8e8" stroke-opacity="0.3" stroke-width="1.6"/>
<polygon points="1134,275 1141,197 1076,232 1048,257 1074,303" fill="#000" fill-opacity="0.01" stroke="#e8e8e8" stroke-opacity="0.3" stroke-width="1.6"/>
<polygon points="1182,424 1174,385 1143,409 1120,466 1168,498" fill="#fff" fill-opacity="0.08" stroke="#e8e8e8" stroke-opacity="0.3" stroke-width="1.6"/>
<polygon points="1152,-40 1044,-723 753,-385 1011,67 1056,83 1118,68" fill="#fff" fill-opacity="0.06" stroke="#e8e8e8" stroke-opacity="0.3" stroke-width="1.6"/>
<polygon points="1079,342 1074,328 1074,303 1134,275 1201,344 1198,351 1183,362" fill="#000" fill-opacity="0.09" stroke="#e8e8e8" stroke-opacity="0.3" stroke-width="1.6"/>
<polygon points="1168,498 1120,466 1066,470 775,936 1176,1447 1362,1175 1217,581" fill="#fff" fill-opacity="0.04" stroke="#e8e8e8" stroke-opacity="0.3" stroke-width="1.6"/>
<polygon points="1216,451 1233,409 1205,360 1198,351 1183,362 1174,385 1182,424" fill="#000" fill-opacity="0.11" stroke="#e8e8e8" stroke-opacity="0.3" stroke-width="1.6"/>
<polygon points="1164,200 1222,323 1242,314 1269,270 1226,214" fill="#000" fill-opacity="0.04" stroke="#e8e8e8" stroke-opacity="0.3" stroke-width="1.6"/>
<polygon points="950,169 269,60 753,-385 1011,67 1001,162 990,172" fill="#fff" fill-opacity="0.08" stroke="#e8e8e8" stroke-opacity="0.3" stroke-width="1.6"/>
<polygon points="1216,451 1233,480 1217,581 1168,498 1182,424" fill="#000" fill-opacity="0.02" stroke="#e8e8e8" stroke-opacity="0.3" stroke-width="1.6"/>
<polygon points="1226,214 1269,270 1308,247 1322,188 1322,187 1306,172 1274,164" fill="#fff" fill-opacity="0.03" stroke="#e8e8e8" stroke-opacity="0.3" stroke-width="1.6"/>
<polygon points="950,169 269,60 8,262 30,278 951,274" fill="#fff" fill-opacity="0.06" stroke="#e8e8e8" stroke-opacity="0.3" stroke-width="1.6"/>
<polygon points="1118,68 1056,83 1068,117 1134,118" fill="#fff" fill-opacity="0.08" stroke="#e8e8e8" stroke-opacity="0.3" stroke-width="1.6"/>
<polygon points="1216,451 1233,409 1259,439 1233,480" fill="#fff" fill-opacity="0.07" stroke="#e8e8e8" stroke-opacity="0.3" stroke-width="1.6"/>
<polygon points="1077,345 1002,384 1002,398 1062,439 1079,410" fill="#000" fill-opacity="0.13" stroke="#e8e8e8" stroke-opacity="0.3" stroke-width="1.6"/>
<polygon points="1002,398 640,798 775,936 1066,470 1062,439" fill="#000" fill-opacity="0.02" stroke="#e8e8e8" stroke-opacity="0.3" stroke-width="1.6"/>
<polygon points="1198,84 1140,127 1146,181 1147,183 1238,135 1238,125" fill="#000" fill-opacity="0.01" stroke="#e8e8e8" stroke-opacity="0.3" stroke-width="1.6"/>
<polygon points="990,172 1001,162 1040,161 1076,232 1048,257 1012,248" fill="#000" fill-opacity="0.12" stroke="#e8e8e8" stroke-opacity="0.3" stroke-width="1.6"/>
<polygon points="1012,248 1048,257 1074,303 1074,328 991,323 991,323 983,273" fill="#fff" fill-opacity="0.01" stroke="#e8e8e8" stroke-opacity="0.3" stroke-width="1.6"/>
<polygon points="1140,127 1146,181 1060,155 1068,117 1134,118" fill="#fff" fill-opacity="0.03" stroke="#e8e8e8" stroke-opacity="0.3" stroke-width="1.6"/>
<polygon points="951,274 951,327 968,330 991,323 983,273" fill="#fff" fill-opacity="0.09" stroke="#e8e8e8" stroke-opacity="0.3" stroke-width="1.6"/>
<polygon points="1002,398 640,798 261,462 789,380 938,366 995,374 1002,384" fill="#fff" fill-opacity="0.11" stroke="#e8e8e8" stroke-opacity="0.3" stroke-width="1.6"/>
<polygon points="1233,480 1259,439 1321,428 1649,785 1674,814 1362,1175 1217,581" fill="#000" fill-opacity="0.10" stroke="#e8e8e8" stroke-opacity="0.3" stroke-width="1.6"/>
<polygon points="1077,345 1002,384 995,374 991,323 1074,328 1079,342" fill="#000" fill-opacity="0.07" stroke="#e8e8e8" stroke-opacity="0.3" stroke-width="1.6"/>
<polygon points="1068,117 1056,83 1011,67 1001,162 1040,161 1060,155" fill="#fff" fill-opacity="0.04" stroke="#e8e8e8" stroke-opacity="0.3" stroke-width="1.6"/>
<polygon points="1148,189 1141,197 1134,275 1201,344 1222,323 1164,200" fill="#000" fill-opacity="0.10" stroke="#e8e8e8" stroke-opacity="0.3" stroke-width="1.6"/>
<polygon points="1319,418 1322,358 1350,340 1649,785 1321,428" fill="#000" fill-opacity="0.07" stroke="#e8e8e8" stroke-opacity="0.3" stroke-width="1.6"/>
<polygon points="950,169 951,274 951,274 983,273 1012,248 990,172" fill="#fff" fill-opacity="0.02" stroke="#e8e8e8" stroke-opacity="0.3" stroke-width="1.6"/>
<polygon points="1322,187 1416,133 1406,233 1322,188" fill="#000" fill-opacity="0.09" stroke="#e8e8e8" stroke-opacity="0.3" stroke-width="1.6"/>
<polygon points="1322,358 1242,314 1269,270 1308,247 1383,302 1350,340" fill="#fff" fill-opacity="0.07" stroke="#e8e8e8" stroke-opacity="0.3" stroke-width="1.6"/>
<polygon points="1147,183 1146,181 1060,155 1040,161 1076,232 1141,197 1148,189" fill="#fff" fill-opacity="0.09" stroke="#e8e8e8" stroke-opacity="0.3" stroke-width="1.6"/>
<polygon points="1416,133 1754,-215 2377,262 2072,468 1436,296 1406,233" fill="#000" fill-opacity="0.12" stroke="#e8e8e8" stroke-opacity="0.3" stroke-width="1.6"/>
<polygon points="1238,125 1238,135 1274,164 1306,172 1320,54 1279,65" fill="#fff" fill-opacity="0.01" stroke="#e8e8e8" stroke-opacity="0.3" stroke-width="1.6"/>
<polygon points="1147,183 1238,135 1274,164 1226,214 1164,200 1148,189" fill="#fff" fill-opacity="0.08" stroke="#e8e8e8" stroke-opacity="0.3" stroke-width="1.6"/>
<polygon points="1079,410 1062,439 1066,470 1120,466 1143,409" fill="#fff" fill-opacity="0.12" stroke="#e8e8e8" stroke-opacity="0.3" stroke-width="1.6"/>
<polygon points="1198,84 1140,127 1134,118 1118,68 1152,-40 1199,32" fill="#000" fill-opacity="0.06" stroke="#e8e8e8" stroke-opacity="0.3" stroke-width="1.6"/>
<polygon points="1319,418 1205,360 1198,351 1201,344 1222,323 1242,314 1322,358" fill="#000" fill-opacity="0.09" stroke="#e8e8e8" stroke-opacity="0.3" stroke-width="1.6"/>
<polygon points="1077,345 1079,410 1143,409 1174,385 1183,362 1079,342" fill="#fff" fill-opacity="0.10" stroke="#e8e8e8" stroke-opacity="0.3" stroke-width="1.6"/>
<polygon points="1233,409 1205,360 1319,418 1321,428 1259,439" fill="#fff" fill-opacity="0.11" stroke="#e8e8e8" stroke-opacity="0.3" stroke-width="1.6"/>
<polygon points="968,330 938,366 789,380 951,327" fill="#000" fill-opacity="0.08" stroke="#e8e8e8" stroke-opacity="0.3" stroke-width="1.6"/>
<polygon points="1198,84 1238,125 1279,65 1199,32" fill="#000" fill-opacity="0.02" stroke="#e8e8e8" stroke-opacity="0.3" stroke-width="1.6"/>
<polygon points="951,274 30,278 261,462 789,380 951,327 951,274" fill="#fff" fill-opacity="0.06" stroke="#e8e8e8" stroke-opacity="0.3" stroke-width="1.6"/>
<polygon points="1322,187 1306,172 1320,54 1699,-268 1754,-215 1416,133" fill="#fff" fill-opacity="0.09" stroke="#e8e8e8" stroke-opacity="0.3" stroke-width="1.6"/>
<polygon points="1199,32 1152,-40 1044,-723 1176,-919 1699,-268 1320,54 1279,65" fill="#000" fill-opacity="0.09" stroke="#e8e8e8" stroke-opacity="0.3" stroke-width="1.6"/>
<rect x="900" y="0" width="560" height="530" filter="url(#mottle)" opacity="0.32"/>
<g filter="url(#flbig)"><rect x="900" y="0" width="560" height="530" fill="#000"/><circle cx="1179" cy="266" r="108" fill="url(#dg)" opacity="0.93"/><circle cx="1100" cy="255" r="60" fill="url(#dg)" opacity="0.7"/><circle cx="1130" cy="370" r="85" fill="url(#dg)" opacity="0.6"/><circle cx="1230" cy="330" r="50" fill="url(#dg)" opacity="0.55"/></g>
<g filter="url(#flmid)"><rect x="900" y="0" width="560" height="530" fill="#000"/><circle cx="1000" cy="205" r="85" fill="url(#dg)" opacity="1.0"/><circle cx="1075" cy="250" r="75" fill="url(#dg)" opacity="0.9"/><circle cx="960" cy="300" r="45" fill="url(#dg)" opacity="0.7"/><circle cx="1185" cy="75" r="65" fill="url(#dg)" opacity="0.85"/><circle cx="1300" cy="230" r="55" fill="url(#dg)" opacity="0.8"/><circle cx="1215" cy="420" r="50" fill="url(#dg)" opacity="0.7"/><circle cx="1060" cy="115" r="60" fill="url(#dg)" opacity="0.65"/><circle cx="1130" cy="370" r="90" fill="url(#dg)" opacity="0.6"/><circle cx="1179" cy="266" r="120" fill="url(#dg)" opacity="0.5"/></g>
<g filter="url(#flsmall)"><rect x="900" y="0" width="560" height="530" fill="#000"/><circle cx="1175" cy="262" r="260" fill="url(#dg)" opacity="0.55"/><circle cx="1295" cy="345" r="60" fill="url(#dg)" opacity="0.95"/><circle cx="1000" cy="205" r="90" fill="url(#dg)" opacity="0.8"/><circle cx="1179" cy="266" r="140" fill="url(#dg)" opacity="0.7"/><circle cx="1185" cy="75" r="80" fill="url(#dg)" opacity="0.7"/><circle cx="1320" cy="130" r="90" fill="url(#dg)" opacity="0.5"/><circle cx="1100" cy="400" r="90" fill="url(#dg)" opacity="0.6"/><circle cx="1050" cy="120" r="70" fill="url(#dg)" opacity="0.7"/></g>
<path d="M1167.1 36.3l-1.6 10.2M1166.6 39.7l2.3 0.9M1166.6 39.7l-2.5 0.1M1166.0 43.1l3.8 1.4M1166.0 43.1l-4.0 0.2M1194.4 76.3l3.7 8.1M1196.2 80.3l2.0 -0.5M1196.2 80.3l-1.7 1.2M1148.8 68.5l2.2 9.6M1149.5 71.8l3.4 -0.1M1149.5 71.8l-3.1 1.4M1150.3 75.0l4.4 -0.1M1150.3 75.0l-4.0 1.9M1188.4 55.1l10.7 7.4M1191.0 56.9l1.5 -1.4M1191.0 56.9l-0.8 1.9M1193.7 58.7l3.8 -3.6M1193.7 58.7l-2.0 4.8M1196.4 60.6l2.7 -2.5M1196.4 60.6l-1.4 3.4M1213.8 93.9l10.7 9.6M1216.5 96.3l2.3 -1.7M1216.5 96.3l-1.4 2.4M1219.1 98.7l4.2 -3.1M1219.1 98.7l-2.6 4.5M1221.8 101.1l2.0 -1.5M1221.8 101.1l-1.3 2.2M1229.6 100.8l1.7 14.1M1230.1 104.4l3.3 0.3M1230.1 104.4l-3.1 1.0M1230.5 107.9l4.8 0.4M1230.5 107.9l-4.6 1.5M1230.9 111.4l3.1 0.3M1230.9 111.4l-3.0 1.0M1011.8 259.0l3.0 9.8M1012.8 262.3l4.3 -0.4M1012.8 262.3l-3.8 2.1M1013.8 265.5l2.1 -0.2M1013.8 265.5l-1.9 1.0M1013.8 178.3l-15.3 1.9M1010.8 178.7l-0.3 3.7M1010.8 178.7l-1.2 -3.5M1007.7 179.0l-0.2 2.9M1007.7 179.0l-0.9 -2.8M1004.7 179.4l-0.3 4.1M1004.7 179.4l-1.3 -3.9M1001.6 179.8l-0.2 2.7M1001.6 179.8l-0.9 -2.5M1026.3 210.7l9.2 4.6M1029.4 212.3l1.1 -1.4M1029.4 212.3l-0.5 1.7M1032.4 213.8l2.8 -3.5M1032.4 213.8l-1.2 4.3M1013.7 248.8l7.3 17.4M1014.9 251.7l2.4 -0.5M1014.9 251.7l-2.0 1.4M1016.2 254.6l1.9 -0.4M1016.2 254.6l-1.6 1.1M1017.4 257.5l2.7 -0.5M1017.4 257.5l-2.3 1.5M1018.6 260.4l4.3 -0.8M1018.6 260.4l-3.6 2.5M1019.8 263.3l2.0 -0.4M1019.8 263.3l-1.7 1.2M1044.0 172.9l19.0 2.3M1047.1 173.3l1.0 -3.1M1047.1 173.3l0.3 3.3M1050.3 173.7l0.5 -1.6M1050.3 173.7l0.1 1.7M1053.5 174.1l1.4 -4.1M1053.5 174.1l0.4 4.3M1056.6 174.5l0.7 -2.0M1056.6 174.5l0.2 2.1M1059.8 174.9l0.7 -2.0M1059.8 174.9l0.2 2.1M1050.0 187.8l-8.7 16.2M1048.6 190.5l2.5 2.1M1048.6 190.5l-3.2 -0.9M1047.1 193.2l3.3 2.8M1047.1 193.2l-4.2 -1.2M1045.6 195.8l1.9 1.6M1045.6 195.8l-2.4 -0.7M1044.2 198.5l2.5 2.1M1044.2 198.5l-3.1 -0.9M1042.7 201.2l1.5 1.3M1042.7 201.2l-1.9 -0.6M981.1 221.2l1.5 11.8M981.6 225.1l3.0 0.2M981.6 225.1l-2.9 1.0M982.1 229.0l2.5 0.2M982.1 229.0l-2.3 0.8M992.5 236.7l-16.3 2.3M989.3 237.2l-0.1 2.3M989.3 237.2l-0.8 -2.2M986.0 237.6l-0.3 4.6M986.0 237.6l-1.6 -4.4M982.8 238.1l-0.3 4.4M982.8 238.1l-1.5 -4.1M979.5 238.5l-0.1 1.7M979.5 238.5l-0.6 -1.6M1010.3 236.6l12.3 10.0M1012.8 238.6l2.2 -1.8M1012.8 238.6l-1.3 2.5M1015.2 240.6l3.7 -3.0M1015.2 240.6l-2.2 4.2M1017.7 242.6l3.5 -2.8M1017.7 242.6l-2.0 4.0M1020.2 244.6l1.3 -1.0M1020.2 244.6l-0.8 1.5M1020.3 237.1l-5.9 12.0M1018.8 240.1l1.9 1.5M1018.8 240.1l-2.3 -0.6M1017.3 243.2l2.1 1.7M1017.3 243.2l-2.6 -0.7M1015.9 246.2l3.0 2.3M1015.9 246.2l-3.6 -0.9M1019.9 181.3l-0.2 13.1M1019.9 184.6l2.5 0.5M1019.9 184.6l-2.5 0.5M1019.8 187.9l2.2 0.5M1019.8 187.9l-2.2 0.4M1019.8 191.2l2.1 0.5M1019.8 191.2l-2.1 0.4M1025.0 152.6l-5.3 7.4M1023.2 155.1l1.2 1.3M1023.2 155.1l-1.6 -0.7M1021.4 157.5l1.3 1.4M1021.4 157.5l-1.8 -0.8M1057.3 234.9l-10.3 3.6M1053.9 236.1l0.6 4.4M1053.9 236.1l-2.3 -3.8M1050.5 237.3l0.4 3.3M1050.5 237.3l-1.7 -2.9M1147.0 348.2l0.3 16.8M1147.0 351.6l3.7 0.7M1147.0 351.6l-3.7 0.8M1147.1 355.0l3.3 0.6M1147.1 355.0l-3.2 0.7M1147.1 358.3l3.2 0.6M1147.1 358.3l-3.2 0.7M1147.2 361.7l3.5 0.7M1147.2 361.7l-3.5 0.8M1184.9 356.5l12.2 5.2M1188.0 357.8l1.6 -2.3M1188.0 357.8l-0.5 2.7M1191.0 359.1l1.2 -1.8M1191.0 359.1l-0.4 2.1M1194.1 360.4l1.3 -1.9M1194.1 360.4l-0.5 2.3M1122.4 400.5l6.3 5.6M1125.6 403.3l3.7 -2.8M1125.6 403.3l-2.3 4.0M1174.3 379.1l9.9 0.5M1177.6 379.2l0.6 -2.4M1177.6 379.2l0.4 2.5M1180.9 379.4l0.7 -2.7M1180.9 379.4l0.4 2.8M1159.2 325.4l10.9 4.5M1162.8 326.9l1.0 -1.4M1162.8 326.9l-0.3 1.7M1166.5 328.4l1.6 -2.4M1166.5 328.4l-0.5 2.9M1111.2 282.0l7.7 4.0M1115.1 284.0l2.2 -2.7M1115.1 284.0l-1.0 3.4M1291.2 187.8l2.7 9.6M1292.1 191.0l2.8 -0.2M1292.1 191.0l-2.5 1.3M1293.0 194.2l1.8 -0.1M1293.0 194.2l-1.6 0.8M1295.6 224.2l-15.9 0.4M1292.5 224.2l-0.6 3.3M1292.5 224.2l-0.8 -3.3M1289.3 224.3l-0.4 2.0M1289.3 224.3l-0.5 -2.0M1286.1 224.4l-0.6 3.0M1286.1 224.4l-0.7 -3.0M1282.9 224.5l-0.5 2.8M1282.9 224.5l-0.6 -2.7M1295.7 262.6l-6.0 8.4M1293.7 265.4l1.3 1.4M1293.7 265.4l-1.7 -0.7M1291.7 268.2l2.3 2.4M1291.7 268.2l-3.1 -1.3M1306.3 252.2l-17.1 10.9M1303.5 254.0l0.7 2.0M1303.5 254.0l-1.5 -1.5M1300.6 255.9l1.0 2.7M1300.6 255.9l-2.0 -2.1M1297.8 257.7l1.2 3.1M1297.8 257.7l-2.3 -2.4M1294.9 259.5l1.0 2.7M1294.9 259.5l-2.0 -2.1M1292.0 261.3l0.9 2.3M1292.0 261.3l-1.7 -1.7M1295.9 202.9l6.4 11.9M1297.5 205.9l3.0 -0.9M1297.5 205.9l-2.4 2.0M1299.1 208.8l3.3 -1.0M1299.1 208.8l-2.6 2.2M1300.7 211.8l3.7 -1.1M1300.7 211.8l-3.0 2.5M1324.5 209.3l-11.5 3.2M1320.7 210.4l0.1 1.8M1320.7 210.4l-0.8 -1.6M1316.9 211.5l0.3 4.2M1316.9 211.5l-1.9 -3.7M1311.8 249.5l-0.6 19.4M1311.7 252.7l1.6 0.4M1311.7 252.7l-1.6 0.3M1311.6 255.9l2.7 0.6M1311.6 255.9l-2.7 0.5M1311.5 259.2l2.1 0.5M1311.5 259.2l-2.1 0.4M1311.4 262.4l2.5 0.6M1311.4 262.4l-2.5 0.4M1311.3 265.6l2.7 0.6M1311.3 265.6l-2.8 0.5M1078.6 152.8l-12.5 11.4M1076.1 155.1l1.4 2.4M1076.1 155.1l-2.3 -1.7M1073.6 157.4l1.0 1.7M1073.6 157.4l-1.6 -1.1M1071.2 159.7l1.5 2.6M1071.2 159.7l-2.5 -1.8M1068.7 162.0l1.4 2.4M1068.7 162.0l-2.3 -1.6M1107.0 102.4l-11.5 4.7M1104.1 103.6l0.4 2.2M1104.1 103.6l-1.3 -1.9M1101.2 104.8l0.8 4.5M1101.2 104.8l-2.6 -3.8M1098.3 106.0l0.7 3.8M1098.3 106.0l-2.1 -3.2M1034.9 138.3l13.7 6.4M1037.6 139.5l1.5 -2.0M1037.6 139.5l-0.6 2.4M1040.3 140.8l1.4 -1.9M1040.3 140.8l-0.5 2.3M1043.1 142.1l2.2 -3.0M1043.1 142.1l-0.9 3.7M1045.8 143.4l1.8 -2.4M1045.8 143.4l-0.7 3.0M1217.2 427.5l-11.5 12.5M1214.9 430.0l1.3 1.8M1214.9 430.0l-1.9 -1.2M1212.6 432.5l1.1 1.5M1212.6 432.5l-1.6 -1.0M1210.3 435.0l2.9 4.0M1210.3 435.0l-4.2 -2.5M1208.0 437.5l2.0 2.8M1208.0 437.5l-3.0 -1.8M1250.2 413.4l2.6 19.7M1250.6 416.7l2.9 0.2M1250.6 416.7l-2.7 1.0M1251.0 420.0l2.4 0.2M1251.0 420.0l-2.2 0.8M1251.4 423.3l3.4 0.3M1251.4 423.3l-3.2 1.1M1251.9 426.5l4.2 0.3M1251.9 426.5l-4.0 1.4M1252.3 429.8l2.3 0.2M1252.3 429.8l-2.2 0.8M1237.4 398.4l7.0 9.3M1239.7 401.5l3.0 -1.4M1239.7 401.5l-2.2 2.5M1242.0 404.6l3.7 -1.8M1242.0 404.6l-2.7 3.1M1239.6 433.0l-8.2 7.7M1236.9 435.5l0.9 1.5M1236.9 435.5l-1.4 -1.0M1234.2 438.1l1.1 1.8M1234.2 438.1l-1.7 -1.2M1213.1 460.3l2.0 15.4M1213.5 463.3l2.1 0.2M1213.5 463.3l-2.0 0.7M1213.9 466.4l3.5 0.3M1213.9 466.4l-3.3 1.2M1214.3 469.5l4.1 0.3M1214.3 469.5l-3.9 1.4M1214.7 472.6l1.8 0.1M1214.7 472.6l-1.7 0.6M1176.9 434.4l-11.7 1.5M1173.0 434.9l-0.3 3.3M1173.0 434.9l-1.1 -3.1M1169.1 435.4l-0.2 2.1M1169.1 435.4l-0.7 -2.0M1176.1 391.3l9.6 11.2M1178.5 394.1l2.5 -1.4M1178.5 394.1l-1.7 2.3M1180.9 396.9l4.7 -2.6M1180.9 396.9l-3.3 4.3M1183.3 399.7l2.6 -1.4M1183.3 399.7l-1.8 2.3M1106.3 257.1l-7.7 18.4M1105.0 260.2l2.0 1.4M1105.0 260.2l-2.4 -0.5M1103.8 263.3l3.3 2.3M1103.8 263.3l-4.0 -0.8M1102.5 266.4l2.0 1.3M1102.5 266.4l-2.3 -0.5M1101.2 269.4l3.7 2.5M1101.2 269.4l-4.4 -0.8M1099.9 272.5l2.0 1.4M1099.9 272.5l-2.4 -0.5M1078.3 268.4l7.0 7.2M1080.7 270.9l3.1 -1.9M1080.7 270.9l-2.1 3.0M1083.0 273.3l1.7 -1.0M1083.0 273.3l-1.1 1.6M1108.7 198.1l-13.3 8.3M1106.1 199.7l0.7 2.0M1106.1 199.7l-1.4 -1.5M1103.4 201.4l1.3 3.4M1103.4 201.4l-2.5 -2.7M1100.8 203.0l1.2 3.3M1100.8 203.0l-2.4 -2.6M1098.1 204.7l1.2 3.2M1098.1 204.7l-2.3 -2.4M1095.0 207.5l6.0 17.9M1095.9 210.5l1.8 -0.2M1095.9 210.5l-1.6 0.9M1096.9 213.5l4.4 -0.5M1096.9 213.5l-3.8 2.2M1097.9 216.4l3.5 -0.4M1097.9 216.4l-3.1 1.8M1098.9 219.4l2.5 -0.3M1098.9 219.4l-2.2 1.3M1099.9 222.4l2.5 -0.3M1099.9 222.4l-2.2 1.3M1091.8 254.7l-9.3 16.7M1090.3 257.5l1.3 1.1M1090.3 257.5l-1.6 -0.5M1088.7 260.3l2.3 2.0M1088.7 260.3l-2.9 -0.9M1087.2 263.0l2.6 2.2M1087.2 263.0l-3.3 -1.0M1085.6 265.8l2.2 1.9M1085.6 265.8l-2.8 -0.9M1084.1 268.6l1.4 1.2M1084.1 268.6l-1.8 -0.6M1099.1 266.7l12.4 13.6M1101.1 269.0l1.9 -1.1M1101.1 269.0l-1.3 1.8M1103.2 271.3l3.1 -1.8M1103.2 271.3l-2.1 2.9M1105.3 273.5l3.3 -2.0M1105.3 273.5l-2.3 3.1M1107.3 275.8l1.9 -1.1M1107.3 275.8l-1.3 1.8M1109.4 278.0l2.0 -1.2M1109.4 278.0l-1.3 1.9M1143.1 217.9l-0.7 17.2M1143.0 221.4l2.3 0.6M1143.0 221.4l-2.4 0.4M1142.8 224.8l4.5 1.1M1142.8 224.8l-4.6 0.8M1142.7 228.3l2.3 0.6M1142.7 228.3l-2.4 0.4M1142.6 231.7l3.7 0.9M1142.6 231.7l-3.8 0.6M1123.9 196.2l3.6 8.6M1125.1 199.1l3.8 -0.7M1125.1 199.1l-3.2 2.2M1126.3 201.9l2.8 -0.6M1126.3 201.9l-2.4 1.6M1096.8 228.8l-4.3 11.1M1095.4 232.5l3.8 2.4M1095.4 232.5l-4.4 -0.7M1094.0 236.3l3.2 2.1M1094.0 236.3l-3.8 -0.6" stroke="#f4f4f4" stroke-opacity="0.9" stroke-width="1.6" stroke-linecap="round" fill="none"/>
<path d="M1214.5 73.9l19.6 0.7M1217.8 74.0l0.6 -2.3M1217.8 74.0l0.4 2.4M1221.1 74.1l0.9 -3.8M1221.1 74.1l0.7 3.9M1224.4 74.2l1.2 -4.9M1224.4 74.2l0.9 5.0M1227.6 74.3l0.8 -3.3M1227.6 74.3l0.6 3.4M1230.9 74.4l0.8 -3.3M1230.9 74.4l0.6 3.3M1215.8 78.9l6.2 7.4M1217.8 81.4l1.5 -0.8M1217.8 81.4l-1.1 1.4M1219.9 83.8l3.2 -1.7M1219.9 83.8l-2.2 2.9M1217.1 88.0l2.7 10.2M1218.0 91.4l3.2 -0.2M1218.0 91.4l-2.9 1.4M1218.9 94.8l2.6 -0.1M1218.9 94.8l-2.3 1.2M1167.3 43.8l-6.3 6.2M1164.2 46.9l2.9 4.5M1164.2 46.9l-4.4 -2.9M1168.7 58.8l-9.3 15.4M1166.8 61.8l1.3 1.2M1166.8 61.8l-1.7 -0.6M1165.0 64.9l3.6 3.3M1165.0 64.9l-4.6 -1.6M1163.1 68.0l3.5 3.3M1163.1 68.0l-4.5 -1.6M1161.3 71.1l1.8 1.7M1161.3 71.1l-2.3 -0.8M1181.7 69.5l-19.5 0.7M1178.5 69.6l-0.5 3.1M1178.5 69.6l-0.7 -3.0M1175.2 69.7l-0.4 2.2M1175.2 69.7l-0.5 -2.2M1172.0 69.8l-0.5 3.0M1172.0 69.8l-0.7 -3.0M1168.8 69.9l-0.4 2.4M1168.8 69.9l-0.6 -2.3M1165.5 70.1l-0.5 2.7M1165.5 70.1l-0.6 -2.6M1192.2 119.3l17.6 8.7M1195.1 120.7l1.2 -1.6M1195.1 120.7l-0.5 1.9M1198.1 122.1l1.9 -2.5M1198.1 122.1l-0.8 3.1M1201.0 123.6l2.6 -3.3M1201.0 123.6l-1.1 4.1M1203.9 125.0l1.5 -1.9M1203.9 125.0l-0.6 2.3M1206.9 126.5l2.0 -2.6M1206.9 126.5l-0.8 3.2M1148.4 97.4l-8.2 4.6M1145.7 99.0l0.8 2.4M1145.7 99.0l-1.7 -1.9M1143.0 100.5l1.2 3.7M1143.0 100.5l-2.6 -2.9M1157.4 66.0l-8.3 2.8M1153.2 67.5l0.4 3.1M1153.2 67.5l-1.6 -2.7M1232.3 84.5l-4.0 20.1M1231.7 87.9l2.0 0.8M1231.7 87.9l-2.1 0.0M1231.0 91.3l4.2 1.8M1231.0 91.3l-4.5 0.0M1230.4 94.6l2.2 0.9M1230.4 94.6l-2.4 0.0M1229.7 98.0l1.7 0.7M1229.7 98.0l-1.8 0.0M1229.0 101.3l2.8 1.2M1229.0 101.3l-3.0 0.0M985.2 226.2l-11.6 4.8M982.3 227.3l0.6 3.1M982.3 227.3l-1.8 -2.6M979.3 228.5l0.6 3.1M979.3 228.5l-1.8 -2.6M976.4 229.7l0.3 1.6M976.4 229.7l-0.9 -1.4M1045.9 223.2l10.3 4.0M1049.3 224.6l2.4 -3.7M1049.3 224.6l-0.7 4.3M1052.8 225.9l1.7 -2.5M1052.8 225.9l-0.5 3.0M1069.9 202.1l13.3 2.0M1073.3 202.6l1.3 -3.6M1073.3 202.6l0.2 3.8M1076.6 203.1l1.7 -4.6M1076.6 203.1l0.3 4.9M1079.9 203.6l1.1 -2.9M1079.9 203.6l0.2 3.1M965.9 232.6l-18.5 8.1M962.9 234.0l0.3 1.5M962.9 234.0l-0.9 -1.3M959.8 235.3l0.5 2.5M959.8 235.3l-1.5 -2.1M956.7 236.6l0.8 3.6M956.7 236.6l-2.1 -3.0M953.6 238.0l0.6 3.1M953.6 238.0l-1.8 -2.6M950.5 239.3l0.7 3.2M950.5 239.3l-1.9 -2.7M1009.4 189.9l-0.8 19.1M1009.3 193.1l1.5 0.4M1009.3 193.1l-1.6 0.3M1009.2 196.3l4.0 1.0M1009.2 196.3l-4.0 0.7M1009.0 199.5l2.7 0.7M1009.0 199.5l-2.8 0.5M1008.9 202.7l3.9 1.0M1008.9 202.7l-4.0 0.7M1008.8 205.8l2.4 0.6M1008.8 205.8l-2.5 0.4M1037.3 243.5l-14.6 10.1M1034.4 245.6l0.8 1.9M1034.4 245.6l-1.5 -1.4M1031.5 247.6l1.0 2.3M1031.5 247.6l-1.8 -1.8M1028.5 249.6l0.9 2.1M1028.5 249.6l-1.6 -1.6M1025.6 251.6l1.1 2.5M1025.6 251.6l-2.0 -1.9M955.0 217.9l14.3 9.0M957.9 219.7l1.5 -1.5M957.9 219.7l-0.7 2.0M960.8 221.6l2.3 -2.4M960.8 221.6l-1.1 3.1M963.6 223.4l3.4 -3.5M963.6 223.4l-1.7 4.5M966.5 225.2l1.6 -1.6M966.5 225.2l-0.8 2.1M997.1 146.5l9.3 19.8M998.4 149.4l2.3 -0.6M998.4 149.4l-1.9 1.4M999.8 152.2l3.4 -0.8M999.8 152.2l-2.8 2.1M1001.1 155.0l3.1 -0.7M1001.1 155.0l-2.6 1.9M1002.4 157.8l4.1 -1.0M1002.4 157.8l-3.3 2.5M1003.7 160.7l2.3 -0.5M1003.7 160.7l-1.9 1.4M1005.0 163.5l3.3 -0.8M1005.0 163.5l-2.7 2.0M981.5 192.3l4.0 20.1M982.2 195.7l2.5 0.0M982.2 195.7l-2.3 1.0M982.9 199.0l2.7 0.0M982.9 199.0l-2.5 1.1M983.5 202.4l3.3 0.0M983.5 202.4l-3.1 1.3M984.2 205.7l4.5 0.0M984.2 205.7l-4.2 1.8M984.9 209.1l1.6 0.0M984.9 209.1l-1.5 0.6M1052.6 164.3l9.8 8.4M1055.0 166.4l2.8 -2.2M1055.0 166.4l-1.7 3.2M1057.5 168.5l4.2 -3.3M1057.5 168.5l-2.6 4.7M1060.0 170.6l3.2 -2.5M1060.0 170.6l-2.0 3.6M1004.9 225.8l0.6 15.8M1005.0 229.0l1.6 0.3M1005.0 229.0l-1.6 0.4M1005.1 232.1l3.8 0.6M1005.1 232.1l-3.7 0.9M1005.2 235.3l4.6 0.8M1005.2 235.3l-4.6 1.1M1005.4 238.4l3.6 0.6M1005.4 238.4l-3.5 0.9M1064.1 180.1l-8.6 1.1M1059.8 180.6l-0.2 2.9M1059.8 180.6l-1.0 -2.8M997.5 163.6l-9.0 12.3M995.7 166.1l1.5 1.7M995.7 166.1l-2.1 -0.9M993.9 168.6l2.2 2.5M993.9 168.6l-3.0 -1.4M992.1 171.0l3.3 3.6M992.1 171.0l-4.5 -2.0M990.3 173.5l2.2 2.5M990.3 173.5l-3.0 -1.4M1087.6 385.2l10.6 12.2M1089.7 387.6l2.3 -1.3M1089.7 387.6l-1.6 2.1M1091.8 390.0l3.8 -2.1M1091.8 390.0l-2.7 3.5M1094.0 392.5l1.9 -1.1M1094.0 392.5l-1.3 1.7M1096.1 394.9l2.5 -1.4M1096.1 394.9l-1.7 2.3M1077.4 403.6l-15.6 4.2M1074.3 404.4l0.2 3.5M1074.3 404.4l-1.6 -3.1M1071.2 405.3l0.2 3.0M1071.2 405.3l-1.3 -2.7M1068.1 406.1l0.1 2.2M1068.1 406.1l-1.0 -1.9M1064.9 406.9l0.2 2.9M1064.9 406.9l-1.3 -2.6M1116.9 356.2l-21.5 1.3M1113.9 356.4l-0.4 2.6M1113.9 356.4l-0.7 -2.6M1110.8 356.6l-0.5 3.4M1110.8 356.6l-0.9 -3.3M1107.7 356.7l-0.7 4.8M1107.7 356.7l-1.3 -4.7M1104.6 356.9l-0.5 3.3M1104.6 356.9l-0.9 -3.3M1101.6 357.1l-0.5 3.1M1101.6 357.1l-0.8 -3.1M1098.5 357.3l-0.3 1.8M1098.5 357.3l-0.5 -1.7M1109.0 414.1l-10.2 13.8M1107.0 416.8l1.1 1.2M1107.0 416.8l-1.4 -0.7M1104.9 419.6l1.6 1.8M1104.9 419.6l-2.1 -1.0M1102.9 422.4l3.1 3.5M1102.9 422.4l-4.2 -1.9M1100.8 425.1l2.4 2.7M1100.8 425.1l-3.3 -1.5M1085.1 347.3l3.5 8.8M1086.3 350.3l2.8 -0.5M1086.3 350.3l-2.3 1.5M1087.4 353.2l2.1 -0.4M1087.4 353.2l-1.8 1.2M1088.1 350.5l5.9 7.7M1090.0 353.1l2.2 -1.1M1090.0 353.1l-1.6 1.9M1092.0 355.7l4.0 -1.9M1092.0 355.7l-2.9 3.4M1097.2 365.4l-11.0 14.6M1095.3 367.9l1.1 1.2M1095.3 367.9l-1.5 -0.7M1093.5 370.3l2.6 3.0M1093.5 370.3l-3.6 -1.7M1091.7 372.7l3.3 3.8M1091.7 372.7l-4.5 -2.1M1089.8 375.2l1.7 1.9M1089.8 375.2l-2.3 -1.1M1088.0 377.6l1.6 1.8M1088.0 377.6l-2.2 -1.0M1094.7 326.3l-16.4 7.0M1091.4 327.7l0.5 2.5M1091.4 327.7l-1.4 -2.1M1088.1 329.1l0.7 3.4M1088.1 329.1l-2.0 -2.8M1084.8 330.5l0.5 2.4M1084.8 330.5l-1.4 -2.0M1081.6 331.9l0.4 2.1M1081.6 331.9l-1.2 -1.8M1128.8 318.0l1.1 15.2M1129.0 321.0l1.8 0.2M1129.0 321.0l-1.7 0.5M1129.2 324.1l1.8 0.2M1129.2 324.1l-1.8 0.5M1129.4 327.1l3.4 0.5M1129.4 327.1l-3.3 0.9M1129.7 330.1l2.3 0.3M1129.7 330.1l-2.2 0.6M1103.9 409.4l-5.0 7.7M1102.2 411.9l2.8 2.8M1102.2 411.9l-3.7 -1.4M1100.6 414.5l3.1 3.0M1100.6 414.5l-4.0 -1.6M1330.9 225.0l17.4 2.4M1334.4 225.5l1.2 -3.5M1334.4 225.5l0.3 3.7M1337.9 226.0l1.3 -3.6M1337.9 226.0l0.3 3.8M1341.4 226.5l0.7 -1.9M1341.4 226.5l0.1 2.0M1344.9 226.9l1.0 -2.9M1344.9 226.9l0.2 3.0M1293.9 261.5l12.5 1.2M1297.0 261.8l0.6 -1.8M1297.0 261.8l0.2 1.9M1300.1 262.1l1.3 -4.1M1300.1 262.1l0.5 4.2M1303.2 262.4l1.0 -3.2M1303.2 262.4l0.4 3.3M1292.4 215.3l20.7 3.8M1295.4 215.8l0.7 -1.7M1295.4 215.8l0.0 1.9M1298.3 216.4l0.9 -2.3M1298.3 216.4l0.1 2.5M1301.3 216.9l1.7 -4.2M1301.3 216.9l0.1 4.5M1304.2 217.5l1.5 -3.6M1304.2 217.5l0.1 3.9M1307.2 218.0l0.9 -2.1M1307.2 218.0l0.1 2.3M1310.2 218.6l0.9 -2.1M1310.2 218.6l0.1 2.3M1303.3 207.7l13.7 13.1M1305.6 209.9l1.1 -0.8M1305.6 209.9l-0.7 1.2M1307.9 212.1l2.9 -2.0M1307.9 212.1l-1.9 3.0M1310.2 214.2l2.8 -1.9M1310.2 214.2l-1.8 2.9M1312.5 216.4l3.3 -2.2M1312.5 216.4l-2.1 3.4M1314.8 218.6l2.5 -1.7M1314.8 218.6l-1.6 2.6M1332.3 239.0l-1.4 12.1M1331.9 242.0l1.8 0.6M1331.9 242.0l-1.9 0.2M1331.6 245.0l3.0 1.0M1331.6 245.0l-3.1 0.3M1331.2 248.1l3.8 1.2M1331.2 248.1l-3.9 0.4M1083.0 177.0l15.0 3.9M1086.0 177.8l0.8 -1.7M1086.0 177.8l-0.1 1.9M1089.0 178.5l1.3 -2.5M1089.0 178.5l-0.1 2.8M1092.0 179.3l1.6 -3.2M1092.0 179.3l-0.2 3.5M1094.9 180.1l1.3 -2.6M1094.9 180.1l-0.1 2.8M1100.0 159.1l-12.5 0.0M1096.8 159.1l-0.4 2.0M1096.8 159.1l-0.4 -2.0M1093.7 159.1l-0.7 3.5M1093.7 159.1l-0.7 -3.5M1090.6 159.1l-0.6 2.8M1090.6 159.1l-0.6 -2.8M1041.6 103.6l-14.3 10.6M1038.8 105.7l1.5 3.2M1038.8 105.7l-2.7 -2.4M1035.9 107.8l1.2 2.6M1035.9 107.8l-2.1 -1.9M1033.1 110.0l1.9 4.0M1033.1 110.0l-3.3 -2.9M1030.2 112.1l1.1 2.4M1030.2 112.1l-2.0 -1.8M1067.2 112.3l15.9 2.3M1070.4 112.8l1.1 -3.2M1070.4 112.8l0.2 3.3M1073.5 113.2l1.0 -2.8M1073.5 113.2l0.2 2.9M1076.7 113.7l1.2 -3.4M1076.7 113.7l0.2 3.6M1079.9 114.1l1.1 -3.0M1079.9 114.1l0.2 3.2M1049.0 94.2l2.6 19.8M1049.4 97.5l3.4 0.2M1049.4 97.5l-3.2 1.1M1049.8 100.8l2.9 0.2M1049.8 100.8l-2.7 0.9M1050.3 104.1l4.4 0.3M1050.3 104.1l-4.2 1.5M1050.7 107.4l2.2 0.2M1050.7 107.4l-2.1 0.7M1051.1 110.7l1.5 0.1M1051.1 110.7l-1.4 0.5M1110.4 116.0l16.5 2.4M1113.7 116.5l1.1 -3.1M1113.7 116.5l0.2 3.3M1117.0 117.0l1.7 -4.6M1117.0 117.0l0.3 4.9M1120.3 117.5l1.6 -4.5M1120.3 117.5l0.3 4.7M1123.6 117.9l0.9 -2.4M1123.6 117.9l0.2 2.5M1081.4 144.0l11.1 12.7M1083.6 146.5l1.2 -0.7M1083.6 146.5l-0.8 1.1M1085.8 149.1l3.8 -2.1M1085.8 149.1l-2.6 3.5M1088.1 151.6l3.7 -2.1M1088.1 151.6l-2.5 3.3M1090.3 154.1l2.7 -1.5M1090.3 154.1l-1.9 2.5M1214.9 450.8l-13.5 0.7M1211.6 450.9l-0.6 3.6M1211.6 450.9l-0.9 -3.6M1208.2 451.1l-0.6 3.7M1208.2 451.1l-0.9 -3.6M1204.8 451.3l-0.5 3.1M1204.8 451.3l-0.8 -3.1M1076.9 237.3l-1.4 9.8M1076.4 240.6l4.1 1.5M1076.4 240.6l-4.4 0.3M1075.9 243.9l2.4 0.9M1075.9 243.9l-2.6 0.2M1076.4 260.6l-6.0 6.4M1073.4 263.9l2.8 4.0M1073.4 263.9l-4.1 -2.5M1102.8 207.7l17.7 2.2M1106.3 208.1l0.6 -1.9M1106.3 208.1l0.2 2.0M1109.8 208.5l0.8 -2.2M1109.8 208.5l0.2 2.3M1113.4 209.0l1.2 -3.4M1113.4 209.0l0.3 3.6M1116.9 209.4l1.2 -3.5M1116.9 209.4l0.3 3.6M1107.6 208.0l-17.0 10.5M1104.7 209.8l0.6 1.7M1104.7 209.8l-1.2 -1.3M1101.9 211.6l0.8 2.2M1101.9 211.6l-1.6 -1.7M1099.1 213.3l0.8 2.1M1099.1 213.3l-1.5 -1.6M1096.2 215.1l0.6 1.7M1096.2 215.1l-1.2 -1.3M1093.4 216.8l1.0 2.9M1093.4 216.8l-2.1 -2.2M1056.4 232.3l8.1 10.0M1058.5 234.8l3.7 -1.9M1058.5 234.8l-2.6 3.2M1060.5 237.3l2.1 -1.1M1060.5 237.3l-1.5 1.8M1062.5 239.8l3.1 -1.6M1062.5 239.8l-2.2 2.7" stroke="#f4f4f4" stroke-opacity="0.9" stroke-width="2.6" stroke-linecap="round" fill="none"/>
<ellipse cx="1017" cy="224" rx="16" ry="5.5" transform="rotate(8 1017 224)" fill="#0c0c0c" fill-opacity="0.88" filter="url(#blur2)"/>
<ellipse cx="1339" cy="229" rx="6" ry="9" transform="rotate(25 1339 229)" fill="#0c0c0c" fill-opacity="0.88" filter="url(#blur2)"/>
<ellipse cx="1318" cy="184" rx="3.5" ry="3" transform="rotate(0 1318 184)" fill="#0c0c0c" fill-opacity="0.88" filter="url(#blur2)"/>
<ellipse cx="1231" cy="433" rx="4.5" ry="5.5" transform="rotate(0 1231 433)" fill="#0c0c0c" fill-opacity="0.88" filter="url(#blur2)"/>
<ellipse cx="1152" cy="150" rx="8" ry="4.5" transform="rotate(20 1152 150)" fill="#0c0c0c" fill-opacity="0.88" filter="url(#blur2)"/>
<ellipse cx="1057" cy="290" rx="4" ry="6" transform="rotate(20 1057 290)" fill="#0c0c0c" fill-opacity="0.88" filter="url(#blur2)"/>
<ellipse cx="1023" cy="427" rx="6" ry="3.5" transform="rotate(35 1023 427)" fill="#0c0c0c" fill-opacity="0.88" filter="url(#blur2)"/>
<ellipse cx="1362" cy="366" rx="8" ry="4" transform="rotate(-30 1362 366)" fill="#0c0c0c" fill-opacity="0.88" filter="url(#blur2)"/>
<rect x="900" y="0" width="560" height="530" fill="url(#shade)"/>
<rect x="900" y="0" width="560" height="530" fill="url(#shade2)"/>
<rect x="900" y="0" width="560" height="530" fill="url(#shade3)"/>
</g>
<ellipse cx="1175.5" cy="262.0" rx="256.0" ry="251.0" fill="url(#rim)"/>
<g filter="url(#blur1)">
<path d="M918 306 L927 294 L938 296 L952 330 L959 366 L952 373 L940 358 L930 342 L921 326Z" fill="#8c8c8c"/>
<path d="M929 283 L940 305 L950 335 L956 364" stroke="#f6f6f6" stroke-width="5.5" stroke-linecap="round" fill="none"/>
<path d="M937 284 L949 310 L958 340 L962 362" stroke="#0a0a0a" stroke-width="2.6" fill="none"/>
<path d="M920 300l1 1M922 318l1 2M925 332l2 2M932 346l2 2M941 300l2 4M944 352l3 5M933 310l2 3" stroke="#f0f0f0" stroke-width="3.5" stroke-linecap="round" fill="none"/>
<path d="M1396 136 L1404 158 L1418 186 L1432 212" stroke="#000" stroke-width="7" fill="none"/>
<path d="M1399 129 L1409 133 L1423 150 L1435 171 L1441 191 L1437 208 L1430 205 L1419 187 L1409 165 L1400 143Z" fill="#7e7e7e"/>
<path d="M1407 152 L1417 159 L1429 179 L1434 197 L1427 197 L1416 179Z" fill="#f8f8f8"/>
<path d="M1436 175l1 2M1439 192l0 3M1431 200l2 3" stroke="#ddd" stroke-width="3" stroke-linecap="round" fill="none"/>
</g>
<g fill="none" stroke="#30e4ec" stroke-width="1.4"><circle cx="1179.2" cy="266.2" r="61.5"/><circle cx="1295.2" cy="338" r="21.8"/><path d="M933 325h9M937.5 320.500v9M1413.5 160.400h9M1418 156v9"/></g>
<text x="1121.5" y="195.6" font-size="14.5" fill="#f21616" textLength="104" lengthAdjust="spacingAndGlyphs">Set13-12_body1</text>
<text x="1277" y="309" font-size="14.5" fill="#f21616" textLength="105" lengthAdjust="spacingAndGlyphs">Set13-12_body2</text>
<text x="924" y="311.3" font-size="14.5" fill="#f21616" textLength="141.5" lengthAdjust="spacingAndGlyphs">Set13-12_metalbead1</text>
<text x="1404" y="148" font-size="14.5" fill="#f21616" textLength="143" lengthAdjust="spacingAndGlyphs">Set13-12_metalbead2</text>
<path d="M1382 574.200H1554.700M1382.600 565.500v18M1554.100 565.500v18" stroke="#fff" stroke-width="2.5" fill="none"/>
<text x="1445.800" y="566.800" font-size="14.5" font-weight="bold" fill="#fff" textLength="40.6" lengthAdjust="spacingAndGlyphs">50 µm</text>
<rect x="12.500" y="1497" width="1601.5" height="30.5" fill="#d9d9d9"/>
<path d="M12.5 1496.500H1614.500V1651H12.500ZM12.500 1527.500H1614.500" stroke="#000" stroke-width="1.3" fill="none"/>
<text x="52" y="1520" font-size="22" fill="#000" textLength="40" lengthAdjust="spacingAndGlyphs">MM</text>
<text x="137" y="1520" font-size="22" fill="#000" textLength="154" lengthAdjust="spacingAndGlyphs">Spectrum name</text>
<text x="507" y="1520" font-size="22" fill="#000" textLength="67" lengthAdjust="spacingAndGlyphs">setting</text>
<text x="582" y="1520" font-size="22" fill="#000" textLength="12" lengthAdjust="spacingAndGlyphs">C</text>
<text x="605" y="1520" font-size="22" fill="#000" textLength="15" lengthAdjust="spacingAndGlyphs">O</text>
<text x="630" y="1520" font-size="22" fill="#000" textLength="54" lengthAdjust="spacingAndGlyphs">Na2O</text>
<text x="699" y="1520" font-size="22" fill="#000" textLength="46" lengthAdjust="spacingAndGlyphs">MgO</text>
<text x="757" y="1520" font-size="22" fill="#000" textLength="59" lengthAdjust="spacingAndGlyphs">Al2O3</text>
<text x="830" y="1520" font-size="22" fill="#000" textLength="43" lengthAdjust="spacingAndGlyphs">SiO2</text>
<text x="891" y="1520" font-size="22" fill="#000" textLength="50" lengthAdjust="spacingAndGlyphs">P2O5</text>
<text x="963" y="1520" font-size="22" fill="#000" textLength="37" lengthAdjust="spacingAndGlyphs">SO3</text>
<text x="1017" y="1520" font-size="22" fill="#000" textLength="38" lengthAdjust="spacingAndGlyphs">K2O</text>
<text x="1071" y="1520" font-size="22" fill="#000" textLength="39" lengthAdjust="spacingAndGlyphs">CaO</text>
<text x="1128" y="1520" font-size="22" fill="#000" textLength="47" lengthAdjust="spacingAndGlyphs">TiO2</text>
<text x="1181" y="1520" font-size="22" fill="#000" textLength="60" lengthAdjust="spacingAndGlyphs">Cr2O3</text>
<text x="1251" y="1520" font-size="22" fill="#000" textLength="48" lengthAdjust="spacingAndGlyphs">MnO</text>
<text x="1322" y="1520" font-size="22" fill="#000" textLength="38" lengthAdjust="spacingAndGlyphs">FeO</text>
<text x="1374" y="1520" font-size="22" fill="#000" textLength="24" lengthAdjust="spacingAndGlyphs">Co</text>
<text x="1422" y="1520" font-size="22" fill="#000" textLength="19" lengthAdjust="spacingAndGlyphs">Ni</text>
<text x="1474" y="1520" font-size="22" fill="#000" textLength="24" lengthAdjust="spacingAndGlyphs">Cu</text>
<text x="1516" y="1520" font-size="22" fill="#000" textLength="23" lengthAdjust="spacingAndGlyphs">Zn</text>
<text x="1561" y="1520" font-size="22" fill="#000" textLength="40" lengthAdjust="spacingAndGlyphs">Sum</text>
<text x="16" y="1551" font-size="22" fill="#000" textLength="104" lengthAdjust="spacingAndGlyphs">THMM547</text>
<text x="137" y="1551" font-size="22" fill="#000" textLength="159" lengthAdjust="spacingAndGlyphs">Set13-12_body1</text>
<text x="534.5" y="1551" font-size="22" fill="#000" textLength="11.0" lengthAdjust="spacingAndGlyphs">1</text>
<text x="581.5" y="1551" font-size="22" fill="#000" textLength="11.0" lengthAdjust="spacingAndGlyphs">0</text>
<text x="606.5" y="1551" font-size="22" fill="#000" textLength="11.0" lengthAdjust="spacingAndGlyphs">0</text>
<text x="701.5" y="1551" font-size="22" fill="#000" textLength="41.0" lengthAdjust="spacingAndGlyphs">21,8</text>
<text x="772.0" y="1551" font-size="22" fill="#000" textLength="30.0" lengthAdjust="spacingAndGlyphs">3,6</text>
<text x="830.5" y="1551" font-size="22" fill="#000" textLength="41.0" lengthAdjust="spacingAndGlyphs">35,0</text>
<text x="1075.0" y="1551" font-size="22" fill="#000" textLength="30.0" lengthAdjust="spacingAndGlyphs">3,0</text>
<text x="1196.0" y="1551" font-size="22" fill="#000" textLength="30.0" lengthAdjust="spacingAndGlyphs">0,7</text>
<text x="1319.5" y="1551" font-size="22" fill="#000" textLength="41.0" lengthAdjust="spacingAndGlyphs">35,8</text>
<text x="1417.0" y="1551" font-size="22" fill="#000" textLength="30.0" lengthAdjust="spacingAndGlyphs">0,1</text>
<text x="1555" y="1551" font-size="22" fill="#000" textLength="53" lengthAdjust="spacingAndGlyphs">100,0</text>
<text x="16" y="1582" font-size="22" fill="#000" textLength="104" lengthAdjust="spacingAndGlyphs">THMM547</text>
<text x="137" y="1582" font-size="22" fill="#000" textLength="159" lengthAdjust="spacingAndGlyphs">Set13-12_body2</text>
<text x="534.5" y="1582" font-size="22" fill="#000" textLength="11.0" lengthAdjust="spacingAndGlyphs">1</text>
<text x="581.5" y="1582" font-size="22" fill="#000" textLength="11.0" lengthAdjust="spacingAndGlyphs">0</text>
<text x="606.5" y="1582" font-size="22" fill="#000" textLength="11.0" lengthAdjust="spacingAndGlyphs">0</text>
<text x="701.5" y="1582" font-size="22" fill="#000" textLength="41.0" lengthAdjust="spacingAndGlyphs">23,1</text>
<text x="772.0" y="1582" font-size="22" fill="#000" textLength="30.0" lengthAdjust="spacingAndGlyphs">3,1</text>
<text x="830.5" y="1582" font-size="22" fill="#000" textLength="41.0" lengthAdjust="spacingAndGlyphs">35,4</text>
<text x="1075.0" y="1582" font-size="22" fill="#000" textLength="30.0" lengthAdjust="spacingAndGlyphs">2,3</text>
<text x="1196.0" y="1582" font-size="22" fill="#000" textLength="30.0" lengthAdjust="spacingAndGlyphs">1,9</text>
<text x="1319.5" y="1582" font-size="22" fill="#000" textLength="41.0" lengthAdjust="spacingAndGlyphs">34,1</text>
<text x="1417.0" y="1582" font-size="22" fill="#000" textLength="30.0" lengthAdjust="spacingAndGlyphs">0,0</text>
<text x="1555" y="1582" font-size="22" fill="#000" textLength="53" lengthAdjust="spacingAndGlyphs">100,0</text>
<text x="16" y="1613" font-size="22" fill="#000" textLength="104" lengthAdjust="spacingAndGlyphs">THMM547</text>
<text x="137" y="1613" font-size="22" fill="#000" textLength="216" lengthAdjust="spacingAndGlyphs">Set13-12_metalbead1</text>
<text x="534.5" y="1613" font-size="22" fill="#000" textLength="11.0" lengthAdjust="spacingAndGlyphs">2</text>
<text x="581.5" y="1613" font-size="22" fill="#000" textLength="11.0" lengthAdjust="spacingAndGlyphs">0</text>
<text x="606.5" y="1613" font-size="22" fill="#000" textLength="11.0" lengthAdjust="spacingAndGlyphs">0</text>
<text x="772.0" y="1613" font-size="22" fill="#000" textLength="30.0" lengthAdjust="spacingAndGlyphs">1,1</text>
<text x="836.0" y="1613" font-size="22" fill="#000" textLength="30.0" lengthAdjust="spacingAndGlyphs">3,9</text>
<text x="901.0" y="1613" font-size="22" fill="#000" textLength="30.0" lengthAdjust="spacingAndGlyphs">0,6</text>
<text x="966.0" y="1613" font-size="22" fill="#000" textLength="30.0" lengthAdjust="spacingAndGlyphs">0,4</text>
<text x="1075.0" y="1613" font-size="22" fill="#000" textLength="30.0" lengthAdjust="spacingAndGlyphs">1,0</text>
<text x="1319.5" y="1613" font-size="22" fill="#000" textLength="41.0" lengthAdjust="spacingAndGlyphs">90,4</text>
<text x="1417.0" y="1613" font-size="22" fill="#000" textLength="30.0" lengthAdjust="spacingAndGlyphs">2,6</text>
<text x="1555" y="1613" font-size="22" fill="#000" textLength="53" lengthAdjust="spacingAndGlyphs">100,0</text>
<text x="16" y="1644" font-size="22" fill="#000" textLength="104" lengthAdjust="spacingAndGlyphs">THMM547</text>
<text x="137" y="1644" font-size="22" fill="#000" textLength="216" lengthAdjust="spacingAndGlyphs">Set13-12_metalbead2</text>
<text x="534.5" y="1644" font-size="22" fill="#000" textLength="11.0" lengthAdjust="spacingAndGlyphs">2</text>
<text x="581.5" y="1644" font-size="22" fill="#000" textLength="11.0" lengthAdjust="spacingAndGlyphs">0</text>
<text x="606.5" y="1644" font-size="22" fill="#000" textLength="11.0" lengthAdjust="spacingAndGlyphs">0</text>
<text x="707.0" y="1644" font-size="22" fill="#000" textLength="30.0" lengthAdjust="spacingAndGlyphs">1,6</text>
<text x="772.0" y="1644" font-size="22" fill="#000" textLength="30.0" lengthAdjust="spacingAndGlyphs">1,5</text>
<text x="836.0" y="1644" font-size="22" fill="#000" textLength="30.0" lengthAdjust="spacingAndGlyphs">2,0</text>
<text x="901.0" y="1644" font-size="22" fill="#000" textLength="30.0" lengthAdjust="spacingAndGlyphs">0,5</text>
<text x="966.0" y="1644" font-size="22" fill="#000" textLength="30.0" lengthAdjust="spacingAndGlyphs">1,0</text>
<text x="1319.5" y="1644" font-size="22" fill="#000" textLength="41.0" lengthAdjust="spacingAndGlyphs">92,0</text>
<text x="1417.0" y="1644" font-size="22" fill="#000" textLength="30.0" lengthAdjust="spacingAndGlyphs">1,4</text>
<text x="1555" y="1644" font-size="22" fill="#000" textLength="53" lengthAdjust="spacingAndGlyphs">100,0</text>
<text x="16.5" y="1674.8" font-size="18" fill="#111" textLength="220.0" lengthAdjust="spacingAndGlyphs">setting 1: preset elements:</text>
<text x="243.5" y="1674.8" font-size="18" fill="#111" textLength="326.5" lengthAdjust="spacingAndGlyphs">C(not unfolding),O,Mg,Al,Si,Ca,Cr,Fe,Ni;</text>
<text x="577.5" y="1674.8" font-size="18" fill="#111" textLength="155.0" lengthAdjust="spacingAndGlyphs">optional elements:</text>
<text x="740" y="1674.8" font-size="18" fill="#111" textLength="197.5" lengthAdjust="spacingAndGlyphs">Na,P,S,K,Ti,Mn,Co,Cu,Zn</text>
<text x="944" y="1674.8" font-size="18" fill="#111" textLength="234.5" lengthAdjust="spacingAndGlyphs">(values normalized to 100%)</text>
<text x="16.5" y="1705" font-size="18" fill="#111" textLength="220.0" lengthAdjust="spacingAndGlyphs">setting 2: preset elements:</text>
<text x="243.5" y="1705" font-size="18" fill="#111" textLength="234.0" lengthAdjust="spacingAndGlyphs">C(not unfolding),O,P,S,Fe,Ni;</text>
<text x="485" y="1705" font-size="18" fill="#111" textLength="156.0" lengthAdjust="spacingAndGlyphs">optional elements:</text>
<text x="648.5" y="1705" font-size="18" fill="#111" textLength="140.0" lengthAdjust="spacingAndGlyphs">Na,Mg,Al,Si,K,Ca,</text>
<text x="788.5" y="1705" font-size="18" fill="#8c8c8c" textLength="16.5" lengthAdjust="spacingAndGlyphs">Sc</text>
<text x="805" y="1705" font-size="18" fill="#111" textLength="160.0" lengthAdjust="spacingAndGlyphs">,Ti,Cr,Mn,Co,Cu,Zn,</text>
<text x="965" y="1705" font-size="18" fill="#8c8c8c" textLength="140.0" lengthAdjust="spacingAndGlyphs">Ru,Rh,Pd,Os,Ir,Pt</text>
<text x="1110" y="1705" font-size="18" fill="#111" textLength="235.0" lengthAdjust="spacingAndGlyphs">(values normalized to 100%)</text>
</svg></body></html>
